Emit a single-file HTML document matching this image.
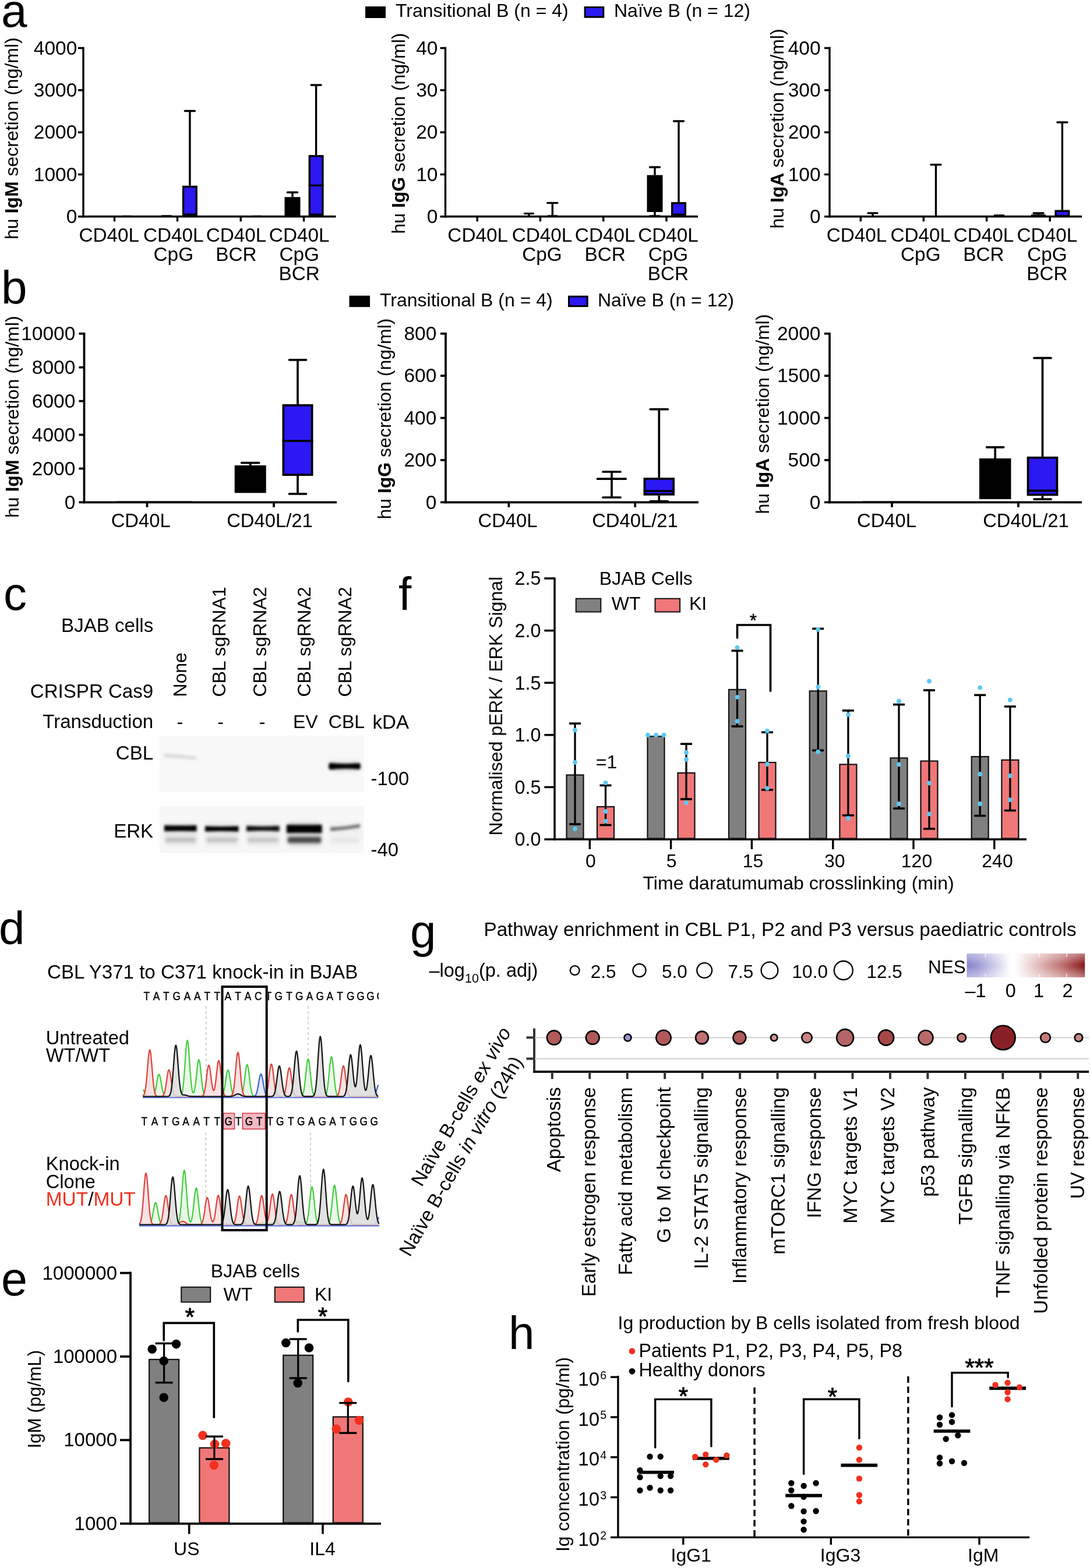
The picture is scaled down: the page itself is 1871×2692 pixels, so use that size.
<!DOCTYPE html>
<html><head><meta charset="utf-8"><title>Figure</title>
<style>
html,body{margin:0;padding:0;background:#fff;}
svg{display:block;}
text{font-family:"Liberation Sans",Arial,Helvetica,sans-serif;}
</style></head><body>
<svg width="1871" height="2692" viewBox="0 0 1871 2692">
<rect x="0" y="0" width="1871" height="2692" fill="#fff"/>
<text x="2" y="46" font-size="80">a</text>
<text x="2" y="521" font-size="80">b</text>
<text x="6" y="1047" font-size="80">c</text>
<text x="684" y="1047" font-size="80">f</text>
<text x="-2" y="1621" font-size="80">d</text>
<text x="2" y="2223.5" font-size="81">e</text>
<text x="704" y="1626" font-size="80">g</text>
<text x="873" y="2316" font-size="80">h</text>
<rect x="627" y="11" width="35" height="20" fill="#000"/>
<text x="679" y="29" font-size="32">Transitional B (n = 4)</text>
<rect x="1004.1" y="12.5" width="31.7" height="16.7" fill="#2b18f3" stroke="#000" stroke-width="3"/>
<text x="1054" y="29" font-size="32">Na&#239;ve B (n = 12)</text>
<rect x="599.5" y="507.6" width="35.5" height="19.5" fill="#000"/>
<text x="652" y="526" font-size="32">Transitional B (n = 4)</text>
<rect x="976.5" y="509.1" width="31.7" height="16.5" fill="#2b18f3" stroke="#000" stroke-width="3"/>
<text x="1026" y="526" font-size="32">Na&#239;ve B (n = 12)</text>
<line x1="143" y1="80.8" x2="143" y2="373.5" stroke="#000" stroke-width="3.4" stroke-linecap="butt"/>
<line x1="134" y1="82.5" x2="143" y2="82.5" stroke="#000" stroke-width="3.4" stroke-linecap="butt"/>
<text x="132.3" y="93.7" font-size="33.5" text-anchor="end">4000</text>
<line x1="134" y1="154.82" x2="143" y2="154.82" stroke="#000" stroke-width="3.4" stroke-linecap="butt"/>
<text x="132.3" y="166.02" font-size="33.5" text-anchor="end">3000</text>
<line x1="134" y1="227.15" x2="143" y2="227.15" stroke="#000" stroke-width="3.4" stroke-linecap="butt"/>
<text x="132.3" y="238.35" font-size="33.5" text-anchor="end">2000</text>
<line x1="134" y1="299.48" x2="143" y2="299.48" stroke="#000" stroke-width="3.4" stroke-linecap="butt"/>
<text x="132.3" y="310.68" font-size="33.5" text-anchor="end">1000</text>
<line x1="134" y1="371.8" x2="143" y2="371.8" stroke="#000" stroke-width="3.4" stroke-linecap="butt"/>
<text x="132.3" y="383" font-size="33.5" text-anchor="end">0</text>
<line x1="141.3" y1="371.8" x2="576.5" y2="371.8" stroke="#000" stroke-width="3.4" stroke-linecap="butt"/>
<line x1="196.5" y1="371.8" x2="196.5" y2="380.3" stroke="#000" stroke-width="3.4" stroke-linecap="butt"/>
<line x1="304.5" y1="371.8" x2="304.5" y2="380.3" stroke="#000" stroke-width="3.4" stroke-linecap="butt"/>
<line x1="413.2" y1="371.8" x2="413.2" y2="380.3" stroke="#000" stroke-width="3.4" stroke-linecap="butt"/>
<line x1="521.5" y1="371.8" x2="521.5" y2="380.3" stroke="#000" stroke-width="3.4" stroke-linecap="butt"/>
<line x1="210" y1="371" x2="226" y2="371" stroke="#000" stroke-width="2.5" stroke-linecap="round"/>
<line x1="278" y1="370.5" x2="294" y2="370.5" stroke="#000" stroke-width="2.5" stroke-linecap="round"/>
<line x1="434" y1="371" x2="449" y2="371" stroke="#000" stroke-width="2.5" stroke-linecap="round"/>
<line x1="325.9" y1="190.5" x2="325.9" y2="318.8" stroke="#000" stroke-width="3.4" stroke-linecap="butt"/>
<line x1="317.4" y1="190.5" x2="334.4" y2="190.5" stroke="#000" stroke-width="3.4" stroke-linecap="round"/>
<rect x="314.6" y="320.5" width="22.6" height="47.8" fill="#2b18f3" stroke="#000" stroke-width="3.4"/>
<line x1="502" y1="330.2" x2="502" y2="338.3" stroke="#000" stroke-width="3.4" stroke-linecap="butt"/>
<line x1="493.5" y1="330.2" x2="510.5" y2="330.2" stroke="#000" stroke-width="3.4" stroke-linecap="round"/>
<rect x="490.2" y="340" width="23.6" height="28.3" fill="#000" stroke="#000" stroke-width="3.4"/>
<line x1="542.6" y1="146" x2="542.6" y2="266.2" stroke="#000" stroke-width="3.4" stroke-linecap="butt"/>
<line x1="534.1" y1="146" x2="551.1" y2="146" stroke="#000" stroke-width="3.4" stroke-linecap="round"/>
<rect x="531.3" y="267.9" width="22.6" height="100.4" fill="#2b18f3" stroke="#000" stroke-width="3.4"/>
<line x1="529.6" y1="318.4" x2="555.6" y2="318.4" stroke="#000" stroke-width="3.4" stroke-linecap="butt"/>
<text x="187.3" y="414.5" font-size="33.3" text-anchor="middle">CD40L</text>
<text x="297.8" y="414.5" font-size="33.3" text-anchor="middle">CD40L</text>
<text x="297.8" y="447.5" font-size="33.3" text-anchor="middle">CpG</text>
<text x="405.5" y="414.5" font-size="33.3" text-anchor="middle">CD40L</text>
<text x="405.5" y="447.5" font-size="33.3" text-anchor="middle">BCR</text>
<text x="513.7" y="414.5" font-size="33.3" text-anchor="middle">CD40L</text>
<text x="513.7" y="447.5" font-size="33.3" text-anchor="middle">CpG</text>
<text x="513.7" y="480.5" font-size="33.3" text-anchor="middle">BCR</text>
<text x="31" y="411" font-size="32" transform="rotate(-90 31 411)">hu <tspan font-weight="bold">IgM</tspan> secretion (ng/ml)</text>
<line x1="764.5" y1="80.8" x2="764.5" y2="373.5" stroke="#000" stroke-width="3.4" stroke-linecap="butt"/>
<line x1="755.5" y1="82.5" x2="764.5" y2="82.5" stroke="#000" stroke-width="3.4" stroke-linecap="butt"/>
<text x="751.5" y="93.7" font-size="33.5" text-anchor="end">40</text>
<line x1="755.5" y1="154.82" x2="764.5" y2="154.82" stroke="#000" stroke-width="3.4" stroke-linecap="butt"/>
<text x="751.5" y="166.02" font-size="33.5" text-anchor="end">30</text>
<line x1="755.5" y1="227.15" x2="764.5" y2="227.15" stroke="#000" stroke-width="3.4" stroke-linecap="butt"/>
<text x="751.5" y="238.35" font-size="33.5" text-anchor="end">20</text>
<line x1="755.5" y1="299.48" x2="764.5" y2="299.48" stroke="#000" stroke-width="3.4" stroke-linecap="butt"/>
<text x="751.5" y="310.68" font-size="33.5" text-anchor="end">10</text>
<line x1="755.5" y1="371.8" x2="764.5" y2="371.8" stroke="#000" stroke-width="3.4" stroke-linecap="butt"/>
<text x="751.5" y="383" font-size="33.5" text-anchor="end">0</text>
<line x1="762.8" y1="371.8" x2="1198" y2="371.8" stroke="#000" stroke-width="3.4" stroke-linecap="butt"/>
<line x1="819.2" y1="371.8" x2="819.2" y2="380.3" stroke="#000" stroke-width="3.4" stroke-linecap="butt"/>
<line x1="927.4" y1="371.8" x2="927.4" y2="380.3" stroke="#000" stroke-width="3.4" stroke-linecap="butt"/>
<line x1="1035.7" y1="371.8" x2="1035.7" y2="380.3" stroke="#000" stroke-width="3.4" stroke-linecap="butt"/>
<line x1="1144" y1="371.8" x2="1144" y2="380.3" stroke="#000" stroke-width="3.4" stroke-linecap="butt"/>
<line x1="908" y1="366.6" x2="908" y2="371" stroke="#000" stroke-width="3.4" stroke-linecap="butt"/>
<line x1="900.5" y1="366.6" x2="915.5" y2="366.6" stroke="#000" stroke-width="3.4" stroke-linecap="round"/>
<line x1="940" y1="370.5" x2="957" y2="370.5" stroke="#000" stroke-width="2.5" stroke-linecap="butt"/>
<line x1="948.3" y1="348.4" x2="948.3" y2="371" stroke="#000" stroke-width="3.4" stroke-linecap="butt"/>
<line x1="939.8" y1="348.4" x2="956.8" y2="348.4" stroke="#000" stroke-width="3.4" stroke-linecap="round"/>
<line x1="1124" y1="287" x2="1124" y2="300.6" stroke="#000" stroke-width="3.4" stroke-linecap="butt"/>
<line x1="1115.5" y1="287" x2="1132.5" y2="287" stroke="#000" stroke-width="3.4" stroke-linecap="round"/>
<line x1="1124" y1="364" x2="1124" y2="371" stroke="#000" stroke-width="3.4" stroke-linecap="butt"/>
<line x1="1115.5" y1="371" x2="1132.5" y2="371" stroke="#000" stroke-width="3.4" stroke-linecap="round"/>
<rect x="1112.2" y="302.3" width="23.6" height="60" fill="#000" stroke="#000" stroke-width="3.4"/>
<line x1="1165" y1="208" x2="1165" y2="347" stroke="#000" stroke-width="3.4" stroke-linecap="butt"/>
<line x1="1156.5" y1="208" x2="1173.5" y2="208" stroke="#000" stroke-width="3.4" stroke-linecap="round"/>
<rect x="1153.7" y="348.7" width="22.6" height="19.6" fill="#2b18f3" stroke="#000" stroke-width="3.4"/>
<text x="820.2" y="414.5" font-size="33.3" text-anchor="middle">CD40L</text>
<text x="930.5" y="414.5" font-size="33.3" text-anchor="middle">CD40L</text>
<text x="930.5" y="447.5" font-size="33.3" text-anchor="middle">CpG</text>
<text x="1038.7" y="414.5" font-size="33.3" text-anchor="middle">CD40L</text>
<text x="1038.7" y="447.5" font-size="33.3" text-anchor="middle">BCR</text>
<text x="1147" y="414.5" font-size="33.3" text-anchor="middle">CD40L</text>
<text x="1147" y="447.5" font-size="33.3" text-anchor="middle">CpG</text>
<text x="1147" y="480.5" font-size="33.3" text-anchor="middle">BCR</text>
<text x="695.5" y="401.6" font-size="32" transform="rotate(-90 695.5 401.6)">hu <tspan font-weight="bold">IgG</tspan> secretion (ng/ml)</text>
<line x1="1424" y1="80.8" x2="1424" y2="373.5" stroke="#000" stroke-width="3.4" stroke-linecap="butt"/>
<line x1="1415" y1="82.5" x2="1424" y2="82.5" stroke="#000" stroke-width="3.4" stroke-linecap="butt"/>
<text x="1408.6" y="93.7" font-size="33.5" text-anchor="end">400</text>
<line x1="1415" y1="154.82" x2="1424" y2="154.82" stroke="#000" stroke-width="3.4" stroke-linecap="butt"/>
<text x="1408.6" y="166.02" font-size="33.5" text-anchor="end">300</text>
<line x1="1415" y1="227.15" x2="1424" y2="227.15" stroke="#000" stroke-width="3.4" stroke-linecap="butt"/>
<text x="1408.6" y="238.35" font-size="33.5" text-anchor="end">200</text>
<line x1="1415" y1="299.48" x2="1424" y2="299.48" stroke="#000" stroke-width="3.4" stroke-linecap="butt"/>
<text x="1408.6" y="310.68" font-size="33.5" text-anchor="end">100</text>
<line x1="1415" y1="371.8" x2="1424" y2="371.8" stroke="#000" stroke-width="3.4" stroke-linecap="butt"/>
<text x="1408.6" y="383" font-size="33.5" text-anchor="end">0</text>
<line x1="1422.3" y1="371.8" x2="1857" y2="371.8" stroke="#000" stroke-width="3.4" stroke-linecap="butt"/>
<line x1="1477.3" y1="371.8" x2="1477.3" y2="380.3" stroke="#000" stroke-width="3.4" stroke-linecap="butt"/>
<line x1="1585.3" y1="371.8" x2="1585.3" y2="380.3" stroke="#000" stroke-width="3.4" stroke-linecap="butt"/>
<line x1="1693.6" y1="371.8" x2="1693.6" y2="380.3" stroke="#000" stroke-width="3.4" stroke-linecap="butt"/>
<line x1="1802.2" y1="371.8" x2="1802.2" y2="380.3" stroke="#000" stroke-width="3.4" stroke-linecap="butt"/>
<line x1="1498" y1="365.9" x2="1498" y2="371" stroke="#000" stroke-width="3.4" stroke-linecap="butt"/>
<line x1="1490" y1="365.9" x2="1506" y2="365.9" stroke="#000" stroke-width="3.4" stroke-linecap="round"/>
<line x1="1606.5" y1="282.8" x2="1606.5" y2="371" stroke="#000" stroke-width="3.4" stroke-linecap="butt"/>
<line x1="1598" y1="282.8" x2="1615" y2="282.8" stroke="#000" stroke-width="3.4" stroke-linecap="round"/>
<line x1="1707" y1="369.5" x2="1723" y2="369.5" stroke="#000" stroke-width="2.5" stroke-linecap="round"/>
<line x1="1770" y1="369.5" x2="1795" y2="369.5" stroke="#000" stroke-width="2.5" stroke-linecap="butt"/>
<line x1="1782.6" y1="366" x2="1782.6" y2="370" stroke="#000" stroke-width="3.4" stroke-linecap="butt"/>
<line x1="1774.1" y1="366" x2="1791.1" y2="366" stroke="#000" stroke-width="3.4" stroke-linecap="round"/>
<line x1="1823.4" y1="210" x2="1823.4" y2="360.5" stroke="#000" stroke-width="3.4" stroke-linecap="butt"/>
<line x1="1814.9" y1="210" x2="1831.9" y2="210" stroke="#000" stroke-width="3.4" stroke-linecap="round"/>
<rect x="1812.1" y="362.2" width="22.6" height="8.6" fill="#2b18f3" stroke="#000" stroke-width="3.4"/>
<text x="1470.5" y="414.5" font-size="33.3" text-anchor="middle">CD40L</text>
<text x="1580.3" y="414.5" font-size="33.3" text-anchor="middle">CD40L</text>
<text x="1580.3" y="447.5" font-size="33.3" text-anchor="middle">CpG</text>
<text x="1688.5" y="414.5" font-size="33.3" text-anchor="middle">CD40L</text>
<text x="1688.5" y="447.5" font-size="33.3" text-anchor="middle">BCR</text>
<text x="1797.4" y="414.5" font-size="33.3" text-anchor="middle">CD40L</text>
<text x="1797.4" y="447.5" font-size="33.3" text-anchor="middle">CpG</text>
<text x="1797.4" y="480.5" font-size="33.3" text-anchor="middle">BCR</text>
<text x="1345.5" y="392.6" font-size="32" transform="rotate(-90 1345.5 392.6)">hu <tspan font-weight="bold">IgA</tspan> secretion (ng/ml)</text>
<line x1="144.5" y1="570.95" x2="144.5" y2="864.15" stroke="#000" stroke-width="3.7" stroke-linecap="butt"/>
<line x1="135.5" y1="572.8" x2="144.5" y2="572.8" stroke="#000" stroke-width="3.7" stroke-linecap="butt"/>
<text x="129.3" y="584" font-size="33.5" text-anchor="end">10000</text>
<line x1="135.5" y1="630.7" x2="144.5" y2="630.7" stroke="#000" stroke-width="3.7" stroke-linecap="butt"/>
<text x="129.3" y="641.9" font-size="33.5" text-anchor="end">8000</text>
<line x1="135.5" y1="688.6" x2="144.5" y2="688.6" stroke="#000" stroke-width="3.7" stroke-linecap="butt"/>
<text x="129.3" y="699.8" font-size="33.5" text-anchor="end">6000</text>
<line x1="135.5" y1="746.5" x2="144.5" y2="746.5" stroke="#000" stroke-width="3.7" stroke-linecap="butt"/>
<text x="129.3" y="757.7" font-size="33.5" text-anchor="end">4000</text>
<line x1="135.5" y1="804.4" x2="144.5" y2="804.4" stroke="#000" stroke-width="3.7" stroke-linecap="butt"/>
<text x="129.3" y="815.6" font-size="33.5" text-anchor="end">2000</text>
<line x1="135.5" y1="862.3" x2="144.5" y2="862.3" stroke="#000" stroke-width="3.7" stroke-linecap="butt"/>
<text x="129.3" y="873.5" font-size="33.5" text-anchor="end">0</text>
<line x1="142.65" y1="862.3" x2="578" y2="862.3" stroke="#000" stroke-width="3.7" stroke-linecap="butt"/>
<line x1="252.5" y1="862.3" x2="252.5" y2="870.8" stroke="#000" stroke-width="3.7" stroke-linecap="butt"/>
<line x1="470" y1="862.3" x2="470" y2="870.8" stroke="#000" stroke-width="3.7" stroke-linecap="butt"/>
<line x1="200" y1="861.5" x2="330" y2="861.5" stroke="#000" stroke-width="2" stroke-linecap="butt"/>
<line x1="429.7" y1="794.6" x2="429.7" y2="798.9" stroke="#000" stroke-width="3.7" stroke-linecap="butt"/>
<line x1="414.7" y1="794.6" x2="444.7" y2="794.6" stroke="#000" stroke-width="3.7" stroke-linecap="round"/>
<rect x="404.55" y="800.75" width="50.3" height="43.7" fill="#000" stroke="#000" stroke-width="3.7"/>
<line x1="511" y1="617.8" x2="511" y2="694" stroke="#000" stroke-width="3.7" stroke-linecap="butt"/>
<line x1="496.5" y1="617.8" x2="525.5" y2="617.8" stroke="#000" stroke-width="3.7" stroke-linecap="round"/>
<line x1="511" y1="817" x2="511" y2="847.8" stroke="#000" stroke-width="3.7" stroke-linecap="butt"/>
<line x1="496.5" y1="847.8" x2="525.5" y2="847.8" stroke="#000" stroke-width="3.7" stroke-linecap="round"/>
<rect x="486.35" y="695.85" width="49.3" height="119.3" fill="#2b18f3" stroke="#000" stroke-width="3.7"/>
<line x1="484.5" y1="757" x2="537.5" y2="757" stroke="#000" stroke-width="3.7" stroke-linecap="butt"/>
<text x="241.7" y="904.5" font-size="32.8" text-anchor="middle">CD40L</text>
<text x="463" y="904.5" font-size="32.8" text-anchor="middle">CD40L/21</text>
<text x="32" y="889" font-size="32" transform="rotate(-90 32 889)">hu <tspan font-weight="bold">IgM</tspan> secretion (ng/ml)</text>
<line x1="765" y1="570.95" x2="765" y2="864.15" stroke="#000" stroke-width="3.7" stroke-linecap="butt"/>
<line x1="756" y1="572.8" x2="765" y2="572.8" stroke="#000" stroke-width="3.7" stroke-linecap="butt"/>
<text x="749.3" y="584" font-size="33.5" text-anchor="end">800</text>
<line x1="756" y1="645.17" x2="765" y2="645.17" stroke="#000" stroke-width="3.7" stroke-linecap="butt"/>
<text x="749.3" y="656.38" font-size="33.5" text-anchor="end">600</text>
<line x1="756" y1="717.55" x2="765" y2="717.55" stroke="#000" stroke-width="3.7" stroke-linecap="butt"/>
<text x="749.3" y="728.75" font-size="33.5" text-anchor="end">400</text>
<line x1="756" y1="789.92" x2="765" y2="789.92" stroke="#000" stroke-width="3.7" stroke-linecap="butt"/>
<text x="749.3" y="801.12" font-size="33.5" text-anchor="end">200</text>
<line x1="756" y1="862.3" x2="765" y2="862.3" stroke="#000" stroke-width="3.7" stroke-linecap="butt"/>
<text x="749.3" y="873.5" font-size="33.5" text-anchor="end">0</text>
<line x1="763.15" y1="862.3" x2="1199" y2="862.3" stroke="#000" stroke-width="3.7" stroke-linecap="butt"/>
<line x1="873.3" y1="862.3" x2="873.3" y2="870.8" stroke="#000" stroke-width="3.7" stroke-linecap="butt"/>
<line x1="1090.2" y1="862.3" x2="1090.2" y2="870.8" stroke="#000" stroke-width="3.7" stroke-linecap="butt"/>
<line x1="1025.5" y1="822.2" x2="1074.1" y2="822.2" stroke="#000" stroke-width="3.7" stroke-linecap="round"/>
<line x1="1050" y1="810" x2="1050" y2="854" stroke="#000" stroke-width="3.7" stroke-linecap="butt"/>
<line x1="1035" y1="810" x2="1065" y2="810" stroke="#000" stroke-width="3.7" stroke-linecap="round"/>
<line x1="1035" y1="854" x2="1065" y2="854" stroke="#000" stroke-width="3.7" stroke-linecap="round"/>
<line x1="1131.3" y1="702.6" x2="1131.3" y2="820.1" stroke="#000" stroke-width="3.7" stroke-linecap="butt"/>
<line x1="1116.3" y1="702.6" x2="1146.3" y2="702.6" stroke="#000" stroke-width="3.7" stroke-linecap="round"/>
<line x1="1131.3" y1="850.7" x2="1131.3" y2="860.5" stroke="#000" stroke-width="3.7" stroke-linecap="butt"/>
<line x1="1116.3" y1="860.5" x2="1146.3" y2="860.5" stroke="#000" stroke-width="3.7" stroke-linecap="round"/>
<rect x="1106.4" y="821.95" width="49.8" height="26.9" fill="#2b18f3" stroke="#000" stroke-width="3.7"/>
<line x1="1104.55" y1="843" x2="1158.05" y2="843" stroke="#000" stroke-width="3.7" stroke-linecap="butt"/>
<text x="871.5" y="905" font-size="32.8" text-anchor="middle">CD40L</text>
<text x="1090" y="905" font-size="32.8" text-anchor="middle">CD40L/21</text>
<text x="671.5" y="891.6" font-size="32" transform="rotate(-90 671.5 891.6)">hu <tspan font-weight="bold">IgG</tspan> secretion (ng/ml)</text>
<line x1="1424" y1="570.95" x2="1424" y2="864.15" stroke="#000" stroke-width="3.7" stroke-linecap="butt"/>
<line x1="1415" y1="572.8" x2="1424" y2="572.8" stroke="#000" stroke-width="3.7" stroke-linecap="butt"/>
<text x="1408.5" y="584" font-size="33.5" text-anchor="end">2000</text>
<line x1="1415" y1="645.17" x2="1424" y2="645.17" stroke="#000" stroke-width="3.7" stroke-linecap="butt"/>
<text x="1408.5" y="656.38" font-size="33.5" text-anchor="end">1500</text>
<line x1="1415" y1="717.55" x2="1424" y2="717.55" stroke="#000" stroke-width="3.7" stroke-linecap="butt"/>
<text x="1408.5" y="728.75" font-size="33.5" text-anchor="end">1000</text>
<line x1="1415" y1="789.92" x2="1424" y2="789.92" stroke="#000" stroke-width="3.7" stroke-linecap="butt"/>
<text x="1408.5" y="801.12" font-size="33.5" text-anchor="end">500</text>
<line x1="1415" y1="862.3" x2="1424" y2="862.3" stroke="#000" stroke-width="3.7" stroke-linecap="butt"/>
<text x="1408.5" y="873.5" font-size="33.5" text-anchor="end">0</text>
<line x1="1422.15" y1="862.3" x2="1857" y2="862.3" stroke="#000" stroke-width="3.7" stroke-linecap="butt"/>
<line x1="1531" y1="862.3" x2="1531" y2="870.8" stroke="#000" stroke-width="3.7" stroke-linecap="butt"/>
<line x1="1748" y1="862.3" x2="1748" y2="870.8" stroke="#000" stroke-width="3.7" stroke-linecap="butt"/>
<line x1="1480" y1="861.5" x2="1580" y2="861.5" stroke="#000" stroke-width="2" stroke-linecap="butt"/>
<line x1="1708.2" y1="767.8" x2="1708.2" y2="787" stroke="#000" stroke-width="3.7" stroke-linecap="butt"/>
<line x1="1693.7" y1="767.8" x2="1722.7" y2="767.8" stroke="#000" stroke-width="3.7" stroke-linecap="round"/>
<rect x="1682.8" y="788.85" width="50.8" height="66.3" fill="#000" stroke="#000" stroke-width="3.7"/>
<line x1="1789.5" y1="614.7" x2="1789.5" y2="783.9" stroke="#000" stroke-width="3.7" stroke-linecap="butt"/>
<line x1="1775" y1="614.7" x2="1804" y2="614.7" stroke="#000" stroke-width="3.7" stroke-linecap="round"/>
<line x1="1789.5" y1="851.3" x2="1789.5" y2="857" stroke="#000" stroke-width="3.7" stroke-linecap="butt"/>
<line x1="1775" y1="857" x2="1804" y2="857" stroke="#000" stroke-width="3.7" stroke-linecap="round"/>
<rect x="1764.55" y="785.75" width="49.9" height="63.7" fill="#2b18f3" stroke="#000" stroke-width="3.7"/>
<line x1="1762.7" y1="842.4" x2="1816.3" y2="842.4" stroke="#000" stroke-width="3.7" stroke-linecap="butt"/>
<text x="1522" y="905" font-size="32.8" text-anchor="middle">CD40L</text>
<text x="1761" y="905" font-size="32.8" text-anchor="middle">CD40L/21</text>
<text x="1320.5" y="882.6" font-size="32" transform="rotate(-90 1320.5 882.6)">hu <tspan font-weight="bold">IgA</tspan> secretion (ng/ml)</text>
<defs><filter id="bl2" x="-20%" y="-100%" width="140%" height="300%"><feGaussianBlur stdDeviation="2.1"/></filter><filter id="bl3" x="-20%" y="-100%" width="140%" height="300%"><feGaussianBlur stdDeviation="2.4"/></filter><linearGradient id="nes" x1="0" x2="1" y1="0" y2="0"><stop offset="0" stop-color="#8884cc"/><stop offset="0.1" stop-color="#9e9bd6"/><stop offset="0.25" stop-color="#d2d1ec"/><stop offset="0.37" stop-color="#ffffff"/><stop offset="0.41" stop-color="#ffffff"/><stop offset="0.6" stop-color="#e3bcbc"/><stop offset="0.8" stop-color="#c07474"/><stop offset="1" stop-color="#8a1a1e"/></linearGradient><linearGradient id="nesv" x1="0" x2="0" y1="0" y2="1"><stop offset="0" stop-color="#fff" stop-opacity="0.42"/><stop offset="0.45" stop-color="#fff" stop-opacity="0"/><stop offset="0.55" stop-color="#fff" stop-opacity="0"/><stop offset="1" stop-color="#fff" stop-opacity="0.42"/></linearGradient></defs>
<text x="263.2" y="1085.3" font-size="33.1" text-anchor="end">BJAB cells</text>
<text x="263.2" y="1198.3" font-size="33.1" text-anchor="end">CRISPR Cas9</text>
<text x="263.2" y="1250.4" font-size="33.1" text-anchor="end">Transduction</text>
<text x="263.2" y="1303.5" font-size="33.1" text-anchor="end">CBL</text>
<text x="263.2" y="1438" font-size="33.1" text-anchor="end">ERK</text>
<text x="319.8" y="1196.6" font-size="32" transform="rotate(-90 319.8 1196.6)">None</text>
<text x="387" y="1196.6" font-size="32" transform="rotate(-90 387 1196.6)">CBL sgRNA1</text>
<text x="457" y="1196.6" font-size="32" transform="rotate(-90 457 1196.6)">CBL sgRNA2</text>
<text x="533" y="1196.6" font-size="32" transform="rotate(-90 533 1196.6)">CBL sgRNA2</text>
<text x="603" y="1196.6" font-size="32" transform="rotate(-90 603 1196.6)">CBL sgRNA2</text>
<text x="308.8" y="1249.6" font-size="32" text-anchor="middle">-</text>
<text x="378.5" y="1249.6" font-size="32" text-anchor="middle">-</text>
<text x="450" y="1249.6" font-size="32" text-anchor="middle">-</text>
<text x="502.9" y="1249.6" font-size="32">EV</text>
<text x="563.8" y="1249.6" font-size="32">CBL</text>
<text x="639.6" y="1251" font-size="33">kDA</text>
<text x="636.5" y="1348" font-size="32.8">-100</text>
<text x="636.5" y="1469.6" font-size="32.8">-40</text>
<filter id="bl4" x="-30%" y="-200%" width="160%" height="500%"><feGaussianBlur stdDeviation="3.5"/></filter>
<rect x="274" y="1263" width="350.6" height="96.5" fill="#f8f8f8"/>
<rect x="274" y="1384" width="350.6" height="80" fill="#f7f7f7"/>
<g filter="url(#bl4)"><rect x="566" y="1306" width="52" height="19" rx="8" fill="#e2e2e2"/></g>
<g filter="url(#bl2)">
<path d="M281,1294 Q310,1295 337,1299 L337,1304 Q310,1302 281,1300 Z" fill="#dadada"/>
<path d="M566,1309.5 Q590,1312.5 617,1310 Q621,1315.5 617,1321 Q590,1318.5 566,1321.5 Q562,1315.5 566,1309.5 Z" fill="#050505"/>
</g>
<g filter="url(#bl4)">
<rect x="283" y="1412" width="54" height="40" rx="6" fill="#e6e6e6"/>
<rect x="353" y="1412" width="56" height="40" rx="6" fill="#e8e8e8"/>
<rect x="424" y="1412" width="55" height="40" rx="6" fill="#e8e8e8"/>
<rect x="493" y="1412" width="59" height="40" rx="6" fill="#cfcfcf"/>
<rect x="567" y="1412" width="51" height="40" rx="6" fill="#f0f0f0"/>
</g>
<g filter="url(#bl3)">
<rect x="284" y="1438.5" width="52" height="7" rx="3" fill="#bdbdbd"/>
<rect x="354" y="1438.5" width="54" height="7" rx="3" fill="#c2c2c2"/>
<rect x="425" y="1438.5" width="53" height="7" rx="3" fill="#c4c4c4"/>
<rect x="494" y="1437.0" width="57" height="10" rx="3" fill="#484848"/>
<rect x="569" y="1439.5" width="47" height="5" rx="3" fill="#e2e2e2"/>
</g>
<g filter="url(#bl2)">
<path d="M282,1416.75 Q309.75,1417.8 337.5,1416.75 L337.5,1427.25 Q309.75,1426.2 282,1427.25 Z" fill="#000"/>
<path d="M352,1418.25 Q380.75,1419.675 409.5,1418.25 L409.5,1427.75 Q380.75,1426.325 352,1427.75 Z" fill="#050505"/>
<path d="M423,1417.75 Q451.25,1419.8875 479.5,1417.75 L479.5,1427.25 Q451.25,1425.1125 423,1427.25 Z" fill="#080808"/>
<path d="M492,1416.0 Q522.25,1416.7 552.5,1416.0 L552.5,1430.0 Q522.25,1429.3 492,1430.0 Z" fill="#000"/>
<path d="M567,1420 Q590,1419.5 618,1414.5 L618,1421 Q592,1425 567,1427 Z" fill="#7a7a7a"/>
</g>
<line x1="952" y1="991.6" x2="952" y2="1442.7" stroke="#000" stroke-width="3.5" stroke-linecap="butt"/>
<line x1="934.3" y1="1441" x2="952" y2="1441" stroke="#000" stroke-width="3.5" stroke-linecap="butt"/>
<text x="928.5" y="1452.4" font-size="32.3" text-anchor="end">0.0</text>
<line x1="934.3" y1="1351.4" x2="952" y2="1351.4" stroke="#000" stroke-width="3.5" stroke-linecap="butt"/>
<text x="928.5" y="1362.8" font-size="32.3" text-anchor="end">0.5</text>
<line x1="934.3" y1="1261.8" x2="952" y2="1261.8" stroke="#000" stroke-width="3.5" stroke-linecap="butt"/>
<text x="928.5" y="1273.2" font-size="32.3" text-anchor="end">1.0</text>
<line x1="934.3" y1="1172.2" x2="952" y2="1172.2" stroke="#000" stroke-width="3.5" stroke-linecap="butt"/>
<text x="928.5" y="1183.6" font-size="32.3" text-anchor="end">1.5</text>
<line x1="934.3" y1="1082.6" x2="952" y2="1082.6" stroke="#000" stroke-width="3.5" stroke-linecap="butt"/>
<text x="928.5" y="1094" font-size="32.3" text-anchor="end">2.0</text>
<line x1="934.3" y1="993" x2="952" y2="993" stroke="#000" stroke-width="3.5" stroke-linecap="butt"/>
<text x="928.5" y="1004.4" font-size="32.3" text-anchor="end">2.5</text>
<line x1="950.4" y1="1441" x2="1762" y2="1441" stroke="#000" stroke-width="3.4" stroke-linecap="butt"/>
<line x1="1012.3" y1="1441" x2="1012.3" y2="1458" stroke="#000" stroke-width="3.4" stroke-linecap="butt"/>
<text x="1013.8" y="1489.3" font-size="32" text-anchor="middle">0</text>
<line x1="1151.6" y1="1441" x2="1151.6" y2="1458" stroke="#000" stroke-width="3.4" stroke-linecap="butt"/>
<text x="1152.6" y="1489.3" font-size="32" text-anchor="middle">5</text>
<line x1="1290.4" y1="1441" x2="1290.4" y2="1458" stroke="#000" stroke-width="3.4" stroke-linecap="butt"/>
<text x="1292.6" y="1489.3" font-size="32" text-anchor="middle">15</text>
<line x1="1429.8" y1="1441" x2="1429.8" y2="1458" stroke="#000" stroke-width="3.4" stroke-linecap="butt"/>
<text x="1432.8" y="1489.3" font-size="32" text-anchor="middle">30</text>
<line x1="1568" y1="1441" x2="1568" y2="1458" stroke="#000" stroke-width="3.4" stroke-linecap="butt"/>
<text x="1573.5" y="1489.3" font-size="32" text-anchor="middle">120</text>
<line x1="1706.8" y1="1441" x2="1706.8" y2="1458" stroke="#000" stroke-width="3.4" stroke-linecap="butt"/>
<text x="1712" y="1489.3" font-size="32" text-anchor="middle">240</text>
<text x="1103.5" y="1527.3" font-size="32">Time daratumumab crosslinking (min)</text>
<text x="862" y="1434.5" font-size="32" transform="rotate(-90 862 1434.5)">Normalised pERK / ERK Signal</text>
<text x="1028.8" y="1004" font-size="32">BJAB Cells</text>
<rect x="988.7" y="1027.7" width="42.6" height="22.8" fill="#808080" stroke="#111" stroke-width="2"/>
<text x="1049.8" y="1047" font-size="32">WT</text>
<rect x="1124.5" y="1027.7" width="42.6" height="22.8" fill="#f07778" stroke="#111" stroke-width="2"/>
<text x="1183" y="1047" font-size="32">KI</text>
<rect x="972.5" y="1330.5" width="29" height="109" fill="#808080" stroke="#111" stroke-width="2.2"/>
<rect x="1025" y="1385" width="29" height="54.5" fill="#f07778" stroke="#111" stroke-width="2.2"/>
<rect x="1111.5" y="1264.2" width="29" height="175.3" fill="#808080" stroke="#111" stroke-width="2.2"/>
<rect x="1163.5" y="1327" width="29" height="112.5" fill="#f07778" stroke="#111" stroke-width="2.2"/>
<rect x="1251" y="1183.9" width="29" height="255.6" fill="#808080" stroke="#111" stroke-width="2.2"/>
<rect x="1302.5" y="1309" width="29" height="130.5" fill="#f07778" stroke="#111" stroke-width="2.2"/>
<rect x="1389.7" y="1186.4" width="29" height="253.1" fill="#808080" stroke="#111" stroke-width="2.2"/>
<rect x="1441.4" y="1312.4" width="29" height="127.1" fill="#f07778" stroke="#111" stroke-width="2.2"/>
<rect x="1528.5" y="1301.4" width="29" height="138.1" fill="#808080" stroke="#111" stroke-width="2.2"/>
<rect x="1580.5" y="1306.6" width="29" height="132.9" fill="#f07778" stroke="#111" stroke-width="2.2"/>
<rect x="1667.7" y="1299" width="29" height="140.5" fill="#808080" stroke="#111" stroke-width="2.2"/>
<rect x="1719.4" y="1304.8" width="29" height="134.7" fill="#f07778" stroke="#111" stroke-width="2.2"/>
<line x1="987" y1="1242.1" x2="987" y2="1415" stroke="#000" stroke-width="3.3" stroke-linecap="butt"/>
<line x1="977" y1="1242.1" x2="997" y2="1242.1" stroke="#000" stroke-width="3.6" stroke-linecap="butt"/>
<line x1="977" y1="1415" x2="997" y2="1415" stroke="#000" stroke-width="3.6" stroke-linecap="butt"/>
<circle cx="987" cy="1253.7" r="3.9" fill="#5cc8f2"/>
<circle cx="987" cy="1308.8" r="3.9" fill="#5cc8f2"/>
<circle cx="987" cy="1423" r="3.9" fill="#5cc8f2"/>
<line x1="1039.5" y1="1348.4" x2="1039.5" y2="1416.5" stroke="#000" stroke-width="3.3" stroke-linecap="butt"/>
<line x1="1029.5" y1="1348.4" x2="1049.5" y2="1348.4" stroke="#000" stroke-width="3.6" stroke-linecap="butt"/>
<line x1="1029.5" y1="1416.5" x2="1049.5" y2="1416.5" stroke="#000" stroke-width="3.6" stroke-linecap="butt"/>
<circle cx="1039.5" cy="1343.9" r="3.9" fill="#5cc8f2"/>
<circle cx="1039.5" cy="1393" r="3.9" fill="#5cc8f2"/>
<circle cx="1039.5" cy="1409.8" r="3.9" fill="#5cc8f2"/>
<line x1="1178" y1="1277.2" x2="1178" y2="1372" stroke="#000" stroke-width="3.3" stroke-linecap="butt"/>
<line x1="1168" y1="1277.2" x2="1188" y2="1277.2" stroke="#000" stroke-width="3.6" stroke-linecap="butt"/>
<line x1="1168" y1="1372" x2="1188" y2="1372" stroke="#000" stroke-width="3.6" stroke-linecap="butt"/>
<circle cx="1178" cy="1292" r="3.9" fill="#5cc8f2"/>
<circle cx="1178" cy="1303.9" r="3.9" fill="#5cc8f2"/>
<circle cx="1178" cy="1378.2" r="3.9" fill="#5cc8f2"/>
<line x1="1265.5" y1="1117.2" x2="1265.5" y2="1247" stroke="#000" stroke-width="3.3" stroke-linecap="butt"/>
<line x1="1255.5" y1="1117.2" x2="1275.5" y2="1117.2" stroke="#000" stroke-width="3.6" stroke-linecap="butt"/>
<line x1="1255.5" y1="1247" x2="1275.5" y2="1247" stroke="#000" stroke-width="3.6" stroke-linecap="butt"/>
<circle cx="1265.5" cy="1111.6" r="3.9" fill="#5cc8f2"/>
<circle cx="1265.5" cy="1196.8" r="3.9" fill="#5cc8f2"/>
<circle cx="1265.5" cy="1238.2" r="3.9" fill="#5cc8f2"/>
<line x1="1317" y1="1257.2" x2="1317" y2="1356" stroke="#000" stroke-width="3.3" stroke-linecap="butt"/>
<line x1="1307" y1="1257.2" x2="1327" y2="1257.2" stroke="#000" stroke-width="3.6" stroke-linecap="butt"/>
<line x1="1307" y1="1356" x2="1327" y2="1356" stroke="#000" stroke-width="3.6" stroke-linecap="butt"/>
<circle cx="1317" cy="1255" r="3.9" fill="#5cc8f2"/>
<circle cx="1317" cy="1312" r="3.9" fill="#5cc8f2"/>
<circle cx="1317" cy="1353.3" r="3.9" fill="#5cc8f2"/>
<line x1="1404.2" y1="1079.4" x2="1404.2" y2="1288.3" stroke="#000" stroke-width="3.3" stroke-linecap="butt"/>
<line x1="1394.2" y1="1079.4" x2="1414.2" y2="1079.4" stroke="#000" stroke-width="3.6" stroke-linecap="butt"/>
<line x1="1394.2" y1="1288.3" x2="1414.2" y2="1288.3" stroke="#000" stroke-width="3.6" stroke-linecap="butt"/>
<circle cx="1404.2" cy="1080.8" r="3.9" fill="#5cc8f2"/>
<circle cx="1404.2" cy="1179.5" r="3.9" fill="#5cc8f2"/>
<circle cx="1404.2" cy="1290.7" r="3.9" fill="#5cc8f2"/>
<line x1="1455.9" y1="1219.9" x2="1455.9" y2="1399.8" stroke="#000" stroke-width="3.3" stroke-linecap="butt"/>
<line x1="1445.9" y1="1219.9" x2="1465.9" y2="1219.9" stroke="#000" stroke-width="3.6" stroke-linecap="butt"/>
<line x1="1445.9" y1="1399.8" x2="1465.9" y2="1399.8" stroke="#000" stroke-width="3.6" stroke-linecap="butt"/>
<circle cx="1455.9" cy="1226.8" r="3.9" fill="#5cc8f2"/>
<circle cx="1455.9" cy="1297.9" r="3.9" fill="#5cc8f2"/>
<circle cx="1455.9" cy="1405" r="3.9" fill="#5cc8f2"/>
<line x1="1543" y1="1209.6" x2="1543" y2="1388" stroke="#000" stroke-width="3.3" stroke-linecap="butt"/>
<line x1="1533" y1="1209.6" x2="1553" y2="1209.6" stroke="#000" stroke-width="3.6" stroke-linecap="butt"/>
<line x1="1533" y1="1388" x2="1553" y2="1388" stroke="#000" stroke-width="3.6" stroke-linecap="butt"/>
<circle cx="1543" cy="1203.7" r="3.9" fill="#5cc8f2"/>
<circle cx="1543" cy="1312.4" r="3.9" fill="#5cc8f2"/>
<circle cx="1543" cy="1380" r="3.9" fill="#5cc8f2"/>
<line x1="1595" y1="1185" x2="1595" y2="1422.9" stroke="#000" stroke-width="3.3" stroke-linecap="butt"/>
<line x1="1585" y1="1185" x2="1605" y2="1185" stroke="#000" stroke-width="3.6" stroke-linecap="butt"/>
<line x1="1585" y1="1422.9" x2="1605" y2="1422.9" stroke="#000" stroke-width="3.6" stroke-linecap="butt"/>
<circle cx="1595" cy="1169.5" r="3.9" fill="#5cc8f2"/>
<circle cx="1595" cy="1344.5" r="3.9" fill="#5cc8f2"/>
<circle cx="1595" cy="1397.4" r="3.9" fill="#5cc8f2"/>
<line x1="1682.2" y1="1193.3" x2="1682.2" y2="1400.5" stroke="#000" stroke-width="3.3" stroke-linecap="butt"/>
<line x1="1672.2" y1="1193.3" x2="1692.2" y2="1193.3" stroke="#000" stroke-width="3.6" stroke-linecap="butt"/>
<line x1="1672.2" y1="1400.5" x2="1692.2" y2="1400.5" stroke="#000" stroke-width="3.6" stroke-linecap="butt"/>
<circle cx="1682.2" cy="1180.6" r="3.9" fill="#5cc8f2"/>
<circle cx="1682.2" cy="1329" r="3.9" fill="#5cc8f2"/>
<circle cx="1682.2" cy="1380" r="3.9" fill="#5cc8f2"/>
<line x1="1733.9" y1="1213" x2="1733.9" y2="1391.5" stroke="#000" stroke-width="3.3" stroke-linecap="butt"/>
<line x1="1723.9" y1="1213" x2="1743.9" y2="1213" stroke="#000" stroke-width="3.6" stroke-linecap="butt"/>
<line x1="1723.9" y1="1391.5" x2="1743.9" y2="1391.5" stroke="#000" stroke-width="3.6" stroke-linecap="butt"/>
<circle cx="1733.9" cy="1201.6" r="3.9" fill="#5cc8f2"/>
<circle cx="1733.9" cy="1332" r="3.9" fill="#5cc8f2"/>
<circle cx="1733.9" cy="1373.2" r="3.9" fill="#5cc8f2"/>
<circle cx="1112" cy="1262" r="3.9" fill="#5cc8f2"/>
<circle cx="1126" cy="1262" r="3.9" fill="#5cc8f2"/>
<circle cx="1139.5" cy="1262" r="3.9" fill="#5cc8f2"/>
<text x="1022.8" y="1319.3" font-size="32">=1</text>
<path d="M1265.5,1095 V1073 H1322.5 V1186.3" fill="none" stroke="#000" stroke-width="3.6" stroke-linecap="round" stroke-linejoin="miter"/>
<text x="1293" y="1075.5" font-size="31" text-anchor="middle" stroke="#000" stroke-width="0.5">*</text>
<text x="81" y="1679.7" font-size="33.1">CBL Y371 to C371 knock-in in BJAB</text>
<rect x="383.4" y="1911.3" width="19.2" height="27.1" fill="#f0b9c3" stroke="#d83a48" stroke-width="1.6"/>
<rect x="416.3" y="1911.3" width="39" height="27.1" fill="#f0b9c3" stroke="#d83a48" stroke-width="1.6"/>
<clipPath id="seqclip"><rect x="230" y="1680" width="420" height="280"/></clipPath>
<g font-size="20.8" text-anchor="middle" stroke="#000" stroke-width="0.45" clip-path="url(#seqclip)">
<text transform="translate(251.84 1716.6) scale(0.83 1)">T</text>
<text transform="translate(268.42 1716.6) scale(0.83 1)">A</text>
<text transform="translate(285.26 1716.6) scale(0.83 1)">T</text>
<text transform="translate(303.16 1716.6) scale(0.83 1)">G</text>
<text transform="translate(321.58 1716.6) scale(0.83 1)">A</text>
<text transform="translate(338.68 1716.6) scale(0.83 1)">A</text>
<text transform="translate(355.79 1716.6) scale(0.83 1)">T</text>
<text transform="translate(372.89 1716.6) scale(0.83 1)">T</text>
<text transform="translate(391.32 1716.6) scale(0.83 1)">A</text>
<text transform="translate(408.42 1716.6) scale(0.83 1)">T</text>
<text transform="translate(425.53 1716.6) scale(0.83 1)">A</text>
<text transform="translate(443.16 1716.6) scale(0.83 1)">C</text>
<text transform="translate(461.05 1716.6) scale(0.83 1)">T</text>
<text transform="translate(478.16 1716.6) scale(0.83 1)">G</text>
<text transform="translate(496.58 1716.6) scale(0.83 1)">T</text>
<text transform="translate(513.68 1716.6) scale(0.83 1)">G</text>
<text transform="translate(531.58 1716.6) scale(0.83 1)">A</text>
<text transform="translate(549.21 1716.6) scale(0.83 1)">G</text>
<text transform="translate(566.32 1716.6) scale(0.83 1)">A</text>
<text transform="translate(583.42 1716.6) scale(0.83 1)">T</text>
<text transform="translate(601.84 1716.6) scale(0.83 1)">G</text>
<text transform="translate(618.95 1716.6) scale(0.83 1)">G</text>
<text transform="translate(636.05 1716.6) scale(0.83 1)">G</text>
<text transform="translate(653.16 1716.6) scale(0.83 1)">G</text>
<text transform="translate(247.89 1932.2) scale(0.83 1)">T</text>
<text transform="translate(265.53 1932.2) scale(0.83 1)">A</text>
<text transform="translate(283.42 1932.2) scale(0.83 1)">T</text>
<text transform="translate(301.84 1932.2) scale(0.83 1)">G</text>
<text transform="translate(318.95 1932.2) scale(0.83 1)">A</text>
<text transform="translate(337.37 1932.2) scale(0.83 1)">A</text>
<text transform="translate(354.47 1932.2) scale(0.83 1)">T</text>
<text transform="translate(372.89 1932.2) scale(0.83 1)">T</text>
<text transform="translate(392.11 1932.2) scale(0.83 1)">G</text>
<text transform="translate(409.21 1932.2) scale(0.83 1)">T</text>
<text transform="translate(427.37 1932.2) scale(0.83 1)">G</text>
<text transform="translate(445.26 1932.2) scale(0.83 1)">T</text>
<text transform="translate(463.68 1932.2) scale(0.83 1)">T</text>
<text transform="translate(480.79 1932.2) scale(0.83 1)">G</text>
<text transform="translate(499.21 1932.2) scale(0.83 1)">T</text>
<text transform="translate(516.84 1932.2) scale(0.83 1)">G</text>
<text transform="translate(534.74 1932.2) scale(0.83 1)">A</text>
<text transform="translate(553.16 1932.2) scale(0.83 1)">G</text>
<text transform="translate(571.05 1932.2) scale(0.83 1)">A</text>
<text transform="translate(588.68 1932.2) scale(0.83 1)">T</text>
<text transform="translate(606.58 1932.2) scale(0.83 1)">G</text>
<text transform="translate(624.21 1932.2) scale(0.83 1)">G</text>
<text transform="translate(642.11 1932.2) scale(0.83 1)">G</text>
</g>
<line x1="353.7" y1="1727" x2="353.7" y2="1883" stroke="#bbb" stroke-width="1.2" stroke-linecap="butt" stroke-dasharray="5 4"/>
<line x1="529" y1="1727" x2="529" y2="1883" stroke="#bbb" stroke-width="1.2" stroke-linecap="butt" stroke-dasharray="5 4"/>
<line x1="353.2" y1="1944" x2="353.2" y2="2103" stroke="#bbb" stroke-width="1.2" stroke-linecap="butt" stroke-dasharray="5 4"/>
<line x1="532.9" y1="1944" x2="532.9" y2="2103" stroke="#bbb" stroke-width="1.2" stroke-linecap="butt" stroke-dasharray="5 4"/>
<path d="M245.3,1870.9 L246,1871.38 L246.7,1872.19 L247.4,1873.24 L248.1,1874.45 L248.8,1875.73 L249.5,1876.99 L250.2,1878.17 L250.9,1879.21 L251.6,1880.09 L252.3,1880.8 L253,1881.35 L253.7,1881.76 L254.4,1882.05 L255.1,1882.25 L255.8,1882.39 L256.5,1882.47 L257.2,1882.52 L257.9,1882.54 L258.6,1882.53 L259.3,1882.5 L260,1882.43 L260.7,1882.31 L261.4,1882.1 L262.1,1881.77 L262.8,1881.26 L263.5,1880.5 L264.2,1879.42 L264.9,1877.94 L265.6,1875.97 L266.3,1873.47 L267,1870.43 L267.7,1866.89 L268.4,1862.97 L269.1,1858.84 L269.8,1854.76 L270.5,1851.02 L271.2,1847.9 L271.9,1845.68 L272.6,1844.57 L273.3,1844.67 L274,1845.96 L274.7,1848.34 L275.4,1851.57 L276.1,1855.39 L276.8,1859.5 L277.5,1863.61 L278.2,1867.48 L278.9,1870.95 L279.6,1873.9 L280.3,1876.31 L281,1878.2 L281.7,1879.62 L282.4,1880.64 L283.1,1881.36 L283.8,1881.84 L284.5,1882.14 L285.2,1882.34 L285.9,1882.45 L286.6,1882.52 L287.3,1882.56 L288,1882.58 L288.7,1882.59 L289.4,1882.6 L290.1,1882.6 L290.8,1882.6 L291.5,1882.6 L292.2,1882.6 L292.9,1882.6 L293.6,1882.6 L294.3,1882.6 L295,1882.6 L295.7,1882.6 L296.4,1882.6 L297.1,1882.6 L297.8,1882.6 L298.5,1882.6 L299.2,1882.6 L299.9,1882.6 L300.6,1882.6 L301.3,1882.6 L302,1882.6 L302.7,1882.6 L303.4,1882.6 L304.1,1882.6 L304.8,1882.59 L305.5,1882.58 L306.2,1882.56 L306.9,1882.52 L307.6,1882.44 L308.3,1882.31 L309,1882.07 L309.7,1881.67 L310.4,1881.01 L311.1,1879.99 L311.8,1878.44 L312.5,1876.17 L313.2,1873 L313.9,1868.7 L314.6,1863.13 L315.3,1856.18 L316,1847.89 L316.7,1838.45 L317.4,1828.22 L318.1,1817.74 L318.8,1807.69 L319.5,1798.83 L320.2,1791.89 L320.9,1787.49 L321.6,1786.04 L322.3,1787.68 L323,1792.24 L323.7,1799.31 L324.4,1808.26 L325.1,1818.35 L325.8,1828.82 L326.5,1839 L327.2,1848.34 L327.9,1856.47 L328.6,1863.19 L329.3,1868.45 L330,1872.28 L330.7,1874.78 L331.4,1876.06 L332.1,1876.19 L332.8,1875.24 L333.5,1873.22 L334.2,1870.14 L334.9,1866 L335.6,1860.88 L336.3,1854.91 L337,1848.33 L337.7,1841.5 L338.4,1834.85 L339.1,1828.87 L339.8,1824.05 L340.5,1820.83 L341.2,1819.49 L341.9,1820.17 L342.6,1822.79 L343.3,1827.13 L344,1832.78 L344.7,1839.27 L345.4,1846.11 L346.1,1852.85 L346.8,1859.11 L347.5,1864.64 L348.2,1869.31 L348.9,1873.07 L349.6,1875.99 L350.3,1878.15 L351,1879.71 L351.7,1880.78 L352.4,1881.49 L353.1,1881.94 L353.8,1882.22 L354.5,1882.39 L355.2,1882.49 L355.9,1882.54 L356.6,1882.57 L357.3,1882.59 L358,1882.59 L358.7,1882.6 L359.4,1882.6 L360.1,1882.6 L360.8,1882.6 L361.5,1882.6 L362.2,1882.6 L362.9,1882.6 L363.6,1882.6 L364.3,1882.6 L365,1882.6 L365.7,1882.6 L366.4,1882.6 L367.1,1882.6 L367.8,1882.6 L368.5,1882.6 L369.2,1882.6 L369.9,1882.6 L370.6,1882.6 L371.3,1882.6 L372,1882.6 L372.7,1882.6 L373.4,1882.6 L374.1,1882.6 L374.8,1882.59 L375.5,1882.59 L376.2,1882.58 L376.9,1882.55 L377.6,1882.51 L378.3,1882.43 L379,1882.29 L379.7,1882.06 L380.4,1881.69 L381.1,1881.13 L381.8,1880.28 L382.5,1879.06 L383.2,1877.38 L383.9,1875.14 L384.6,1872.27 L385.3,1868.75 L386,1864.63 L386.7,1860.01 L387.4,1855.11 L388.1,1850.21 L388.8,1845.64 L389.5,1841.77 L390.2,1838.92 L390.9,1837.35 L391.6,1837.22 L392.3,1838.52 L393,1841.15 L393.7,1844.85 L394.4,1849.31 L395.1,1854.18 L395.8,1859.1 L396.5,1863.79 L397.2,1868.02 L397.9,1871.66 L398.6,1874.65 L399.3,1877 L400,1878.79 L400.7,1880.08 L401.4,1880.99 L402.1,1881.61 L402.8,1882 L403.5,1882.25 L404.2,1882.41 L404.9,1882.49 L405.6,1882.54 L406.3,1882.57 L407,1882.58 L407.7,1882.59 L408.4,1882.58 L409.1,1882.57 L409.8,1882.54 L410.5,1882.49 L411.2,1882.39 L411.9,1882.22 L412.6,1881.95 L413.3,1881.51 L414,1880.82 L414.7,1879.8 L415.4,1878.34 L416.1,1876.31 L416.8,1873.6 L417.5,1870.15 L418.2,1865.91 L418.9,1860.95 L419.6,1855.4 L420.3,1849.5 L421,1843.61 L421.7,1838.12 L422.4,1833.47 L423.1,1830.06 L423.8,1828.19 L424.5,1828.03 L425.2,1829.62 L425.9,1832.78 L426.6,1837.25 L427.3,1842.62 L428,1848.47 L428.7,1854.39 L429.4,1860.02 L430.1,1865.1 L430.8,1869.47 L431.5,1873.06 L432.2,1875.89 L432.9,1878.03 L433.6,1879.58 L434.3,1880.67 L435,1881.41 L435.7,1881.89 L436.4,1882.19 L437.1,1882.37 L437.8,1882.47 L438.5,1882.53 L439.2,1882.57 L439.9,1882.58 L440.6,1882.59 L441.3,1882.6 L442,1882.6 L442.7,1882.6 L443.4,1882.6 L444.1,1882.6 L444.8,1882.6 L445.5,1882.6 L446.2,1882.6 L446.9,1882.6 L447.6,1882.6 L448.3,1882.6 L449,1882.6 L449.7,1882.6 L450.4,1882.6 L451.1,1882.6 L451.8,1882.6 L452.5,1882.6 L453.2,1882.6 L453.9,1882.6 L454.6,1882.6 L455.3,1882.6 L456,1882.6 L456.7,1882.6 L457.4,1882.6 L458.1,1882.6 L458.8,1882.6 L459.5,1882.6 L460.2,1882.6 L460.9,1882.6 L461.6,1882.6 L462.3,1882.6 L463,1882.6 L463.7,1882.6 L464.4,1882.6 L465.1,1882.6 L465.8,1882.6 L466.5,1882.6 L467.2,1882.6 L467.9,1882.6 L468.6,1882.6 L469.3,1882.6 L470,1882.6 L470.7,1882.6 L471.4,1882.6 L472.1,1882.6 L472.8,1882.6 L473.5,1882.6 L474.2,1882.6 L474.9,1882.6 L475.6,1882.6 L476.3,1882.6 L477,1882.6 L477.7,1882.6 L478.4,1882.6 L479.1,1882.6 L479.8,1882.6 L480.5,1882.6 L481.2,1882.6 L481.9,1882.6 L482.6,1882.6 L483.3,1882.6 L484,1882.6 L484.7,1882.6 L485.4,1882.6 L486.1,1882.6 L486.8,1882.6 L487.5,1882.6 L488.2,1882.6 L488.9,1882.6 L489.6,1882.6 L490.3,1882.6 L491,1882.6 L491.7,1882.6 L492.4,1882.6 L493.1,1882.6 L493.8,1882.6 L494.5,1882.6 L495.2,1882.6 L495.9,1882.6 L496.6,1882.6 L497.3,1882.6 L498,1882.6 L498.7,1882.6 L499.4,1882.6 L500.1,1882.6 L500.8,1882.6 L501.5,1882.6 L502.2,1882.6 L502.9,1882.6 L503.6,1882.6 L504.3,1882.6 L505,1882.6 L505.7,1882.6 L506.4,1882.6 L507.1,1882.6 L507.8,1882.6 L508.5,1882.6 L509.2,1882.6 L509.9,1882.6 L510.6,1882.6 L511.3,1882.6 L512,1882.59 L512.7,1882.59 L513.4,1882.58 L514.1,1882.55 L514.8,1882.51 L515.5,1882.43 L516.2,1882.29 L516.9,1882.05 L517.6,1881.66 L518.3,1881.05 L519,1880.11 L519.7,1878.72 L520.4,1876.76 L521.1,1874.09 L521.8,1870.58 L522.5,1866.16 L523.2,1860.84 L523.9,1854.7 L524.6,1847.97 L525.3,1840.98 L526,1834.16 L526.7,1828.01 L527.4,1823.03 L528.1,1819.65 L528.8,1818.19 L529.5,1818.79 L530.2,1821.39 L530.9,1825.74 L531.6,1831.46 L532.3,1838.06 L533,1845.04 L533.7,1851.93 L534.4,1858.35 L535.1,1864.03 L535.8,1868.83 L536.5,1872.72 L537.2,1875.73 L537.9,1877.98 L538.6,1879.59 L539.3,1880.7 L540,1881.44 L540.7,1881.91 L541.4,1882.21 L542.1,1882.38 L542.8,1882.48 L543.5,1882.54 L544.2,1882.57 L544.9,1882.59 L545.6,1882.59 L546.3,1882.6 L547,1882.6 L547.7,1882.6 L548.4,1882.6 L549.1,1882.6 L549.8,1882.6 L550.5,1882.6 L551.2,1882.6 L551.9,1882.6 L552.6,1882.59 L553.3,1882.58 L554,1882.56 L554.7,1882.51 L555.4,1882.44 L556.1,1882.3 L556.8,1882.06 L557.5,1881.68 L558.2,1881.07 L558.9,1880.12 L559.6,1878.73 L560.3,1876.75 L561,1874.02 L561.7,1870.43 L562.4,1865.89 L563.1,1860.37 L563.8,1853.97 L564.5,1846.9 L565.2,1839.49 L565.9,1832.19 L566.6,1825.53 L567.3,1820.04 L568,1816.19 L568.7,1814.34 L569.4,1814.66 L570.1,1817.12 L570.8,1821.5 L571.5,1827.39 L572.2,1834.29 L572.9,1841.67 L573.6,1849.03 L574.3,1855.93 L575,1862.09 L575.7,1867.32 L576.4,1871.58 L577.1,1874.91 L577.8,1877.4 L578.5,1879.19 L579.2,1880.44 L579.9,1881.27 L580.6,1881.81 L581.3,1882.15 L582,1882.35 L582.7,1882.46 L583.4,1882.53 L584.1,1882.56 L584.8,1882.58 L585.5,1882.59 L586.2,1882.6 L586.9,1882.6 L587.6,1882.6 L588.3,1882.6 L589,1882.6 L589.7,1882.6 L590.4,1882.6 L591.1,1882.6 L591.8,1882.6 L592.5,1882.6 L593.2,1882.6 L593.9,1882.6 L594.6,1882.6 L595.3,1882.6 L596,1882.6 L596.7,1882.6 L597.4,1882.6 L598.1,1882.6 L598.8,1882.6 L599.5,1882.6 L600.2,1882.6 L600.9,1882.6 L601.6,1882.6 L602.3,1882.6 L603,1882.6 L603.7,1882.6 L604.4,1882.6 L605.1,1882.6 L605.8,1882.6 L606.5,1882.6 L607.2,1882.6 L607.9,1882.6 L608.6,1882.6 L609.3,1882.6 L610,1882.6 L610.7,1882.6 L611.4,1882.6 L612.1,1882.6 L612.8,1882.6 L613.5,1882.6 L614.2,1882.6 L614.9,1882.6 L615.6,1882.6 L616.3,1882.6 L617,1882.6 L617.7,1882.6 L618.4,1882.6 L619.1,1882.6 L619.8,1882.6 L620.5,1882.6 L621.2,1882.6 L621.9,1882.6 L622.6,1882.6 L623.3,1882.6 L624,1882.6 L624.7,1882.6 L625.4,1882.6 L626.1,1882.6 L626.8,1882.6 L627.5,1882.6 L628.2,1882.6 L628.9,1882.6 L629.6,1882.6 L630.3,1882.6 L631,1882.6 L631.7,1882.6 L632.4,1882.6 L633.1,1882.6 L633.8,1882.6 L634.5,1882.6 L635.2,1882.6 L635.9,1882.6 L636.6,1882.6 L637.3,1882.6 L638,1882.6 L638.7,1882.6 L639.4,1882.6 L640.1,1882.6 L640.8,1882.6 L641.5,1882.6 L642.2,1882.6 L642.9,1882.6 L643.6,1882.6 L644.3,1882.6 L645,1882.6 L645.7,1882.6 L646.4,1882.6 L647.1,1882.6 L647.8,1882.6 L648.5,1882.6 L649.2,1882.6 L649.5,1883.4 L245.3,1883.4 Z" fill="#e6f6e4" fill-opacity="0.85" stroke="none"/>
<path d="M245.3,1870.9 L246,1871.38 L246.7,1872.19 L247.4,1873.24 L248.1,1874.45 L248.8,1875.73 L249.5,1876.99 L250.2,1878.17 L250.9,1879.21 L251.6,1880.09 L252.3,1880.8 L253,1881.35 L253.7,1881.76 L254.4,1882.05 L255.1,1882.25 L255.8,1882.39 L256.5,1882.47 L257.2,1882.52 L257.9,1882.54 L258.6,1882.53 L259.3,1882.5 L260,1882.43 L260.7,1882.31 L261.4,1882.1 L262.1,1881.77 L262.8,1881.26 L263.5,1880.5 L264.2,1879.42 L264.9,1877.94 L265.6,1875.97 L266.3,1873.47 L267,1870.43 L267.7,1866.89 L268.4,1862.97 L269.1,1858.84 L269.8,1854.76 L270.5,1851.02 L271.2,1847.9 L271.9,1845.68 L272.6,1844.57 L273.3,1844.67 L274,1845.96 L274.7,1848.34 L275.4,1851.57 L276.1,1855.39 L276.8,1859.5 L277.5,1863.61 L278.2,1867.48 L278.9,1870.95 L279.6,1873.9 L280.3,1876.31 L281,1878.2 L281.7,1879.62 L282.4,1880.64 L283.1,1881.36 L283.8,1881.84 L284.5,1882.14 L285.2,1882.34 L285.9,1882.45 L286.6,1882.52 L287.3,1882.56 L288,1882.58 L288.7,1882.59 L289.4,1882.6 L290.1,1882.6 L290.8,1882.6 L291.5,1882.6 L292.2,1882.6 L292.9,1882.6 L293.6,1882.6 L294.3,1882.6 L295,1882.6 L295.7,1882.6 L296.4,1882.6 L297.1,1882.6 L297.8,1882.6 L298.5,1882.6 L299.2,1882.6 L299.9,1882.6 L300.6,1882.6 L301.3,1882.6 L302,1882.6 L302.7,1882.6 L303.4,1882.6 L304.1,1882.6 L304.8,1882.59 L305.5,1882.58 L306.2,1882.56 L306.9,1882.52 L307.6,1882.44 L308.3,1882.31 L309,1882.07 L309.7,1881.67 L310.4,1881.01 L311.1,1879.99 L311.8,1878.44 L312.5,1876.17 L313.2,1873 L313.9,1868.7 L314.6,1863.13 L315.3,1856.18 L316,1847.89 L316.7,1838.45 L317.4,1828.22 L318.1,1817.74 L318.8,1807.69 L319.5,1798.83 L320.2,1791.89 L320.9,1787.49 L321.6,1786.04 L322.3,1787.68 L323,1792.24 L323.7,1799.31 L324.4,1808.26 L325.1,1818.35 L325.8,1828.82 L326.5,1839 L327.2,1848.34 L327.9,1856.47 L328.6,1863.19 L329.3,1868.45 L330,1872.28 L330.7,1874.78 L331.4,1876.06 L332.1,1876.19 L332.8,1875.24 L333.5,1873.22 L334.2,1870.14 L334.9,1866 L335.6,1860.88 L336.3,1854.91 L337,1848.33 L337.7,1841.5 L338.4,1834.85 L339.1,1828.87 L339.8,1824.05 L340.5,1820.83 L341.2,1819.49 L341.9,1820.17 L342.6,1822.79 L343.3,1827.13 L344,1832.78 L344.7,1839.27 L345.4,1846.11 L346.1,1852.85 L346.8,1859.11 L347.5,1864.64 L348.2,1869.31 L348.9,1873.07 L349.6,1875.99 L350.3,1878.15 L351,1879.71 L351.7,1880.78 L352.4,1881.49 L353.1,1881.94 L353.8,1882.22 L354.5,1882.39 L355.2,1882.49 L355.9,1882.54 L356.6,1882.57 L357.3,1882.59 L358,1882.59 L358.7,1882.6 L359.4,1882.6 L360.1,1882.6 L360.8,1882.6 L361.5,1882.6 L362.2,1882.6 L362.9,1882.6 L363.6,1882.6 L364.3,1882.6 L365,1882.6 L365.7,1882.6 L366.4,1882.6 L367.1,1882.6 L367.8,1882.6 L368.5,1882.6 L369.2,1882.6 L369.9,1882.6 L370.6,1882.6 L371.3,1882.6 L372,1882.6 L372.7,1882.6 L373.4,1882.6 L374.1,1882.6 L374.8,1882.59 L375.5,1882.59 L376.2,1882.58 L376.9,1882.55 L377.6,1882.51 L378.3,1882.43 L379,1882.29 L379.7,1882.06 L380.4,1881.69 L381.1,1881.13 L381.8,1880.28 L382.5,1879.06 L383.2,1877.38 L383.9,1875.14 L384.6,1872.27 L385.3,1868.75 L386,1864.63 L386.7,1860.01 L387.4,1855.11 L388.1,1850.21 L388.8,1845.64 L389.5,1841.77 L390.2,1838.92 L390.9,1837.35 L391.6,1837.22 L392.3,1838.52 L393,1841.15 L393.7,1844.85 L394.4,1849.31 L395.1,1854.18 L395.8,1859.1 L396.5,1863.79 L397.2,1868.02 L397.9,1871.66 L398.6,1874.65 L399.3,1877 L400,1878.79 L400.7,1880.08 L401.4,1880.99 L402.1,1881.61 L402.8,1882 L403.5,1882.25 L404.2,1882.41 L404.9,1882.49 L405.6,1882.54 L406.3,1882.57 L407,1882.58 L407.7,1882.59 L408.4,1882.58 L409.1,1882.57 L409.8,1882.54 L410.5,1882.49 L411.2,1882.39 L411.9,1882.22 L412.6,1881.95 L413.3,1881.51 L414,1880.82 L414.7,1879.8 L415.4,1878.34 L416.1,1876.31 L416.8,1873.6 L417.5,1870.15 L418.2,1865.91 L418.9,1860.95 L419.6,1855.4 L420.3,1849.5 L421,1843.61 L421.7,1838.12 L422.4,1833.47 L423.1,1830.06 L423.8,1828.19 L424.5,1828.03 L425.2,1829.62 L425.9,1832.78 L426.6,1837.25 L427.3,1842.62 L428,1848.47 L428.7,1854.39 L429.4,1860.02 L430.1,1865.1 L430.8,1869.47 L431.5,1873.06 L432.2,1875.89 L432.9,1878.03 L433.6,1879.58 L434.3,1880.67 L435,1881.41 L435.7,1881.89 L436.4,1882.19 L437.1,1882.37 L437.8,1882.47 L438.5,1882.53 L439.2,1882.57 L439.9,1882.58 L440.6,1882.59 L441.3,1882.6 L442,1882.6 L442.7,1882.6 L443.4,1882.6 L444.1,1882.6 L444.8,1882.6 L445.5,1882.6 L446.2,1882.6 L446.9,1882.6 L447.6,1882.6 L448.3,1882.6 L449,1882.6 L449.7,1882.6 L450.4,1882.6 L451.1,1882.6 L451.8,1882.6 L452.5,1882.6 L453.2,1882.6 L453.9,1882.6 L454.6,1882.6 L455.3,1882.6 L456,1882.6 L456.7,1882.6 L457.4,1882.6 L458.1,1882.6 L458.8,1882.6 L459.5,1882.6 L460.2,1882.6 L460.9,1882.6 L461.6,1882.6 L462.3,1882.6 L463,1882.6 L463.7,1882.6 L464.4,1882.6 L465.1,1882.6 L465.8,1882.6 L466.5,1882.6 L467.2,1882.6 L467.9,1882.6 L468.6,1882.6 L469.3,1882.6 L470,1882.6 L470.7,1882.6 L471.4,1882.6 L472.1,1882.6 L472.8,1882.6 L473.5,1882.6 L474.2,1882.6 L474.9,1882.6 L475.6,1882.6 L476.3,1882.6 L477,1882.6 L477.7,1882.6 L478.4,1882.6 L479.1,1882.6 L479.8,1882.6 L480.5,1882.6 L481.2,1882.6 L481.9,1882.6 L482.6,1882.6 L483.3,1882.6 L484,1882.6 L484.7,1882.6 L485.4,1882.6 L486.1,1882.6 L486.8,1882.6 L487.5,1882.6 L488.2,1882.6 L488.9,1882.6 L489.6,1882.6 L490.3,1882.6 L491,1882.6 L491.7,1882.6 L492.4,1882.6 L493.1,1882.6 L493.8,1882.6 L494.5,1882.6 L495.2,1882.6 L495.9,1882.6 L496.6,1882.6 L497.3,1882.6 L498,1882.6 L498.7,1882.6 L499.4,1882.6 L500.1,1882.6 L500.8,1882.6 L501.5,1882.6 L502.2,1882.6 L502.9,1882.6 L503.6,1882.6 L504.3,1882.6 L505,1882.6 L505.7,1882.6 L506.4,1882.6 L507.1,1882.6 L507.8,1882.6 L508.5,1882.6 L509.2,1882.6 L509.9,1882.6 L510.6,1882.6 L511.3,1882.6 L512,1882.59 L512.7,1882.59 L513.4,1882.58 L514.1,1882.55 L514.8,1882.51 L515.5,1882.43 L516.2,1882.29 L516.9,1882.05 L517.6,1881.66 L518.3,1881.05 L519,1880.11 L519.7,1878.72 L520.4,1876.76 L521.1,1874.09 L521.8,1870.58 L522.5,1866.16 L523.2,1860.84 L523.9,1854.7 L524.6,1847.97 L525.3,1840.98 L526,1834.16 L526.7,1828.01 L527.4,1823.03 L528.1,1819.65 L528.8,1818.19 L529.5,1818.79 L530.2,1821.39 L530.9,1825.74 L531.6,1831.46 L532.3,1838.06 L533,1845.04 L533.7,1851.93 L534.4,1858.35 L535.1,1864.03 L535.8,1868.83 L536.5,1872.72 L537.2,1875.73 L537.9,1877.98 L538.6,1879.59 L539.3,1880.7 L540,1881.44 L540.7,1881.91 L541.4,1882.21 L542.1,1882.38 L542.8,1882.48 L543.5,1882.54 L544.2,1882.57 L544.9,1882.59 L545.6,1882.59 L546.3,1882.6 L547,1882.6 L547.7,1882.6 L548.4,1882.6 L549.1,1882.6 L549.8,1882.6 L550.5,1882.6 L551.2,1882.6 L551.9,1882.6 L552.6,1882.59 L553.3,1882.58 L554,1882.56 L554.7,1882.51 L555.4,1882.44 L556.1,1882.3 L556.8,1882.06 L557.5,1881.68 L558.2,1881.07 L558.9,1880.12 L559.6,1878.73 L560.3,1876.75 L561,1874.02 L561.7,1870.43 L562.4,1865.89 L563.1,1860.37 L563.8,1853.97 L564.5,1846.9 L565.2,1839.49 L565.9,1832.19 L566.6,1825.53 L567.3,1820.04 L568,1816.19 L568.7,1814.34 L569.4,1814.66 L570.1,1817.12 L570.8,1821.5 L571.5,1827.39 L572.2,1834.29 L572.9,1841.67 L573.6,1849.03 L574.3,1855.93 L575,1862.09 L575.7,1867.32 L576.4,1871.58 L577.1,1874.91 L577.8,1877.4 L578.5,1879.19 L579.2,1880.44 L579.9,1881.27 L580.6,1881.81 L581.3,1882.15 L582,1882.35 L582.7,1882.46 L583.4,1882.53 L584.1,1882.56 L584.8,1882.58 L585.5,1882.59 L586.2,1882.6 L586.9,1882.6 L587.6,1882.6 L588.3,1882.6 L589,1882.6 L589.7,1882.6 L590.4,1882.6 L591.1,1882.6 L591.8,1882.6 L592.5,1882.6 L593.2,1882.6 L593.9,1882.6 L594.6,1882.6 L595.3,1882.6 L596,1882.6 L596.7,1882.6 L597.4,1882.6 L598.1,1882.6 L598.8,1882.6 L599.5,1882.6 L600.2,1882.6 L600.9,1882.6 L601.6,1882.6 L602.3,1882.6 L603,1882.6 L603.7,1882.6 L604.4,1882.6 L605.1,1882.6 L605.8,1882.6 L606.5,1882.6 L607.2,1882.6 L607.9,1882.6 L608.6,1882.6 L609.3,1882.6 L610,1882.6 L610.7,1882.6 L611.4,1882.6 L612.1,1882.6 L612.8,1882.6 L613.5,1882.6 L614.2,1882.6 L614.9,1882.6 L615.6,1882.6 L616.3,1882.6 L617,1882.6 L617.7,1882.6 L618.4,1882.6 L619.1,1882.6 L619.8,1882.6 L620.5,1882.6 L621.2,1882.6 L621.9,1882.6 L622.6,1882.6 L623.3,1882.6 L624,1882.6 L624.7,1882.6 L625.4,1882.6 L626.1,1882.6 L626.8,1882.6 L627.5,1882.6 L628.2,1882.6 L628.9,1882.6 L629.6,1882.6 L630.3,1882.6 L631,1882.6 L631.7,1882.6 L632.4,1882.6 L633.1,1882.6 L633.8,1882.6 L634.5,1882.6 L635.2,1882.6 L635.9,1882.6 L636.6,1882.6 L637.3,1882.6 L638,1882.6 L638.7,1882.6 L639.4,1882.6 L640.1,1882.6 L640.8,1882.6 L641.5,1882.6 L642.2,1882.6 L642.9,1882.6 L643.6,1882.6 L644.3,1882.6 L645,1882.6 L645.7,1882.6 L646.4,1882.6 L647.1,1882.6 L647.8,1882.6 L648.5,1882.6 L649.2,1882.6" fill="none" stroke="#3fcf3a" stroke-width="2.2" stroke-linejoin="round"/>
<path d="M245.3,1882.6 L246,1882.6 L246.7,1882.6 L247.4,1882.6 L248.1,1882.6 L248.8,1882.6 L249.5,1882.6 L250.2,1882.6 L250.9,1882.6 L251.6,1882.6 L252.3,1882.6 L253,1882.6 L253.7,1882.6 L254.4,1882.6 L255.1,1882.6 L255.8,1882.6 L256.5,1882.6 L257.2,1882.6 L257.9,1882.6 L258.6,1882.6 L259.3,1882.6 L260,1882.6 L260.7,1882.6 L261.4,1882.6 L262.1,1882.6 L262.8,1882.6 L263.5,1882.6 L264.2,1882.6 L264.9,1882.6 L265.6,1882.6 L266.3,1882.6 L267,1882.6 L267.7,1882.6 L268.4,1882.6 L269.1,1882.6 L269.8,1882.6 L270.5,1882.6 L271.2,1882.6 L271.9,1882.6 L272.6,1882.6 L273.3,1882.6 L274,1882.6 L274.7,1882.6 L275.4,1882.6 L276.1,1882.6 L276.8,1882.6 L277.5,1882.6 L278.2,1882.6 L278.9,1882.6 L279.6,1882.6 L280.3,1882.6 L281,1882.6 L281.7,1882.6 L282.4,1882.6 L283.1,1882.6 L283.8,1882.6 L284.5,1882.6 L285.2,1882.6 L285.9,1882.6 L286.6,1882.6 L287.3,1882.6 L288,1882.6 L288.7,1882.6 L289.4,1882.6 L290.1,1882.6 L290.8,1882.6 L291.5,1882.6 L292.2,1882.6 L292.9,1882.6 L293.6,1882.6 L294.3,1882.6 L295,1882.6 L295.7,1882.6 L296.4,1882.6 L297.1,1882.6 L297.8,1882.6 L298.5,1882.6 L299.2,1882.6 L299.9,1882.6 L300.6,1882.6 L301.3,1882.6 L302,1882.6 L302.7,1882.6 L303.4,1882.6 L304.1,1882.6 L304.8,1882.6 L305.5,1882.6 L306.2,1882.6 L306.9,1882.6 L307.6,1882.6 L308.3,1882.6 L309,1882.6 L309.7,1882.6 L310.4,1882.6 L311.1,1882.6 L311.8,1882.6 L312.5,1882.6 L313.2,1882.6 L313.9,1882.6 L314.6,1882.6 L315.3,1882.6 L316,1882.6 L316.7,1882.6 L317.4,1882.6 L318.1,1882.6 L318.8,1882.6 L319.5,1882.6 L320.2,1882.6 L320.9,1882.6 L321.6,1882.6 L322.3,1882.6 L323,1882.6 L323.7,1882.6 L324.4,1882.6 L325.1,1882.6 L325.8,1882.6 L326.5,1882.6 L327.2,1882.6 L327.9,1882.6 L328.6,1882.6 L329.3,1882.6 L330,1882.6 L330.7,1882.6 L331.4,1882.6 L332.1,1882.6 L332.8,1882.6 L333.5,1882.6 L334.2,1882.6 L334.9,1882.6 L335.6,1882.6 L336.3,1882.6 L337,1882.6 L337.7,1882.6 L338.4,1882.6 L339.1,1882.6 L339.8,1882.6 L340.5,1882.6 L341.2,1882.6 L341.9,1882.6 L342.6,1882.6 L343.3,1882.6 L344,1882.6 L344.7,1882.6 L345.4,1882.6 L346.1,1882.6 L346.8,1882.6 L347.5,1882.6 L348.2,1882.6 L348.9,1882.6 L349.6,1882.6 L350.3,1882.6 L351,1882.6 L351.7,1882.6 L352.4,1882.6 L353.1,1882.6 L353.8,1882.6 L354.5,1882.6 L355.2,1882.6 L355.9,1882.6 L356.6,1882.6 L357.3,1882.6 L358,1882.6 L358.7,1882.6 L359.4,1882.6 L360.1,1882.6 L360.8,1882.6 L361.5,1882.6 L362.2,1882.6 L362.9,1882.6 L363.6,1882.6 L364.3,1882.6 L365,1882.6 L365.7,1882.6 L366.4,1882.6 L367.1,1882.6 L367.8,1882.6 L368.5,1882.6 L369.2,1882.6 L369.9,1882.6 L370.6,1882.6 L371.3,1882.6 L372,1882.6 L372.7,1882.6 L373.4,1882.6 L374.1,1882.6 L374.8,1882.6 L375.5,1882.6 L376.2,1882.6 L376.9,1882.6 L377.6,1882.6 L378.3,1882.6 L379,1882.6 L379.7,1882.6 L380.4,1882.6 L381.1,1882.6 L381.8,1882.6 L382.5,1882.6 L383.2,1882.6 L383.9,1882.6 L384.6,1882.6 L385.3,1882.6 L386,1882.6 L386.7,1882.6 L387.4,1882.6 L388.1,1882.6 L388.8,1882.6 L389.5,1882.6 L390.2,1882.6 L390.9,1882.6 L391.6,1882.6 L392.3,1882.6 L393,1882.6 L393.7,1882.6 L394.4,1882.6 L395.1,1882.6 L395.8,1882.6 L396.5,1882.6 L397.2,1882.6 L397.9,1882.6 L398.6,1882.6 L399.3,1882.6 L400,1882.6 L400.7,1882.6 L401.4,1882.6 L402.1,1882.6 L402.8,1882.6 L403.5,1882.6 L404.2,1882.6 L404.9,1882.6 L405.6,1882.6 L406.3,1882.6 L407,1882.6 L407.7,1882.6 L408.4,1882.6 L409.1,1882.6 L409.8,1882.6 L410.5,1882.6 L411.2,1882.6 L411.9,1882.6 L412.6,1882.6 L413.3,1882.6 L414,1882.6 L414.7,1882.6 L415.4,1882.6 L416.1,1882.6 L416.8,1882.6 L417.5,1882.6 L418.2,1882.6 L418.9,1882.6 L419.6,1882.6 L420.3,1882.6 L421,1882.6 L421.7,1882.6 L422.4,1882.6 L423.1,1882.6 L423.8,1882.6 L424.5,1882.6 L425.2,1882.6 L425.9,1882.6 L426.6,1882.6 L427.3,1882.6 L428,1882.6 L428.7,1882.6 L429.4,1882.6 L430.1,1882.6 L430.8,1882.6 L431.5,1882.59 L432.2,1882.59 L432.9,1882.58 L433.6,1882.55 L434.3,1882.51 L435,1882.44 L435.7,1882.31 L436.4,1882.1 L437.1,1881.76 L437.8,1881.24 L438.5,1880.48 L439.2,1879.38 L439.9,1877.87 L440.6,1875.88 L441.3,1873.34 L442,1870.26 L442.7,1866.68 L443.4,1862.7 L444.1,1858.52 L444.8,1854.38 L445.5,1850.58 L446.2,1847.42 L446.9,1845.17 L447.6,1844.05 L448.3,1844.15 L449,1845.46 L449.7,1847.86 L450.4,1851.14 L451.1,1855.02 L451.8,1859.18 L452.5,1863.35 L453.2,1867.27 L453.9,1870.78 L454.6,1873.78 L455.3,1876.23 L456,1878.14 L456.7,1879.58 L457.4,1880.62 L458.1,1881.34 L458.8,1881.82 L459.5,1882.14 L460.2,1882.33 L460.9,1882.45 L461.6,1882.52 L462.3,1882.56 L463,1882.58 L463.7,1882.59 L464.4,1882.6 L465.1,1882.6 L465.8,1882.6 L466.5,1882.6 L467.2,1882.6 L467.9,1882.6 L468.6,1882.6 L469.3,1882.6 L470,1882.6 L470.7,1882.6 L471.4,1882.6 L472.1,1882.6 L472.8,1882.6 L473.5,1882.6 L474.2,1882.6 L474.9,1882.6 L475.6,1882.6 L476.3,1882.6 L477,1882.6 L477.7,1882.6 L478.4,1882.6 L479.1,1882.6 L479.8,1882.6 L480.5,1882.6 L481.2,1882.6 L481.9,1882.6 L482.6,1882.6 L483.3,1882.6 L484,1882.6 L484.7,1882.6 L485.4,1882.6 L486.1,1882.6 L486.8,1882.6 L487.5,1882.6 L488.2,1882.6 L488.9,1882.6 L489.6,1882.6 L490.3,1882.6 L491,1882.6 L491.7,1882.6 L492.4,1882.6 L493.1,1882.6 L493.8,1882.6 L494.5,1882.6 L495.2,1882.6 L495.9,1882.6 L496.6,1882.6 L497.3,1882.6 L498,1882.6 L498.7,1882.6 L499.4,1882.6 L500.1,1882.6 L500.8,1882.6 L501.5,1882.6 L502.2,1882.6 L502.9,1882.6 L503.6,1882.6 L504.3,1882.6 L505,1882.6 L505.7,1882.6 L506.4,1882.6 L507.1,1882.6 L507.8,1882.6 L508.5,1882.6 L509.2,1882.6 L509.9,1882.6 L510.6,1882.6 L511.3,1882.6 L512,1882.6 L512.7,1882.6 L513.4,1882.6 L514.1,1882.6 L514.8,1882.6 L515.5,1882.6 L516.2,1882.6 L516.9,1882.6 L517.6,1882.6 L518.3,1882.6 L519,1882.6 L519.7,1882.6 L520.4,1882.6 L521.1,1882.6 L521.8,1882.6 L522.5,1882.6 L523.2,1882.6 L523.9,1882.6 L524.6,1882.6 L525.3,1882.6 L526,1882.6 L526.7,1882.6 L527.4,1882.6 L528.1,1882.6 L528.8,1882.6 L529.5,1882.6 L530.2,1882.6 L530.9,1882.6 L531.6,1882.6 L532.3,1882.6 L533,1882.6 L533.7,1882.6 L534.4,1882.6 L535.1,1882.6 L535.8,1882.6 L536.5,1882.6 L537.2,1882.6 L537.9,1882.6 L538.6,1882.6 L539.3,1882.6 L540,1882.6 L540.7,1882.6 L541.4,1882.6 L542.1,1882.6 L542.8,1882.6 L543.5,1882.6 L544.2,1882.6 L544.9,1882.6 L545.6,1882.6 L546.3,1882.6 L547,1882.6 L547.7,1882.6 L548.4,1882.6 L549.1,1882.6 L549.8,1882.6 L550.5,1882.6 L551.2,1882.6 L551.9,1882.6 L552.6,1882.6 L553.3,1882.6 L554,1882.6 L554.7,1882.6 L555.4,1882.6 L556.1,1882.6 L556.8,1882.6 L557.5,1882.6 L558.2,1882.6 L558.9,1882.6 L559.6,1882.6 L560.3,1882.6 L561,1882.6 L561.7,1882.6 L562.4,1882.6 L563.1,1882.6 L563.8,1882.6 L564.5,1882.6 L565.2,1882.6 L565.9,1882.6 L566.6,1882.6 L567.3,1882.6 L568,1882.6 L568.7,1882.6 L569.4,1882.6 L570.1,1882.6 L570.8,1882.6 L571.5,1882.6 L572.2,1882.6 L572.9,1882.6 L573.6,1882.6 L574.3,1882.6 L575,1882.6 L575.7,1882.6 L576.4,1882.6 L577.1,1882.6 L577.8,1882.6 L578.5,1882.6 L579.2,1882.6 L579.9,1882.6 L580.6,1882.6 L581.3,1882.6 L582,1882.6 L582.7,1882.6 L583.4,1882.6 L584.1,1882.6 L584.8,1882.6 L585.5,1882.6 L586.2,1882.6 L586.9,1882.6 L587.6,1882.6 L588.3,1882.6 L589,1882.6 L589.7,1882.6 L590.4,1882.6 L591.1,1882.6 L591.8,1882.6 L592.5,1882.6 L593.2,1882.6 L593.9,1882.6 L594.6,1882.6 L595.3,1882.6 L596,1882.6 L596.7,1882.6 L597.4,1882.6 L598.1,1882.6 L598.8,1882.6 L599.5,1882.6 L600.2,1882.6 L600.9,1882.6 L601.6,1882.6 L602.3,1882.6 L603,1882.6 L603.7,1882.6 L604.4,1882.6 L605.1,1882.6 L605.8,1882.6 L606.5,1882.6 L607.2,1882.6 L607.9,1882.6 L608.6,1882.6 L609.3,1882.6 L610,1882.6 L610.7,1882.6 L611.4,1882.6 L612.1,1882.6 L612.8,1882.6 L613.5,1882.6 L614.2,1882.6 L614.9,1882.6 L615.6,1882.6 L616.3,1882.6 L617,1882.6 L617.7,1882.6 L618.4,1882.6 L619.1,1882.6 L619.8,1882.6 L620.5,1882.6 L621.2,1882.6 L621.9,1882.6 L622.6,1882.6 L623.3,1882.6 L624,1882.6 L624.7,1882.6 L625.4,1882.6 L626.1,1882.6 L626.8,1882.6 L627.5,1882.6 L628.2,1882.6 L628.9,1882.6 L629.6,1882.6 L630.3,1882.6 L631,1882.6 L631.7,1882.6 L632.4,1882.6 L633.1,1882.6 L633.8,1882.6 L634.5,1882.6 L635.2,1882.59 L635.9,1882.59 L636.6,1882.58 L637.3,1882.56 L638,1882.52 L638.7,1882.45 L639.4,1882.34 L640.1,1882.17 L640.8,1881.89 L641.5,1881.49 L642.2,1880.9 L642.9,1880.09 L643.6,1879 L644.3,1877.61 L645,1875.9 L645.7,1873.89 L646.4,1871.63 L647.1,1869.23 L647.8,1866.82 L648.5,1864.56 L649.2,1862.64 L649.5,1883.4 L245.3,1883.4 Z" fill="#dfe5f7" fill-opacity="0.85" stroke="none"/>
<path d="M245.3,1882.6 L246,1882.6 L246.7,1882.6 L247.4,1882.6 L248.1,1882.6 L248.8,1882.6 L249.5,1882.6 L250.2,1882.6 L250.9,1882.6 L251.6,1882.6 L252.3,1882.6 L253,1882.6 L253.7,1882.6 L254.4,1882.6 L255.1,1882.6 L255.8,1882.6 L256.5,1882.6 L257.2,1882.6 L257.9,1882.6 L258.6,1882.6 L259.3,1882.6 L260,1882.6 L260.7,1882.6 L261.4,1882.6 L262.1,1882.6 L262.8,1882.6 L263.5,1882.6 L264.2,1882.6 L264.9,1882.6 L265.6,1882.6 L266.3,1882.6 L267,1882.6 L267.7,1882.6 L268.4,1882.6 L269.1,1882.6 L269.8,1882.6 L270.5,1882.6 L271.2,1882.6 L271.9,1882.6 L272.6,1882.6 L273.3,1882.6 L274,1882.6 L274.7,1882.6 L275.4,1882.6 L276.1,1882.6 L276.8,1882.6 L277.5,1882.6 L278.2,1882.6 L278.9,1882.6 L279.6,1882.6 L280.3,1882.6 L281,1882.6 L281.7,1882.6 L282.4,1882.6 L283.1,1882.6 L283.8,1882.6 L284.5,1882.6 L285.2,1882.6 L285.9,1882.6 L286.6,1882.6 L287.3,1882.6 L288,1882.6 L288.7,1882.6 L289.4,1882.6 L290.1,1882.6 L290.8,1882.6 L291.5,1882.6 L292.2,1882.6 L292.9,1882.6 L293.6,1882.6 L294.3,1882.6 L295,1882.6 L295.7,1882.6 L296.4,1882.6 L297.1,1882.6 L297.8,1882.6 L298.5,1882.6 L299.2,1882.6 L299.9,1882.6 L300.6,1882.6 L301.3,1882.6 L302,1882.6 L302.7,1882.6 L303.4,1882.6 L304.1,1882.6 L304.8,1882.6 L305.5,1882.6 L306.2,1882.6 L306.9,1882.6 L307.6,1882.6 L308.3,1882.6 L309,1882.6 L309.7,1882.6 L310.4,1882.6 L311.1,1882.6 L311.8,1882.6 L312.5,1882.6 L313.2,1882.6 L313.9,1882.6 L314.6,1882.6 L315.3,1882.6 L316,1882.6 L316.7,1882.6 L317.4,1882.6 L318.1,1882.6 L318.8,1882.6 L319.5,1882.6 L320.2,1882.6 L320.9,1882.6 L321.6,1882.6 L322.3,1882.6 L323,1882.6 L323.7,1882.6 L324.4,1882.6 L325.1,1882.6 L325.8,1882.6 L326.5,1882.6 L327.2,1882.6 L327.9,1882.6 L328.6,1882.6 L329.3,1882.6 L330,1882.6 L330.7,1882.6 L331.4,1882.6 L332.1,1882.6 L332.8,1882.6 L333.5,1882.6 L334.2,1882.6 L334.9,1882.6 L335.6,1882.6 L336.3,1882.6 L337,1882.6 L337.7,1882.6 L338.4,1882.6 L339.1,1882.6 L339.8,1882.6 L340.5,1882.6 L341.2,1882.6 L341.9,1882.6 L342.6,1882.6 L343.3,1882.6 L344,1882.6 L344.7,1882.6 L345.4,1882.6 L346.1,1882.6 L346.8,1882.6 L347.5,1882.6 L348.2,1882.6 L348.9,1882.6 L349.6,1882.6 L350.3,1882.6 L351,1882.6 L351.7,1882.6 L352.4,1882.6 L353.1,1882.6 L353.8,1882.6 L354.5,1882.6 L355.2,1882.6 L355.9,1882.6 L356.6,1882.6 L357.3,1882.6 L358,1882.6 L358.7,1882.6 L359.4,1882.6 L360.1,1882.6 L360.8,1882.6 L361.5,1882.6 L362.2,1882.6 L362.9,1882.6 L363.6,1882.6 L364.3,1882.6 L365,1882.6 L365.7,1882.6 L366.4,1882.6 L367.1,1882.6 L367.8,1882.6 L368.5,1882.6 L369.2,1882.6 L369.9,1882.6 L370.6,1882.6 L371.3,1882.6 L372,1882.6 L372.7,1882.6 L373.4,1882.6 L374.1,1882.6 L374.8,1882.6 L375.5,1882.6 L376.2,1882.6 L376.9,1882.6 L377.6,1882.6 L378.3,1882.6 L379,1882.6 L379.7,1882.6 L380.4,1882.6 L381.1,1882.6 L381.8,1882.6 L382.5,1882.6 L383.2,1882.6 L383.9,1882.6 L384.6,1882.6 L385.3,1882.6 L386,1882.6 L386.7,1882.6 L387.4,1882.6 L388.1,1882.6 L388.8,1882.6 L389.5,1882.6 L390.2,1882.6 L390.9,1882.6 L391.6,1882.6 L392.3,1882.6 L393,1882.6 L393.7,1882.6 L394.4,1882.6 L395.1,1882.6 L395.8,1882.6 L396.5,1882.6 L397.2,1882.6 L397.9,1882.6 L398.6,1882.6 L399.3,1882.6 L400,1882.6 L400.7,1882.6 L401.4,1882.6 L402.1,1882.6 L402.8,1882.6 L403.5,1882.6 L404.2,1882.6 L404.9,1882.6 L405.6,1882.6 L406.3,1882.6 L407,1882.6 L407.7,1882.6 L408.4,1882.6 L409.1,1882.6 L409.8,1882.6 L410.5,1882.6 L411.2,1882.6 L411.9,1882.6 L412.6,1882.6 L413.3,1882.6 L414,1882.6 L414.7,1882.6 L415.4,1882.6 L416.1,1882.6 L416.8,1882.6 L417.5,1882.6 L418.2,1882.6 L418.9,1882.6 L419.6,1882.6 L420.3,1882.6 L421,1882.6 L421.7,1882.6 L422.4,1882.6 L423.1,1882.6 L423.8,1882.6 L424.5,1882.6 L425.2,1882.6 L425.9,1882.6 L426.6,1882.6 L427.3,1882.6 L428,1882.6 L428.7,1882.6 L429.4,1882.6 L430.1,1882.6 L430.8,1882.6 L431.5,1882.59 L432.2,1882.59 L432.9,1882.58 L433.6,1882.55 L434.3,1882.51 L435,1882.44 L435.7,1882.31 L436.4,1882.1 L437.1,1881.76 L437.8,1881.24 L438.5,1880.48 L439.2,1879.38 L439.9,1877.87 L440.6,1875.88 L441.3,1873.34 L442,1870.26 L442.7,1866.68 L443.4,1862.7 L444.1,1858.52 L444.8,1854.38 L445.5,1850.58 L446.2,1847.42 L446.9,1845.17 L447.6,1844.05 L448.3,1844.15 L449,1845.46 L449.7,1847.86 L450.4,1851.14 L451.1,1855.02 L451.8,1859.18 L452.5,1863.35 L453.2,1867.27 L453.9,1870.78 L454.6,1873.78 L455.3,1876.23 L456,1878.14 L456.7,1879.58 L457.4,1880.62 L458.1,1881.34 L458.8,1881.82 L459.5,1882.14 L460.2,1882.33 L460.9,1882.45 L461.6,1882.52 L462.3,1882.56 L463,1882.58 L463.7,1882.59 L464.4,1882.6 L465.1,1882.6 L465.8,1882.6 L466.5,1882.6 L467.2,1882.6 L467.9,1882.6 L468.6,1882.6 L469.3,1882.6 L470,1882.6 L470.7,1882.6 L471.4,1882.6 L472.1,1882.6 L472.8,1882.6 L473.5,1882.6 L474.2,1882.6 L474.9,1882.6 L475.6,1882.6 L476.3,1882.6 L477,1882.6 L477.7,1882.6 L478.4,1882.6 L479.1,1882.6 L479.8,1882.6 L480.5,1882.6 L481.2,1882.6 L481.9,1882.6 L482.6,1882.6 L483.3,1882.6 L484,1882.6 L484.7,1882.6 L485.4,1882.6 L486.1,1882.6 L486.8,1882.6 L487.5,1882.6 L488.2,1882.6 L488.9,1882.6 L489.6,1882.6 L490.3,1882.6 L491,1882.6 L491.7,1882.6 L492.4,1882.6 L493.1,1882.6 L493.8,1882.6 L494.5,1882.6 L495.2,1882.6 L495.9,1882.6 L496.6,1882.6 L497.3,1882.6 L498,1882.6 L498.7,1882.6 L499.4,1882.6 L500.1,1882.6 L500.8,1882.6 L501.5,1882.6 L502.2,1882.6 L502.9,1882.6 L503.6,1882.6 L504.3,1882.6 L505,1882.6 L505.7,1882.6 L506.4,1882.6 L507.1,1882.6 L507.8,1882.6 L508.5,1882.6 L509.2,1882.6 L509.9,1882.6 L510.6,1882.6 L511.3,1882.6 L512,1882.6 L512.7,1882.6 L513.4,1882.6 L514.1,1882.6 L514.8,1882.6 L515.5,1882.6 L516.2,1882.6 L516.9,1882.6 L517.6,1882.6 L518.3,1882.6 L519,1882.6 L519.7,1882.6 L520.4,1882.6 L521.1,1882.6 L521.8,1882.6 L522.5,1882.6 L523.2,1882.6 L523.9,1882.6 L524.6,1882.6 L525.3,1882.6 L526,1882.6 L526.7,1882.6 L527.4,1882.6 L528.1,1882.6 L528.8,1882.6 L529.5,1882.6 L530.2,1882.6 L530.9,1882.6 L531.6,1882.6 L532.3,1882.6 L533,1882.6 L533.7,1882.6 L534.4,1882.6 L535.1,1882.6 L535.8,1882.6 L536.5,1882.6 L537.2,1882.6 L537.9,1882.6 L538.6,1882.6 L539.3,1882.6 L540,1882.6 L540.7,1882.6 L541.4,1882.6 L542.1,1882.6 L542.8,1882.6 L543.5,1882.6 L544.2,1882.6 L544.9,1882.6 L545.6,1882.6 L546.3,1882.6 L547,1882.6 L547.7,1882.6 L548.4,1882.6 L549.1,1882.6 L549.8,1882.6 L550.5,1882.6 L551.2,1882.6 L551.9,1882.6 L552.6,1882.6 L553.3,1882.6 L554,1882.6 L554.7,1882.6 L555.4,1882.6 L556.1,1882.6 L556.8,1882.6 L557.5,1882.6 L558.2,1882.6 L558.9,1882.6 L559.6,1882.6 L560.3,1882.6 L561,1882.6 L561.7,1882.6 L562.4,1882.6 L563.1,1882.6 L563.8,1882.6 L564.5,1882.6 L565.2,1882.6 L565.9,1882.6 L566.6,1882.6 L567.3,1882.6 L568,1882.6 L568.7,1882.6 L569.4,1882.6 L570.1,1882.6 L570.8,1882.6 L571.5,1882.6 L572.2,1882.6 L572.9,1882.6 L573.6,1882.6 L574.3,1882.6 L575,1882.6 L575.7,1882.6 L576.4,1882.6 L577.1,1882.6 L577.8,1882.6 L578.5,1882.6 L579.2,1882.6 L579.9,1882.6 L580.6,1882.6 L581.3,1882.6 L582,1882.6 L582.7,1882.6 L583.4,1882.6 L584.1,1882.6 L584.8,1882.6 L585.5,1882.6 L586.2,1882.6 L586.9,1882.6 L587.6,1882.6 L588.3,1882.6 L589,1882.6 L589.7,1882.6 L590.4,1882.6 L591.1,1882.6 L591.8,1882.6 L592.5,1882.6 L593.2,1882.6 L593.9,1882.6 L594.6,1882.6 L595.3,1882.6 L596,1882.6 L596.7,1882.6 L597.4,1882.6 L598.1,1882.6 L598.8,1882.6 L599.5,1882.6 L600.2,1882.6 L600.9,1882.6 L601.6,1882.6 L602.3,1882.6 L603,1882.6 L603.7,1882.6 L604.4,1882.6 L605.1,1882.6 L605.8,1882.6 L606.5,1882.6 L607.2,1882.6 L607.9,1882.6 L608.6,1882.6 L609.3,1882.6 L610,1882.6 L610.7,1882.6 L611.4,1882.6 L612.1,1882.6 L612.8,1882.6 L613.5,1882.6 L614.2,1882.6 L614.9,1882.6 L615.6,1882.6 L616.3,1882.6 L617,1882.6 L617.7,1882.6 L618.4,1882.6 L619.1,1882.6 L619.8,1882.6 L620.5,1882.6 L621.2,1882.6 L621.9,1882.6 L622.6,1882.6 L623.3,1882.6 L624,1882.6 L624.7,1882.6 L625.4,1882.6 L626.1,1882.6 L626.8,1882.6 L627.5,1882.6 L628.2,1882.6 L628.9,1882.6 L629.6,1882.6 L630.3,1882.6 L631,1882.6 L631.7,1882.6 L632.4,1882.6 L633.1,1882.6 L633.8,1882.6 L634.5,1882.6 L635.2,1882.59 L635.9,1882.59 L636.6,1882.58 L637.3,1882.56 L638,1882.52 L638.7,1882.45 L639.4,1882.34 L640.1,1882.17 L640.8,1881.89 L641.5,1881.49 L642.2,1880.9 L642.9,1880.09 L643.6,1879 L644.3,1877.61 L645,1875.9 L645.7,1873.89 L646.4,1871.63 L647.1,1869.23 L647.8,1866.82 L648.5,1864.56 L649.2,1862.64" fill="none" stroke="#3d63d8" stroke-width="2.2" stroke-linejoin="round"/>
<path d="M245.3,1881.78 L246,1881.21 L246.7,1880.32 L247.4,1878.97 L248.1,1877.02 L248.8,1874.29 L249.5,1870.61 L250.2,1865.86 L250.9,1859.97 L251.6,1852.97 L252.3,1845.04 L253,1836.49 L253.7,1827.79 L254.4,1819.52 L255.1,1812.29 L255.8,1806.73 L256.5,1803.32 L257.2,1802.38 L257.9,1804.01 L258.6,1808.04 L259.3,1814.11 L260,1821.68 L260.7,1830.13 L261.4,1838.84 L262.1,1847.26 L262.8,1854.97 L263.5,1861.68 L264.2,1867.26 L264.9,1871.71 L265.6,1875.11 L266.3,1877.62 L267,1879.39 L267.7,1880.6 L268.4,1881.39 L269.1,1881.89 L269.8,1882.2 L270.5,1882.38 L271.2,1882.48 L271.9,1882.54 L272.6,1882.57 L273.3,1882.58 L274,1882.58 L274.7,1882.58 L275.4,1882.56 L276.1,1882.52 L276.8,1882.45 L277.5,1882.33 L278.2,1882.13 L278.9,1881.8 L279.6,1881.29 L280.3,1880.51 L281,1879.39 L281.7,1877.82 L282.4,1875.71 L283.1,1872.98 L283.8,1869.59 L284.5,1865.57 L285.2,1861.02 L285.9,1856.11 L286.6,1851.12 L287.3,1846.38 L288,1842.24 L288.7,1839.06 L289.4,1837.11 L290.1,1836.58 L290.8,1837.53 L291.5,1839.85 L292.2,1843.34 L292.9,1847.69 L293.6,1852.54 L294.3,1857.53 L295,1862.36 L295.7,1866.78 L296.4,1870.62 L297.1,1873.82 L297.8,1876.37 L298.5,1878.32 L299.2,1879.75 L299.9,1880.76 L300.6,1881.45 L301.3,1881.91 L302,1882.2 L302.7,1882.37 L303.4,1882.47 L304.1,1882.53 L304.8,1882.57 L305.5,1882.58 L306.2,1882.59 L306.9,1882.6 L307.6,1882.6 L308.3,1882.6 L309,1882.6 L309.7,1882.6 L310.4,1882.6 L311.1,1882.6 L311.8,1882.6 L312.5,1882.6 L313.2,1882.6 L313.9,1882.6 L314.6,1882.6 L315.3,1882.6 L316,1882.6 L316.7,1882.6 L317.4,1882.6 L318.1,1882.6 L318.8,1882.6 L319.5,1882.6 L320.2,1882.6 L320.9,1882.6 L321.6,1882.6 L322.3,1882.6 L323,1882.6 L323.7,1882.6 L324.4,1882.6 L325.1,1882.6 L325.8,1882.6 L326.5,1882.6 L327.2,1882.6 L327.9,1882.6 L328.6,1882.6 L329.3,1882.6 L330,1882.6 L330.7,1882.6 L331.4,1882.6 L332.1,1882.6 L332.8,1882.6 L333.5,1882.6 L334.2,1882.6 L334.9,1882.6 L335.6,1882.6 L336.3,1882.6 L337,1882.6 L337.7,1882.6 L338.4,1882.6 L339.1,1882.6 L339.8,1882.6 L340.5,1882.6 L341.2,1882.6 L341.9,1882.59 L342.6,1882.59 L343.3,1882.57 L344,1882.54 L344.7,1882.49 L345.4,1882.4 L346.1,1882.23 L346.8,1881.96 L347.5,1881.53 L348.2,1880.86 L348.9,1879.86 L349.6,1878.42 L350.3,1876.43 L351,1873.78 L351.7,1870.39 L352.4,1866.22 L353.1,1861.34 L353.8,1855.87 L354.5,1850.07 L355.2,1844.26 L355.9,1838.84 L356.6,1834.24 L357.3,1830.86 L358,1828.98 L358.7,1828.81 L359.4,1830.33 L360.1,1833.42 L360.8,1837.78 L361.5,1843.02 L362.2,1848.7 L362.9,1854.39 L363.6,1859.69 L364.3,1864.31 L365,1867.98 L365.7,1870.57 L366.4,1871.95 L367.1,1872.08 L367.8,1870.92 L368.5,1868.49 L369.2,1864.83 L369.9,1860.05 L370.6,1854.35 L371.3,1848 L372,1841.4 L372.7,1834.99 L373.4,1829.28 L374.1,1824.76 L374.8,1821.83 L375.5,1820.78 L376.2,1821.69 L376.9,1824.5 L377.6,1828.93 L378.3,1834.59 L379,1841.02 L379.7,1847.73 L380.4,1854.28 L381.1,1860.34 L381.8,1865.65 L382.5,1870.1 L383.2,1873.68 L383.9,1876.43 L384.6,1878.47 L385.3,1879.92 L386,1880.92 L386.7,1881.58 L387.4,1882 L388.1,1882.26 L388.8,1882.41 L389.5,1882.5 L390.2,1882.55 L390.9,1882.57 L391.6,1882.58 L392.3,1882.58 L393,1882.57 L393.7,1882.54 L394.4,1882.48 L395.1,1882.38 L395.8,1882.2 L396.5,1881.89 L397.2,1881.39 L397.9,1880.61 L398.6,1879.42 L399.3,1877.68 L400,1875.24 L400.7,1871.92 L401.4,1867.61 L402.1,1862.23 L402.8,1855.78 L403.5,1848.42 L404.2,1840.42 L404.9,1832.19 L405.6,1824.27 L406.3,1817.25 L407,1811.7 L407.7,1808.12 L408.4,1806.83 L409.1,1807.97 L409.8,1811.42 L410.5,1816.87 L411.2,1823.82 L411.9,1831.7 L412.6,1839.93 L413.3,1847.95 L414,1855.36 L414.7,1861.87 L415.4,1867.32 L416.1,1871.69 L416.8,1875.06 L417.5,1877.56 L418.2,1879.33 L418.9,1880.55 L419.6,1881.35 L420.3,1881.87 L421,1882.18 L421.7,1882.37 L422.4,1882.48 L423.1,1882.54 L423.8,1882.57 L424.5,1882.58 L425.2,1882.59 L425.9,1882.6 L426.6,1882.6 L427.3,1882.6 L428,1882.6 L428.7,1882.6 L429.4,1882.6 L430.1,1882.6 L430.8,1882.6 L431.5,1882.6 L432.2,1882.6 L432.9,1882.6 L433.6,1882.6 L434.3,1882.6 L435,1882.6 L435.7,1882.6 L436.4,1882.6 L437.1,1882.6 L437.8,1882.6 L438.5,1882.6 L439.2,1882.6 L439.9,1882.6 L440.6,1882.6 L441.3,1882.6 L442,1882.6 L442.7,1882.6 L443.4,1882.6 L444.1,1882.6 L444.8,1882.6 L445.5,1882.6 L446.2,1882.6 L446.9,1882.6 L447.6,1882.6 L448.3,1882.6 L449,1882.59 L449.7,1882.59 L450.4,1882.58 L451.1,1882.55 L451.8,1882.51 L452.5,1882.43 L453.2,1882.3 L453.9,1882.07 L454.6,1881.69 L455.3,1881.1 L456,1880.21 L456.7,1878.91 L457.4,1877.08 L458.1,1874.62 L458.8,1871.41 L459.5,1867.41 L460.2,1862.63 L460.9,1857.19 L461.6,1851.28 L462.3,1845.23 L463,1839.42 L463.7,1834.29 L464.4,1830.26 L465.1,1827.7 L465.8,1826.83 L466.5,1827.75 L467.2,1830.36 L467.9,1834.43 L468.6,1839.59 L469.3,1845.41 L470,1851.46 L470.7,1857.36 L471.4,1862.79 L472.1,1867.54 L472.8,1871.52 L473.5,1874.7 L474.2,1877.15 L474.9,1878.96 L475.6,1880.24 L476.3,1881.12 L477,1881.7 L477.7,1882.07 L478.4,1882.3 L479.1,1882.43 L479.8,1882.51 L480.5,1882.54 L481.2,1882.56 L481.9,1882.55 L482.6,1882.51 L483.3,1882.45 L484,1882.33 L484.7,1882.12 L485.4,1881.79 L486.1,1881.26 L486.8,1880.47 L487.5,1879.31 L488.2,1877.68 L488.9,1875.48 L489.6,1872.63 L490.3,1869.07 L491,1864.82 L491.7,1859.99 L492.4,1854.75 L493.1,1849.38 L493.8,1844.23 L494.5,1839.7 L495.2,1836.14 L495.9,1833.89 L496.6,1833.15 L497.3,1833.99 L498,1836.32 L498.7,1839.95 L499.4,1844.53 L500.1,1849.7 L500.8,1855.07 L501.5,1860.29 L502.2,1865.1 L502.9,1869.3 L503.6,1872.82 L504.3,1875.63 L505,1877.79 L505.7,1879.39 L506.4,1880.52 L507.1,1881.3 L507.8,1881.81 L508.5,1882.14 L509.2,1882.34 L509.9,1882.46 L510.6,1882.52 L511.3,1882.56 L512,1882.58 L512.7,1882.59 L513.4,1882.6 L514.1,1882.6 L514.8,1882.6 L515.5,1882.6 L516.2,1882.6 L516.9,1882.6 L517.6,1882.6 L518.3,1882.6 L519,1882.6 L519.7,1882.6 L520.4,1882.6 L521.1,1882.6 L521.8,1882.6 L522.5,1882.6 L523.2,1882.6 L523.9,1882.6 L524.6,1882.6 L525.3,1882.6 L526,1882.6 L526.7,1882.6 L527.4,1882.6 L528.1,1882.6 L528.8,1882.6 L529.5,1882.6 L530.2,1882.6 L530.9,1882.6 L531.6,1882.6 L532.3,1882.6 L533,1882.6 L533.7,1882.6 L534.4,1882.6 L535.1,1882.6 L535.8,1882.6 L536.5,1882.6 L537.2,1882.6 L537.9,1882.6 L538.6,1882.6 L539.3,1882.6 L540,1882.6 L540.7,1882.6 L541.4,1882.6 L542.1,1882.6 L542.8,1882.6 L543.5,1882.6 L544.2,1882.6 L544.9,1882.6 L545.6,1882.6 L546.3,1882.6 L547,1882.6 L547.7,1882.6 L548.4,1882.6 L549.1,1882.6 L549.8,1882.6 L550.5,1882.6 L551.2,1882.6 L551.9,1882.6 L552.6,1882.6 L553.3,1882.6 L554,1882.6 L554.7,1882.6 L555.4,1882.6 L556.1,1882.6 L556.8,1882.6 L557.5,1882.6 L558.2,1882.6 L558.9,1882.6 L559.6,1882.6 L560.3,1882.6 L561,1882.6 L561.7,1882.6 L562.4,1882.6 L563.1,1882.6 L563.8,1882.6 L564.5,1882.6 L565.2,1882.6 L565.9,1882.6 L566.6,1882.6 L567.3,1882.6 L568,1882.6 L568.7,1882.6 L569.4,1882.6 L570.1,1882.6 L570.8,1882.6 L571.5,1882.6 L572.2,1882.6 L572.9,1882.59 L573.6,1882.59 L574.3,1882.57 L575,1882.55 L575.7,1882.5 L576.4,1882.41 L577.1,1882.26 L577.8,1882 L578.5,1881.6 L579.2,1880.96 L579.9,1880.01 L580.6,1878.65 L581.3,1876.75 L582,1874.21 L582.7,1870.96 L583.4,1866.95 L584.1,1862.24 L584.8,1856.94 L585.5,1851.29 L586.2,1845.61 L586.9,1840.28 L587.6,1835.72 L588.3,1832.32 L589,1830.38 L589.7,1830.08 L590.4,1831.45 L591.1,1834.37 L591.8,1838.56 L592.5,1843.67 L593.2,1849.27 L593.9,1854.97 L594.6,1860.42 L595.3,1865.36 L596,1869.63 L596.7,1873.15 L597.4,1875.93 L598.1,1878.04 L598.8,1879.58 L599.5,1880.67 L600.2,1881.4 L600.9,1881.88 L601.6,1882.18 L602.3,1882.36 L603,1882.47 L603.7,1882.53 L604.4,1882.57 L605.1,1882.58 L605.8,1882.59 L606.5,1882.6 L607.2,1882.6 L607.9,1882.6 L608.6,1882.6 L609.3,1882.6 L610,1882.6 L610.7,1882.6 L611.4,1882.6 L612.1,1882.6 L612.8,1882.6 L613.5,1882.6 L614.2,1882.6 L614.9,1882.6 L615.6,1882.6 L616.3,1882.6 L617,1882.6 L617.7,1882.6 L618.4,1882.6 L619.1,1882.6 L619.8,1882.6 L620.5,1882.6 L621.2,1882.6 L621.9,1882.6 L622.6,1882.6 L623.3,1882.6 L624,1882.6 L624.7,1882.6 L625.4,1882.6 L626.1,1882.6 L626.8,1882.6 L627.5,1882.6 L628.2,1882.6 L628.9,1882.6 L629.6,1882.6 L630.3,1882.6 L631,1882.6 L631.7,1882.6 L632.4,1882.6 L633.1,1882.6 L633.8,1882.6 L634.5,1882.6 L635.2,1882.6 L635.9,1882.6 L636.6,1882.6 L637.3,1882.6 L638,1882.6 L638.7,1882.6 L639.4,1882.6 L640.1,1882.6 L640.8,1882.6 L641.5,1882.6 L642.2,1882.6 L642.9,1882.6 L643.6,1882.6 L644.3,1882.6 L645,1882.6 L645.7,1882.6 L646.4,1882.6 L647.1,1882.6 L647.8,1882.6 L648.5,1882.6 L649.2,1882.6 L649.5,1883.4 L245.3,1883.4 Z" fill="#f6dede" fill-opacity="0.85" stroke="none"/>
<path d="M245.3,1881.78 L246,1881.21 L246.7,1880.32 L247.4,1878.97 L248.1,1877.02 L248.8,1874.29 L249.5,1870.61 L250.2,1865.86 L250.9,1859.97 L251.6,1852.97 L252.3,1845.04 L253,1836.49 L253.7,1827.79 L254.4,1819.52 L255.1,1812.29 L255.8,1806.73 L256.5,1803.32 L257.2,1802.38 L257.9,1804.01 L258.6,1808.04 L259.3,1814.11 L260,1821.68 L260.7,1830.13 L261.4,1838.84 L262.1,1847.26 L262.8,1854.97 L263.5,1861.68 L264.2,1867.26 L264.9,1871.71 L265.6,1875.11 L266.3,1877.62 L267,1879.39 L267.7,1880.6 L268.4,1881.39 L269.1,1881.89 L269.8,1882.2 L270.5,1882.38 L271.2,1882.48 L271.9,1882.54 L272.6,1882.57 L273.3,1882.58 L274,1882.58 L274.7,1882.58 L275.4,1882.56 L276.1,1882.52 L276.8,1882.45 L277.5,1882.33 L278.2,1882.13 L278.9,1881.8 L279.6,1881.29 L280.3,1880.51 L281,1879.39 L281.7,1877.82 L282.4,1875.71 L283.1,1872.98 L283.8,1869.59 L284.5,1865.57 L285.2,1861.02 L285.9,1856.11 L286.6,1851.12 L287.3,1846.38 L288,1842.24 L288.7,1839.06 L289.4,1837.11 L290.1,1836.58 L290.8,1837.53 L291.5,1839.85 L292.2,1843.34 L292.9,1847.69 L293.6,1852.54 L294.3,1857.53 L295,1862.36 L295.7,1866.78 L296.4,1870.62 L297.1,1873.82 L297.8,1876.37 L298.5,1878.32 L299.2,1879.75 L299.9,1880.76 L300.6,1881.45 L301.3,1881.91 L302,1882.2 L302.7,1882.37 L303.4,1882.47 L304.1,1882.53 L304.8,1882.57 L305.5,1882.58 L306.2,1882.59 L306.9,1882.6 L307.6,1882.6 L308.3,1882.6 L309,1882.6 L309.7,1882.6 L310.4,1882.6 L311.1,1882.6 L311.8,1882.6 L312.5,1882.6 L313.2,1882.6 L313.9,1882.6 L314.6,1882.6 L315.3,1882.6 L316,1882.6 L316.7,1882.6 L317.4,1882.6 L318.1,1882.6 L318.8,1882.6 L319.5,1882.6 L320.2,1882.6 L320.9,1882.6 L321.6,1882.6 L322.3,1882.6 L323,1882.6 L323.7,1882.6 L324.4,1882.6 L325.1,1882.6 L325.8,1882.6 L326.5,1882.6 L327.2,1882.6 L327.9,1882.6 L328.6,1882.6 L329.3,1882.6 L330,1882.6 L330.7,1882.6 L331.4,1882.6 L332.1,1882.6 L332.8,1882.6 L333.5,1882.6 L334.2,1882.6 L334.9,1882.6 L335.6,1882.6 L336.3,1882.6 L337,1882.6 L337.7,1882.6 L338.4,1882.6 L339.1,1882.6 L339.8,1882.6 L340.5,1882.6 L341.2,1882.6 L341.9,1882.59 L342.6,1882.59 L343.3,1882.57 L344,1882.54 L344.7,1882.49 L345.4,1882.4 L346.1,1882.23 L346.8,1881.96 L347.5,1881.53 L348.2,1880.86 L348.9,1879.86 L349.6,1878.42 L350.3,1876.43 L351,1873.78 L351.7,1870.39 L352.4,1866.22 L353.1,1861.34 L353.8,1855.87 L354.5,1850.07 L355.2,1844.26 L355.9,1838.84 L356.6,1834.24 L357.3,1830.86 L358,1828.98 L358.7,1828.81 L359.4,1830.33 L360.1,1833.42 L360.8,1837.78 L361.5,1843.02 L362.2,1848.7 L362.9,1854.39 L363.6,1859.69 L364.3,1864.31 L365,1867.98 L365.7,1870.57 L366.4,1871.95 L367.1,1872.08 L367.8,1870.92 L368.5,1868.49 L369.2,1864.83 L369.9,1860.05 L370.6,1854.35 L371.3,1848 L372,1841.4 L372.7,1834.99 L373.4,1829.28 L374.1,1824.76 L374.8,1821.83 L375.5,1820.78 L376.2,1821.69 L376.9,1824.5 L377.6,1828.93 L378.3,1834.59 L379,1841.02 L379.7,1847.73 L380.4,1854.28 L381.1,1860.34 L381.8,1865.65 L382.5,1870.1 L383.2,1873.68 L383.9,1876.43 L384.6,1878.47 L385.3,1879.92 L386,1880.92 L386.7,1881.58 L387.4,1882 L388.1,1882.26 L388.8,1882.41 L389.5,1882.5 L390.2,1882.55 L390.9,1882.57 L391.6,1882.58 L392.3,1882.58 L393,1882.57 L393.7,1882.54 L394.4,1882.48 L395.1,1882.38 L395.8,1882.2 L396.5,1881.89 L397.2,1881.39 L397.9,1880.61 L398.6,1879.42 L399.3,1877.68 L400,1875.24 L400.7,1871.92 L401.4,1867.61 L402.1,1862.23 L402.8,1855.78 L403.5,1848.42 L404.2,1840.42 L404.9,1832.19 L405.6,1824.27 L406.3,1817.25 L407,1811.7 L407.7,1808.12 L408.4,1806.83 L409.1,1807.97 L409.8,1811.42 L410.5,1816.87 L411.2,1823.82 L411.9,1831.7 L412.6,1839.93 L413.3,1847.95 L414,1855.36 L414.7,1861.87 L415.4,1867.32 L416.1,1871.69 L416.8,1875.06 L417.5,1877.56 L418.2,1879.33 L418.9,1880.55 L419.6,1881.35 L420.3,1881.87 L421,1882.18 L421.7,1882.37 L422.4,1882.48 L423.1,1882.54 L423.8,1882.57 L424.5,1882.58 L425.2,1882.59 L425.9,1882.6 L426.6,1882.6 L427.3,1882.6 L428,1882.6 L428.7,1882.6 L429.4,1882.6 L430.1,1882.6 L430.8,1882.6 L431.5,1882.6 L432.2,1882.6 L432.9,1882.6 L433.6,1882.6 L434.3,1882.6 L435,1882.6 L435.7,1882.6 L436.4,1882.6 L437.1,1882.6 L437.8,1882.6 L438.5,1882.6 L439.2,1882.6 L439.9,1882.6 L440.6,1882.6 L441.3,1882.6 L442,1882.6 L442.7,1882.6 L443.4,1882.6 L444.1,1882.6 L444.8,1882.6 L445.5,1882.6 L446.2,1882.6 L446.9,1882.6 L447.6,1882.6 L448.3,1882.6 L449,1882.59 L449.7,1882.59 L450.4,1882.58 L451.1,1882.55 L451.8,1882.51 L452.5,1882.43 L453.2,1882.3 L453.9,1882.07 L454.6,1881.69 L455.3,1881.1 L456,1880.21 L456.7,1878.91 L457.4,1877.08 L458.1,1874.62 L458.8,1871.41 L459.5,1867.41 L460.2,1862.63 L460.9,1857.19 L461.6,1851.28 L462.3,1845.23 L463,1839.42 L463.7,1834.29 L464.4,1830.26 L465.1,1827.7 L465.8,1826.83 L466.5,1827.75 L467.2,1830.36 L467.9,1834.43 L468.6,1839.59 L469.3,1845.41 L470,1851.46 L470.7,1857.36 L471.4,1862.79 L472.1,1867.54 L472.8,1871.52 L473.5,1874.7 L474.2,1877.15 L474.9,1878.96 L475.6,1880.24 L476.3,1881.12 L477,1881.7 L477.7,1882.07 L478.4,1882.3 L479.1,1882.43 L479.8,1882.51 L480.5,1882.54 L481.2,1882.56 L481.9,1882.55 L482.6,1882.51 L483.3,1882.45 L484,1882.33 L484.7,1882.12 L485.4,1881.79 L486.1,1881.26 L486.8,1880.47 L487.5,1879.31 L488.2,1877.68 L488.9,1875.48 L489.6,1872.63 L490.3,1869.07 L491,1864.82 L491.7,1859.99 L492.4,1854.75 L493.1,1849.38 L493.8,1844.23 L494.5,1839.7 L495.2,1836.14 L495.9,1833.89 L496.6,1833.15 L497.3,1833.99 L498,1836.32 L498.7,1839.95 L499.4,1844.53 L500.1,1849.7 L500.8,1855.07 L501.5,1860.29 L502.2,1865.1 L502.9,1869.3 L503.6,1872.82 L504.3,1875.63 L505,1877.79 L505.7,1879.39 L506.4,1880.52 L507.1,1881.3 L507.8,1881.81 L508.5,1882.14 L509.2,1882.34 L509.9,1882.46 L510.6,1882.52 L511.3,1882.56 L512,1882.58 L512.7,1882.59 L513.4,1882.6 L514.1,1882.6 L514.8,1882.6 L515.5,1882.6 L516.2,1882.6 L516.9,1882.6 L517.6,1882.6 L518.3,1882.6 L519,1882.6 L519.7,1882.6 L520.4,1882.6 L521.1,1882.6 L521.8,1882.6 L522.5,1882.6 L523.2,1882.6 L523.9,1882.6 L524.6,1882.6 L525.3,1882.6 L526,1882.6 L526.7,1882.6 L527.4,1882.6 L528.1,1882.6 L528.8,1882.6 L529.5,1882.6 L530.2,1882.6 L530.9,1882.6 L531.6,1882.6 L532.3,1882.6 L533,1882.6 L533.7,1882.6 L534.4,1882.6 L535.1,1882.6 L535.8,1882.6 L536.5,1882.6 L537.2,1882.6 L537.9,1882.6 L538.6,1882.6 L539.3,1882.6 L540,1882.6 L540.7,1882.6 L541.4,1882.6 L542.1,1882.6 L542.8,1882.6 L543.5,1882.6 L544.2,1882.6 L544.9,1882.6 L545.6,1882.6 L546.3,1882.6 L547,1882.6 L547.7,1882.6 L548.4,1882.6 L549.1,1882.6 L549.8,1882.6 L550.5,1882.6 L551.2,1882.6 L551.9,1882.6 L552.6,1882.6 L553.3,1882.6 L554,1882.6 L554.7,1882.6 L555.4,1882.6 L556.1,1882.6 L556.8,1882.6 L557.5,1882.6 L558.2,1882.6 L558.9,1882.6 L559.6,1882.6 L560.3,1882.6 L561,1882.6 L561.7,1882.6 L562.4,1882.6 L563.1,1882.6 L563.8,1882.6 L564.5,1882.6 L565.2,1882.6 L565.9,1882.6 L566.6,1882.6 L567.3,1882.6 L568,1882.6 L568.7,1882.6 L569.4,1882.6 L570.1,1882.6 L570.8,1882.6 L571.5,1882.6 L572.2,1882.6 L572.9,1882.59 L573.6,1882.59 L574.3,1882.57 L575,1882.55 L575.7,1882.5 L576.4,1882.41 L577.1,1882.26 L577.8,1882 L578.5,1881.6 L579.2,1880.96 L579.9,1880.01 L580.6,1878.65 L581.3,1876.75 L582,1874.21 L582.7,1870.96 L583.4,1866.95 L584.1,1862.24 L584.8,1856.94 L585.5,1851.29 L586.2,1845.61 L586.9,1840.28 L587.6,1835.72 L588.3,1832.32 L589,1830.38 L589.7,1830.08 L590.4,1831.45 L591.1,1834.37 L591.8,1838.56 L592.5,1843.67 L593.2,1849.27 L593.9,1854.97 L594.6,1860.42 L595.3,1865.36 L596,1869.63 L596.7,1873.15 L597.4,1875.93 L598.1,1878.04 L598.8,1879.58 L599.5,1880.67 L600.2,1881.4 L600.9,1881.88 L601.6,1882.18 L602.3,1882.36 L603,1882.47 L603.7,1882.53 L604.4,1882.57 L605.1,1882.58 L605.8,1882.59 L606.5,1882.6 L607.2,1882.6 L607.9,1882.6 L608.6,1882.6 L609.3,1882.6 L610,1882.6 L610.7,1882.6 L611.4,1882.6 L612.1,1882.6 L612.8,1882.6 L613.5,1882.6 L614.2,1882.6 L614.9,1882.6 L615.6,1882.6 L616.3,1882.6 L617,1882.6 L617.7,1882.6 L618.4,1882.6 L619.1,1882.6 L619.8,1882.6 L620.5,1882.6 L621.2,1882.6 L621.9,1882.6 L622.6,1882.6 L623.3,1882.6 L624,1882.6 L624.7,1882.6 L625.4,1882.6 L626.1,1882.6 L626.8,1882.6 L627.5,1882.6 L628.2,1882.6 L628.9,1882.6 L629.6,1882.6 L630.3,1882.6 L631,1882.6 L631.7,1882.6 L632.4,1882.6 L633.1,1882.6 L633.8,1882.6 L634.5,1882.6 L635.2,1882.6 L635.9,1882.6 L636.6,1882.6 L637.3,1882.6 L638,1882.6 L638.7,1882.6 L639.4,1882.6 L640.1,1882.6 L640.8,1882.6 L641.5,1882.6 L642.2,1882.6 L642.9,1882.6 L643.6,1882.6 L644.3,1882.6 L645,1882.6 L645.7,1882.6 L646.4,1882.6 L647.1,1882.6 L647.8,1882.6 L648.5,1882.6 L649.2,1882.6" fill="none" stroke="#e0413a" stroke-width="2.2" stroke-linejoin="round"/>
<path d="M245.3,1882.6 L246,1882.6 L246.7,1882.6 L247.4,1882.6 L248.1,1882.6 L248.8,1882.6 L249.5,1882.6 L250.2,1882.6 L250.9,1882.6 L251.6,1882.6 L252.3,1882.6 L253,1882.6 L253.7,1882.6 L254.4,1882.6 L255.1,1882.6 L255.8,1882.6 L256.5,1882.6 L257.2,1882.6 L257.9,1882.6 L258.6,1882.6 L259.3,1882.6 L260,1882.6 L260.7,1882.6 L261.4,1882.6 L262.1,1882.6 L262.8,1882.6 L263.5,1882.6 L264.2,1882.6 L264.9,1882.6 L265.6,1882.6 L266.3,1882.6 L267,1882.6 L267.7,1882.6 L268.4,1882.6 L269.1,1882.6 L269.8,1882.6 L270.5,1882.6 L271.2,1882.6 L271.9,1882.6 L272.6,1882.6 L273.3,1882.6 L274,1882.6 L274.7,1882.6 L275.4,1882.6 L276.1,1882.6 L276.8,1882.6 L277.5,1882.6 L278.2,1882.6 L278.9,1882.6 L279.6,1882.6 L280.3,1882.6 L281,1882.6 L281.7,1882.6 L282.4,1882.6 L283.1,1882.6 L283.8,1882.6 L284.5,1882.6 L285.2,1882.59 L285.9,1882.58 L286.6,1882.56 L287.3,1882.52 L288,1882.44 L288.7,1882.3 L289.4,1882.06 L290.1,1881.65 L290.8,1881 L291.5,1879.98 L292.2,1878.45 L292.9,1876.24 L293.6,1873.15 L294.3,1869.01 L295,1863.68 L295.7,1857.1 L296.4,1849.31 L297.1,1840.51 L297.8,1831.09 L298.5,1821.54 L299.2,1812.53 L299.9,1804.73 L300.6,1798.8 L301.3,1795.28 L302,1794.49 L302.7,1796.51 L303.4,1801.13 L304.1,1807.93 L304.8,1816.31 L305.5,1825.58 L306.2,1835.05 L306.9,1844.14 L307.6,1852.39 L308.3,1859.5 L309,1865.35 L309.7,1869.93 L310.4,1873.37 L311.1,1875.82 L311.8,1877.48 L312.5,1878.54 L313.2,1879.18 L313.9,1879.54 L314.6,1879.72 L315.3,1879.81 L316,1879.87 L316.7,1879.94 L317.4,1880.02 L318.1,1880.14 L318.8,1880.29 L319.5,1880.47 L320.2,1880.67 L320.9,1880.88 L321.6,1881.11 L322.3,1881.32 L323,1881.53 L323.7,1881.72 L324.4,1881.89 L325.1,1882.04 L325.8,1882.17 L326.5,1882.27 L327.2,1882.36 L327.9,1882.42 L328.6,1882.47 L329.3,1882.51 L330,1882.54 L330.7,1882.56 L331.4,1882.57 L332.1,1882.58 L332.8,1882.59 L333.5,1882.59 L334.2,1882.6 L334.9,1882.6 L335.6,1882.6 L336.3,1882.6 L337,1882.6 L337.7,1882.6 L338.4,1882.6 L339.1,1882.6 L339.8,1882.6 L340.5,1882.6 L341.2,1882.6 L341.9,1882.6 L342.6,1882.6 L343.3,1882.6 L344,1882.6 L344.7,1882.6 L345.4,1882.6 L346.1,1882.6 L346.8,1882.6 L347.5,1882.6 L348.2,1882.6 L348.9,1882.6 L349.6,1882.6 L350.3,1882.6 L351,1882.6 L351.7,1882.6 L352.4,1882.6 L353.1,1882.6 L353.8,1882.6 L354.5,1882.6 L355.2,1882.6 L355.9,1882.6 L356.6,1882.6 L357.3,1882.6 L358,1882.6 L358.7,1882.6 L359.4,1882.6 L360.1,1882.6 L360.8,1882.6 L361.5,1882.6 L362.2,1882.6 L362.9,1882.6 L363.6,1882.6 L364.3,1882.6 L365,1882.6 L365.7,1882.6 L366.4,1882.6 L367.1,1882.6 L367.8,1882.6 L368.5,1882.6 L369.2,1882.6 L369.9,1882.6 L370.6,1882.6 L371.3,1882.6 L372,1882.6 L372.7,1882.6 L373.4,1882.6 L374.1,1882.6 L374.8,1882.6 L375.5,1882.6 L376.2,1882.6 L376.9,1882.6 L377.6,1882.6 L378.3,1882.6 L379,1882.6 L379.7,1882.6 L380.4,1882.6 L381.1,1882.6 L381.8,1882.6 L382.5,1882.6 L383.2,1882.6 L383.9,1882.6 L384.6,1882.6 L385.3,1882.6 L386,1882.6 L386.7,1882.6 L387.4,1882.6 L388.1,1882.6 L388.8,1882.6 L389.5,1882.6 L390.2,1882.59 L390.9,1882.59 L391.6,1882.58 L392.3,1882.58 L393,1882.56 L393.7,1882.54 L394.4,1882.51 L395.1,1882.47 L395.8,1882.42 L396.5,1882.34 L397.2,1882.24 L397.9,1882.11 L398.6,1881.95 L399.3,1881.76 L400,1881.52 L400.7,1881.25 L401.4,1880.94 L402.1,1880.6 L402.8,1880.23 L403.5,1879.86 L404.2,1879.48 L404.9,1879.13 L405.6,1878.8 L406.3,1878.53 L407,1878.32 L407.7,1878.19 L408.4,1878.15 L409.1,1878.19 L409.8,1878.31 L410.5,1878.52 L411.2,1878.78 L411.9,1879.1 L412.6,1879.46 L413.3,1879.83 L414,1880.21 L414.7,1880.58 L415.4,1880.92 L416.1,1881.23 L416.8,1881.51 L417.5,1881.74 L418.2,1881.94 L418.9,1882.1 L419.6,1882.23 L420.3,1882.34 L421,1882.41 L421.7,1882.47 L422.4,1882.51 L423.1,1882.54 L423.8,1882.56 L424.5,1882.57 L425.2,1882.58 L425.9,1882.59 L426.6,1882.59 L427.3,1882.6 L428,1882.6 L428.7,1882.6 L429.4,1882.6 L430.1,1882.6 L430.8,1882.6 L431.5,1882.6 L432.2,1882.6 L432.9,1882.6 L433.6,1882.6 L434.3,1882.6 L435,1882.6 L435.7,1882.6 L436.4,1882.6 L437.1,1882.6 L437.8,1882.6 L438.5,1882.6 L439.2,1882.6 L439.9,1882.6 L440.6,1882.6 L441.3,1882.6 L442,1882.6 L442.7,1882.6 L443.4,1882.6 L444.1,1882.6 L444.8,1882.6 L445.5,1882.6 L446.2,1882.6 L446.9,1882.6 L447.6,1882.6 L448.3,1882.6 L449,1882.6 L449.7,1882.6 L450.4,1882.6 L451.1,1882.6 L451.8,1882.6 L452.5,1882.6 L453.2,1882.6 L453.9,1882.6 L454.6,1882.6 L455.3,1882.6 L456,1882.6 L456.7,1882.6 L457.4,1882.6 L458.1,1882.6 L458.8,1882.6 L459.5,1882.6 L460.2,1882.6 L460.9,1882.6 L461.6,1882.6 L462.3,1882.6 L463,1882.59 L463.7,1882.59 L464.4,1882.57 L465.1,1882.54 L465.8,1882.49 L466.5,1882.39 L467.2,1882.23 L467.9,1881.96 L468.6,1881.52 L469.3,1880.85 L470,1879.85 L470.7,1878.41 L471.4,1876.43 L472.1,1873.79 L472.8,1870.43 L473.5,1866.32 L474.2,1861.51 L474.9,1856.15 L475.6,1850.47 L476.3,1844.82 L477,1839.58 L477.7,1835.16 L478.4,1831.95 L479.1,1830.23 L479.8,1830.17 L480.5,1831.78 L481.2,1834.9 L481.9,1839.25 L482.6,1844.45 L483.3,1850.09 L484,1855.77 L484.7,1861.17 L485.4,1866.02 L486.1,1870.18 L486.8,1873.59 L487.5,1876.27 L488.2,1878.3 L488.9,1879.77 L489.6,1880.79 L490.3,1881.48 L491,1881.93 L491.7,1882.21 L492.4,1882.37 L493.1,1882.46 L493.8,1882.5 L494.5,1882.49 L495.2,1882.43 L495.9,1882.3 L496.6,1882.08 L497.3,1881.69 L498,1881.08 L498.7,1880.12 L499.4,1878.7 L500.1,1876.64 L500.8,1873.79 L501.5,1869.98 L502.2,1865.11 L502.9,1859.12 L503.6,1852.08 L504.3,1844.18 L505,1835.78 L505.7,1827.35 L506.4,1819.47 L507.1,1812.76 L507.8,1807.77 L508.5,1804.98 L509.2,1804.63 L509.9,1806.76 L510.6,1811.17 L511.3,1817.46 L512,1825.08 L512.7,1833.42 L513.4,1841.88 L514.1,1849.95 L514.8,1857.26 L515.5,1863.55 L516.2,1868.74 L516.9,1872.83 L517.6,1875.93 L518.3,1878.19 L519,1879.78 L519.7,1880.85 L520.4,1881.55 L521.1,1881.99 L521.8,1882.26 L522.5,1882.41 L523.2,1882.5 L523.9,1882.55 L524.6,1882.58 L525.3,1882.59 L526,1882.59 L526.7,1882.6 L527.4,1882.6 L528.1,1882.6 L528.8,1882.6 L529.5,1882.6 L530.2,1882.6 L530.9,1882.6 L531.6,1882.6 L532.3,1882.6 L533,1882.59 L533.7,1882.58 L534.4,1882.55 L535.1,1882.51 L535.8,1882.43 L536.5,1882.27 L537.2,1882.01 L537.9,1881.57 L538.6,1880.85 L539.3,1879.73 L540,1878.03 L540.7,1875.56 L541.4,1872.1 L542.1,1867.44 L542.8,1861.4 L543.5,1853.89 L544.2,1844.95 L544.9,1834.8 L545.6,1823.84 L546.3,1812.65 L547,1801.97 L547.7,1792.61 L548.4,1785.35 L549.1,1780.83 L549.8,1779.48 L550.5,1781.42 L551.2,1786.47 L551.9,1794.17 L552.6,1803.83 L553.3,1814.66 L554,1825.85 L554.7,1836.71 L555.4,1846.66 L556.1,1855.35 L556.8,1862.59 L557.5,1868.38 L558.2,1872.81 L558.9,1876.07 L559.6,1878.39 L560.3,1879.97 L561,1881.01 L561.7,1881.67 L562.4,1882.07 L563.1,1882.31 L563.8,1882.45 L564.5,1882.52 L565.2,1882.56 L565.9,1882.58 L566.6,1882.59 L567.3,1882.6 L568,1882.6 L568.7,1882.6 L569.4,1882.6 L570.1,1882.6 L570.8,1882.6 L571.5,1882.6 L572.2,1882.6 L572.9,1882.6 L573.6,1882.6 L574.3,1882.6 L575,1882.6 L575.7,1882.6 L576.4,1882.6 L577.1,1882.6 L577.8,1882.6 L578.5,1882.6 L579.2,1882.6 L579.9,1882.6 L580.6,1882.6 L581.3,1882.6 L582,1882.6 L582.7,1882.6 L583.4,1882.6 L584.1,1882.6 L584.8,1882.59 L585.5,1882.59 L586.2,1882.58 L586.9,1882.55 L587.6,1882.51 L588.3,1882.43 L589,1882.28 L589.7,1882.04 L590.4,1881.63 L591.1,1880.98 L591.8,1879.99 L592.5,1878.52 L593.2,1876.43 L593.9,1873.57 L594.6,1869.79 L595.3,1865.01 L596,1859.21 L596.7,1852.49 L597.4,1845.06 L598.1,1837.28 L598.8,1829.62 L599.5,1822.63 L600.2,1816.87 L600.9,1812.84 L601.6,1810.91 L602.3,1811.25 L603,1813.84 L603.7,1818.41 L604.4,1824.54 L605.1,1831.67 L605.8,1839.21 L606.5,1846.57 L607.2,1853.23 L607.9,1858.77 L608.6,1862.86 L609.3,1865.29 L610,1865.9 L610.7,1864.62 L611.4,1861.45 L612.1,1856.43 L612.8,1849.74 L613.5,1841.66 L614.2,1832.62 L614.9,1823.18 L615.6,1814 L616.3,1805.82 L617,1799.35 L617.7,1795.16 L618.4,1793.66 L619.1,1795 L619.8,1799.05 L620.5,1805.44 L621.2,1813.58 L621.9,1822.8 L622.6,1832.4 L623.3,1841.72 L624,1850.25 L624.7,1857.59 L625.4,1863.51 L626.1,1867.89 L626.8,1870.71 L627.5,1871.99 L628.2,1871.75 L628.9,1870.05 L629.6,1866.92 L630.3,1862.45 L631,1856.77 L631.7,1850.09 L632.4,1842.75 L633.1,1835.16 L633.8,1827.86 L634.5,1821.41 L635.2,1816.36 L635.9,1813.15 L636.6,1812.09 L637.3,1813.29 L638,1816.62 L638.7,1821.79 L639.4,1828.32 L640.1,1835.69 L640.8,1843.35 L641.5,1850.8 L642.2,1857.65 L642.9,1863.64 L643.6,1868.65 L644.3,1872.67 L645,1875.75 L645.7,1878.02 L646.4,1879.64 L647.1,1880.75 L647.8,1881.48 L648.5,1881.94 L649.2,1882.22 L649.5,1883.4 L245.3,1883.4 Z" fill="#dcdcdc" fill-opacity="0.85" stroke="none"/>
<path d="M245.3,1882.6 L246,1882.6 L246.7,1882.6 L247.4,1882.6 L248.1,1882.6 L248.8,1882.6 L249.5,1882.6 L250.2,1882.6 L250.9,1882.6 L251.6,1882.6 L252.3,1882.6 L253,1882.6 L253.7,1882.6 L254.4,1882.6 L255.1,1882.6 L255.8,1882.6 L256.5,1882.6 L257.2,1882.6 L257.9,1882.6 L258.6,1882.6 L259.3,1882.6 L260,1882.6 L260.7,1882.6 L261.4,1882.6 L262.1,1882.6 L262.8,1882.6 L263.5,1882.6 L264.2,1882.6 L264.9,1882.6 L265.6,1882.6 L266.3,1882.6 L267,1882.6 L267.7,1882.6 L268.4,1882.6 L269.1,1882.6 L269.8,1882.6 L270.5,1882.6 L271.2,1882.6 L271.9,1882.6 L272.6,1882.6 L273.3,1882.6 L274,1882.6 L274.7,1882.6 L275.4,1882.6 L276.1,1882.6 L276.8,1882.6 L277.5,1882.6 L278.2,1882.6 L278.9,1882.6 L279.6,1882.6 L280.3,1882.6 L281,1882.6 L281.7,1882.6 L282.4,1882.6 L283.1,1882.6 L283.8,1882.6 L284.5,1882.6 L285.2,1882.59 L285.9,1882.58 L286.6,1882.56 L287.3,1882.52 L288,1882.44 L288.7,1882.3 L289.4,1882.06 L290.1,1881.65 L290.8,1881 L291.5,1879.98 L292.2,1878.45 L292.9,1876.24 L293.6,1873.15 L294.3,1869.01 L295,1863.68 L295.7,1857.1 L296.4,1849.31 L297.1,1840.51 L297.8,1831.09 L298.5,1821.54 L299.2,1812.53 L299.9,1804.73 L300.6,1798.8 L301.3,1795.28 L302,1794.49 L302.7,1796.51 L303.4,1801.13 L304.1,1807.93 L304.8,1816.31 L305.5,1825.58 L306.2,1835.05 L306.9,1844.14 L307.6,1852.39 L308.3,1859.5 L309,1865.35 L309.7,1869.93 L310.4,1873.37 L311.1,1875.82 L311.8,1877.48 L312.5,1878.54 L313.2,1879.18 L313.9,1879.54 L314.6,1879.72 L315.3,1879.81 L316,1879.87 L316.7,1879.94 L317.4,1880.02 L318.1,1880.14 L318.8,1880.29 L319.5,1880.47 L320.2,1880.67 L320.9,1880.88 L321.6,1881.11 L322.3,1881.32 L323,1881.53 L323.7,1881.72 L324.4,1881.89 L325.1,1882.04 L325.8,1882.17 L326.5,1882.27 L327.2,1882.36 L327.9,1882.42 L328.6,1882.47 L329.3,1882.51 L330,1882.54 L330.7,1882.56 L331.4,1882.57 L332.1,1882.58 L332.8,1882.59 L333.5,1882.59 L334.2,1882.6 L334.9,1882.6 L335.6,1882.6 L336.3,1882.6 L337,1882.6 L337.7,1882.6 L338.4,1882.6 L339.1,1882.6 L339.8,1882.6 L340.5,1882.6 L341.2,1882.6 L341.9,1882.6 L342.6,1882.6 L343.3,1882.6 L344,1882.6 L344.7,1882.6 L345.4,1882.6 L346.1,1882.6 L346.8,1882.6 L347.5,1882.6 L348.2,1882.6 L348.9,1882.6 L349.6,1882.6 L350.3,1882.6 L351,1882.6 L351.7,1882.6 L352.4,1882.6 L353.1,1882.6 L353.8,1882.6 L354.5,1882.6 L355.2,1882.6 L355.9,1882.6 L356.6,1882.6 L357.3,1882.6 L358,1882.6 L358.7,1882.6 L359.4,1882.6 L360.1,1882.6 L360.8,1882.6 L361.5,1882.6 L362.2,1882.6 L362.9,1882.6 L363.6,1882.6 L364.3,1882.6 L365,1882.6 L365.7,1882.6 L366.4,1882.6 L367.1,1882.6 L367.8,1882.6 L368.5,1882.6 L369.2,1882.6 L369.9,1882.6 L370.6,1882.6 L371.3,1882.6 L372,1882.6 L372.7,1882.6 L373.4,1882.6 L374.1,1882.6 L374.8,1882.6 L375.5,1882.6 L376.2,1882.6 L376.9,1882.6 L377.6,1882.6 L378.3,1882.6 L379,1882.6 L379.7,1882.6 L380.4,1882.6 L381.1,1882.6 L381.8,1882.6 L382.5,1882.6 L383.2,1882.6 L383.9,1882.6 L384.6,1882.6 L385.3,1882.6 L386,1882.6 L386.7,1882.6 L387.4,1882.6 L388.1,1882.6 L388.8,1882.6 L389.5,1882.6 L390.2,1882.59 L390.9,1882.59 L391.6,1882.58 L392.3,1882.58 L393,1882.56 L393.7,1882.54 L394.4,1882.51 L395.1,1882.47 L395.8,1882.42 L396.5,1882.34 L397.2,1882.24 L397.9,1882.11 L398.6,1881.95 L399.3,1881.76 L400,1881.52 L400.7,1881.25 L401.4,1880.94 L402.1,1880.6 L402.8,1880.23 L403.5,1879.86 L404.2,1879.48 L404.9,1879.13 L405.6,1878.8 L406.3,1878.53 L407,1878.32 L407.7,1878.19 L408.4,1878.15 L409.1,1878.19 L409.8,1878.31 L410.5,1878.52 L411.2,1878.78 L411.9,1879.1 L412.6,1879.46 L413.3,1879.83 L414,1880.21 L414.7,1880.58 L415.4,1880.92 L416.1,1881.23 L416.8,1881.51 L417.5,1881.74 L418.2,1881.94 L418.9,1882.1 L419.6,1882.23 L420.3,1882.34 L421,1882.41 L421.7,1882.47 L422.4,1882.51 L423.1,1882.54 L423.8,1882.56 L424.5,1882.57 L425.2,1882.58 L425.9,1882.59 L426.6,1882.59 L427.3,1882.6 L428,1882.6 L428.7,1882.6 L429.4,1882.6 L430.1,1882.6 L430.8,1882.6 L431.5,1882.6 L432.2,1882.6 L432.9,1882.6 L433.6,1882.6 L434.3,1882.6 L435,1882.6 L435.7,1882.6 L436.4,1882.6 L437.1,1882.6 L437.8,1882.6 L438.5,1882.6 L439.2,1882.6 L439.9,1882.6 L440.6,1882.6 L441.3,1882.6 L442,1882.6 L442.7,1882.6 L443.4,1882.6 L444.1,1882.6 L444.8,1882.6 L445.5,1882.6 L446.2,1882.6 L446.9,1882.6 L447.6,1882.6 L448.3,1882.6 L449,1882.6 L449.7,1882.6 L450.4,1882.6 L451.1,1882.6 L451.8,1882.6 L452.5,1882.6 L453.2,1882.6 L453.9,1882.6 L454.6,1882.6 L455.3,1882.6 L456,1882.6 L456.7,1882.6 L457.4,1882.6 L458.1,1882.6 L458.8,1882.6 L459.5,1882.6 L460.2,1882.6 L460.9,1882.6 L461.6,1882.6 L462.3,1882.6 L463,1882.59 L463.7,1882.59 L464.4,1882.57 L465.1,1882.54 L465.8,1882.49 L466.5,1882.39 L467.2,1882.23 L467.9,1881.96 L468.6,1881.52 L469.3,1880.85 L470,1879.85 L470.7,1878.41 L471.4,1876.43 L472.1,1873.79 L472.8,1870.43 L473.5,1866.32 L474.2,1861.51 L474.9,1856.15 L475.6,1850.47 L476.3,1844.82 L477,1839.58 L477.7,1835.16 L478.4,1831.95 L479.1,1830.23 L479.8,1830.17 L480.5,1831.78 L481.2,1834.9 L481.9,1839.25 L482.6,1844.45 L483.3,1850.09 L484,1855.77 L484.7,1861.17 L485.4,1866.02 L486.1,1870.18 L486.8,1873.59 L487.5,1876.27 L488.2,1878.3 L488.9,1879.77 L489.6,1880.79 L490.3,1881.48 L491,1881.93 L491.7,1882.21 L492.4,1882.37 L493.1,1882.46 L493.8,1882.5 L494.5,1882.49 L495.2,1882.43 L495.9,1882.3 L496.6,1882.08 L497.3,1881.69 L498,1881.08 L498.7,1880.12 L499.4,1878.7 L500.1,1876.64 L500.8,1873.79 L501.5,1869.98 L502.2,1865.11 L502.9,1859.12 L503.6,1852.08 L504.3,1844.18 L505,1835.78 L505.7,1827.35 L506.4,1819.47 L507.1,1812.76 L507.8,1807.77 L508.5,1804.98 L509.2,1804.63 L509.9,1806.76 L510.6,1811.17 L511.3,1817.46 L512,1825.08 L512.7,1833.42 L513.4,1841.88 L514.1,1849.95 L514.8,1857.26 L515.5,1863.55 L516.2,1868.74 L516.9,1872.83 L517.6,1875.93 L518.3,1878.19 L519,1879.78 L519.7,1880.85 L520.4,1881.55 L521.1,1881.99 L521.8,1882.26 L522.5,1882.41 L523.2,1882.5 L523.9,1882.55 L524.6,1882.58 L525.3,1882.59 L526,1882.59 L526.7,1882.6 L527.4,1882.6 L528.1,1882.6 L528.8,1882.6 L529.5,1882.6 L530.2,1882.6 L530.9,1882.6 L531.6,1882.6 L532.3,1882.6 L533,1882.59 L533.7,1882.58 L534.4,1882.55 L535.1,1882.51 L535.8,1882.43 L536.5,1882.27 L537.2,1882.01 L537.9,1881.57 L538.6,1880.85 L539.3,1879.73 L540,1878.03 L540.7,1875.56 L541.4,1872.1 L542.1,1867.44 L542.8,1861.4 L543.5,1853.89 L544.2,1844.95 L544.9,1834.8 L545.6,1823.84 L546.3,1812.65 L547,1801.97 L547.7,1792.61 L548.4,1785.35 L549.1,1780.83 L549.8,1779.48 L550.5,1781.42 L551.2,1786.47 L551.9,1794.17 L552.6,1803.83 L553.3,1814.66 L554,1825.85 L554.7,1836.71 L555.4,1846.66 L556.1,1855.35 L556.8,1862.59 L557.5,1868.38 L558.2,1872.81 L558.9,1876.07 L559.6,1878.39 L560.3,1879.97 L561,1881.01 L561.7,1881.67 L562.4,1882.07 L563.1,1882.31 L563.8,1882.45 L564.5,1882.52 L565.2,1882.56 L565.9,1882.58 L566.6,1882.59 L567.3,1882.6 L568,1882.6 L568.7,1882.6 L569.4,1882.6 L570.1,1882.6 L570.8,1882.6 L571.5,1882.6 L572.2,1882.6 L572.9,1882.6 L573.6,1882.6 L574.3,1882.6 L575,1882.6 L575.7,1882.6 L576.4,1882.6 L577.1,1882.6 L577.8,1882.6 L578.5,1882.6 L579.2,1882.6 L579.9,1882.6 L580.6,1882.6 L581.3,1882.6 L582,1882.6 L582.7,1882.6 L583.4,1882.6 L584.1,1882.6 L584.8,1882.59 L585.5,1882.59 L586.2,1882.58 L586.9,1882.55 L587.6,1882.51 L588.3,1882.43 L589,1882.28 L589.7,1882.04 L590.4,1881.63 L591.1,1880.98 L591.8,1879.99 L592.5,1878.52 L593.2,1876.43 L593.9,1873.57 L594.6,1869.79 L595.3,1865.01 L596,1859.21 L596.7,1852.49 L597.4,1845.06 L598.1,1837.28 L598.8,1829.62 L599.5,1822.63 L600.2,1816.87 L600.9,1812.84 L601.6,1810.91 L602.3,1811.25 L603,1813.84 L603.7,1818.41 L604.4,1824.54 L605.1,1831.67 L605.8,1839.21 L606.5,1846.57 L607.2,1853.23 L607.9,1858.77 L608.6,1862.86 L609.3,1865.29 L610,1865.9 L610.7,1864.62 L611.4,1861.45 L612.1,1856.43 L612.8,1849.74 L613.5,1841.66 L614.2,1832.62 L614.9,1823.18 L615.6,1814 L616.3,1805.82 L617,1799.35 L617.7,1795.16 L618.4,1793.66 L619.1,1795 L619.8,1799.05 L620.5,1805.44 L621.2,1813.58 L621.9,1822.8 L622.6,1832.4 L623.3,1841.72 L624,1850.25 L624.7,1857.59 L625.4,1863.51 L626.1,1867.89 L626.8,1870.71 L627.5,1871.99 L628.2,1871.75 L628.9,1870.05 L629.6,1866.92 L630.3,1862.45 L631,1856.77 L631.7,1850.09 L632.4,1842.75 L633.1,1835.16 L633.8,1827.86 L634.5,1821.41 L635.2,1816.36 L635.9,1813.15 L636.6,1812.09 L637.3,1813.29 L638,1816.62 L638.7,1821.79 L639.4,1828.32 L640.1,1835.69 L640.8,1843.35 L641.5,1850.8 L642.2,1857.65 L642.9,1863.64 L643.6,1868.65 L644.3,1872.67 L645,1875.75 L645.7,1878.02 L646.4,1879.64 L647.1,1880.75 L647.8,1881.48 L648.5,1881.94 L649.2,1882.22" fill="none" stroke="#111111" stroke-width="2.2" stroke-linejoin="round"/>
<line x1="245" y1="1884.5" x2="649.5" y2="1884.5" stroke="#4a6ad8" stroke-width="1.6" stroke-linecap="butt"/>
<path d="M239,2102.7 L239.7,2102.7 L240.4,2102.7 L241.1,2102.7 L241.8,2102.7 L242.5,2102.7 L243.2,2102.7 L243.9,2102.7 L244.6,2102.7 L245.3,2102.7 L246,2102.7 L246.7,2102.7 L247.4,2102.7 L248.1,2102.7 L248.8,2102.7 L249.5,2102.7 L250.2,2102.7 L250.9,2102.69 L251.6,2102.69 L252.3,2102.67 L253,2102.65 L253.7,2102.6 L254.4,2102.51 L255.1,2102.37 L255.8,2102.13 L256.5,2101.76 L257.2,2101.19 L257.9,2100.36 L258.6,2099.18 L259.3,2097.57 L260,2095.48 L260.7,2092.84 L261.4,2089.67 L262.1,2086.03 L262.8,2082.05 L263.5,2077.93 L264.2,2073.93 L264.9,2070.34 L265.6,2067.45 L266.3,2065.53 L267,2064.74 L267.7,2065.17 L268.4,2066.76 L269.1,2069.38 L269.8,2072.79 L270.5,2076.7 L271.2,2080.82 L271.9,2084.87 L272.6,2088.63 L273.3,2091.94 L274,2094.74 L274.7,2097 L275.4,2098.74 L276.1,2100.04 L276.8,2100.97 L277.5,2101.61 L278.2,2102.04 L278.9,2102.31 L279.6,2102.48 L280.3,2102.58 L281,2102.63 L281.7,2102.67 L282.4,2102.68 L283.1,2102.69 L283.8,2102.7 L284.5,2102.7 L285.2,2102.7 L285.9,2102.7 L286.6,2102.7 L287.3,2102.7 L288,2102.7 L288.7,2102.7 L289.4,2102.7 L290.1,2102.7 L290.8,2102.7 L291.5,2102.7 L292.2,2102.7 L292.9,2102.7 L293.6,2102.7 L294.3,2102.7 L295,2102.7 L295.7,2102.7 L296.4,2102.7 L297.1,2102.7 L297.8,2102.7 L298.5,2102.7 L299.2,2102.69 L299.9,2102.69 L300.6,2102.67 L301.3,2102.64 L302,2102.59 L302.7,2102.49 L303.4,2102.31 L304.1,2102.01 L304.8,2101.5 L305.5,2100.7 L306.2,2099.46 L306.9,2097.63 L307.6,2095 L308.3,2091.39 L309,2086.6 L309.7,2080.52 L310.4,2073.11 L311.1,2064.47 L311.8,2054.87 L312.5,2044.77 L313.2,2034.75 L313.9,2025.52 L314.6,2017.82 L315.3,2012.32 L316,2009.51 L316.7,2009.65 L317.4,2012.74 L318.1,2018.49 L318.8,2026.37 L319.5,2035.7 L320.2,2045.75 L320.9,2055.83 L321.6,2065.33 L322.3,2073.83 L323,2081.06 L323.7,2086.91 L324.4,2091.4 L325.1,2094.62 L325.8,2096.7 L326.5,2097.74 L327.2,2097.83 L327.9,2097.02 L328.6,2095.29 L329.3,2092.63 L330,2088.99 L330.7,2084.38 L331.4,2078.86 L332.1,2072.61 L332.8,2065.88 L333.5,2059.07 L334.2,2052.64 L334.9,2047.07 L335.6,2042.84 L336.3,2040.33 L337,2039.78 L337.7,2041.23 L338.4,2044.56 L339.1,2049.44 L339.8,2055.47 L340.5,2062.14 L341.2,2068.97 L341.9,2075.54 L342.6,2081.52 L343.3,2086.71 L344,2091.01 L344.7,2094.43 L345.4,2097.03 L346.1,2098.94 L346.8,2100.28 L347.5,2101.2 L348.2,2101.79 L348.9,2102.17 L349.6,2102.4 L350.3,2102.54 L351,2102.61 L351.7,2102.66 L352.4,2102.68 L353.1,2102.69 L353.8,2102.7 L354.5,2102.7 L355.2,2102.7 L355.9,2102.7 L356.6,2102.7 L357.3,2102.7 L358,2102.7 L358.7,2102.7 L359.4,2102.7 L360.1,2102.7 L360.8,2102.7 L361.5,2102.7 L362.2,2102.7 L362.9,2102.7 L363.6,2102.7 L364.3,2102.7 L365,2102.7 L365.7,2102.7 L366.4,2102.7 L367.1,2102.7 L367.8,2102.7 L368.5,2102.7 L369.2,2102.7 L369.9,2102.7 L370.6,2102.7 L371.3,2102.7 L372,2102.7 L372.7,2102.7 L373.4,2102.7 L374.1,2102.7 L374.8,2102.7 L375.5,2102.7 L376.2,2102.7 L376.9,2102.7 L377.6,2102.7 L378.3,2102.7 L379,2102.7 L379.7,2102.7 L380.4,2102.7 L381.1,2102.7 L381.8,2102.7 L382.5,2102.7 L383.2,2102.7 L383.9,2102.7 L384.6,2102.7 L385.3,2102.7 L386,2102.7 L386.7,2102.7 L387.4,2102.7 L388.1,2102.7 L388.8,2102.7 L389.5,2102.7 L390.2,2102.7 L390.9,2102.7 L391.6,2102.7 L392.3,2102.7 L393,2102.7 L393.7,2102.7 L394.4,2102.7 L395.1,2102.7 L395.8,2102.7 L396.5,2102.7 L397.2,2102.7 L397.9,2102.7 L398.6,2102.7 L399.3,2102.7 L400,2102.7 L400.7,2102.7 L401.4,2102.7 L402.1,2102.7 L402.8,2102.7 L403.5,2102.7 L404.2,2102.7 L404.9,2102.7 L405.6,2102.7 L406.3,2102.7 L407,2102.7 L407.7,2102.7 L408.4,2102.7 L409.1,2102.7 L409.8,2102.7 L410.5,2102.7 L411.2,2102.7 L411.9,2102.7 L412.6,2102.7 L413.3,2102.7 L414,2102.7 L414.7,2102.7 L415.4,2102.7 L416.1,2102.7 L416.8,2102.7 L417.5,2102.7 L418.2,2102.7 L418.9,2102.7 L419.6,2102.7 L420.3,2102.7 L421,2102.7 L421.7,2102.7 L422.4,2102.7 L423.1,2102.7 L423.8,2102.7 L424.5,2102.7 L425.2,2102.7 L425.9,2102.7 L426.6,2102.7 L427.3,2102.7 L428,2102.7 L428.7,2102.7 L429.4,2102.7 L430.1,2102.7 L430.8,2102.7 L431.5,2102.7 L432.2,2102.69 L432.9,2102.69 L433.6,2102.69 L434.3,2102.68 L435,2102.66 L435.7,2102.64 L436.4,2102.62 L437.1,2102.58 L437.8,2102.52 L438.5,2102.45 L439.2,2102.35 L439.9,2102.22 L440.6,2102.07 L441.3,2101.87 L442,2101.64 L442.7,2101.36 L443.4,2101.05 L444.1,2100.71 L444.8,2100.34 L445.5,2099.95 L446.2,2099.57 L446.9,2099.2 L447.6,2098.86 L448.3,2098.58 L449,2098.35 L449.7,2098.21 L450.4,2098.14 L451.1,2098.17 L451.8,2098.28 L452.5,2098.47 L453.2,2098.73 L453.9,2099.03 L454.6,2099.37 L455.3,2099.72 L456,2100.07 L456.7,2100.39 L457.4,2100.67 L458.1,2100.9 L458.8,2101.06 L459.5,2101.16 L460.2,2101.18 L460.9,2101.14 L461.6,2101.03 L462.3,2100.86 L463,2100.64 L463.7,2100.39 L464.4,2100.11 L465.1,2099.84 L465.8,2099.57 L466.5,2099.33 L467.2,2099.14 L467.9,2099.01 L468.6,2098.94 L469.3,2098.94 L470,2099.02 L470.7,2099.16 L471.4,2099.36 L472.1,2099.61 L472.8,2099.9 L473.5,2100.21 L474.2,2100.53 L474.9,2100.85 L475.6,2101.15 L476.3,2101.42 L477,2101.67 L477.7,2101.89 L478.4,2102.07 L479.1,2102.22 L479.8,2102.34 L480.5,2102.44 L481.2,2102.51 L481.9,2102.57 L482.6,2102.61 L483.3,2102.64 L484,2102.66 L484.7,2102.67 L485.4,2102.67 L486.1,2102.67 L486.8,2102.67 L487.5,2102.65 L488.2,2102.63 L488.9,2102.6 L489.6,2102.55 L490.3,2102.48 L491,2102.39 L491.7,2102.28 L492.4,2102.12 L493.1,2101.92 L493.8,2101.68 L494.5,2101.39 L495.2,2101.05 L495.9,2100.65 L496.6,2100.22 L497.3,2099.74 L498,2099.25 L498.7,2098.75 L499.4,2098.26 L500.1,2097.81 L500.8,2097.41 L501.5,2097.09 L502.2,2096.85 L502.9,2096.71 L503.6,2096.68 L504.3,2096.73 L505,2096.87 L505.7,2097.07 L506.4,2097.31 L507.1,2097.57 L507.8,2097.82 L508.5,2098.04 L509.2,2098.22 L509.9,2098.34 L510.6,2098.39 L511.3,2098.39 L512,2098.33 L512.7,2098.25 L513.4,2098.14 L514.1,2098.04 L514.8,2097.96 L515.5,2097.93 L516.2,2097.95 L516.9,2098.04 L517.6,2098.2 L518.3,2098.43 L519,2098.71 L519.7,2099.04 L520.4,2099.39 L521.1,2099.74 L521.8,2100.07 L522.5,2100.33 L523.2,2100.49 L523.9,2100.49 L524.6,2100.26 L525.3,2099.7 L526,2098.71 L526.7,2097.15 L527.4,2094.89 L528.1,2091.8 L528.8,2087.79 L529.5,2082.84 L530.2,2076.99 L530.9,2070.43 L531.6,2063.45 L532.3,2056.45 L533,2049.92 L533.7,2044.37 L534.4,2040.27 L535.1,2038 L535.8,2037.78 L536.5,2039.62 L537.2,2043.35 L537.9,2048.62 L538.6,2055 L539.3,2061.95 L540,2068.99 L540.7,2075.7 L541.4,2081.76 L542.1,2086.98 L542.8,2091.27 L543.5,2094.65 L544.2,2097.21 L544.9,2099.08 L545.6,2100.38 L546.3,2101.27 L547,2101.84 L547.7,2102.2 L548.4,2102.42 L549.1,2102.55 L549.8,2102.62 L550.5,2102.66 L551.2,2102.68 L551.9,2102.69 L552.6,2102.7 L553.3,2102.7 L554,2102.7 L554.7,2102.7 L555.4,2102.7 L556.1,2102.7 L556.8,2102.7 L557.5,2102.69 L558.2,2102.69 L558.9,2102.67 L559.6,2102.64 L560.3,2102.58 L561,2102.48 L561.7,2102.31 L562.4,2102.01 L563.1,2101.53 L563.8,2100.78 L564.5,2099.65 L565.2,2098.01 L565.9,2095.71 L566.6,2092.61 L567.3,2088.61 L568,2083.65 L568.7,2077.75 L569.4,2071.06 L570.1,2063.85 L570.8,2056.5 L571.5,2049.52 L572.2,2043.41 L572.9,2038.71 L573.6,2035.81 L574.3,2035.01 L575,2036.36 L575.7,2039.75 L576.4,2044.86 L577.1,2051.24 L577.8,2058.37 L578.5,2065.72 L579.2,2072.83 L579.9,2079.34 L580.6,2085.01 L581.3,2089.73 L582,2093.49 L582.7,2096.37 L583.4,2098.48 L584.1,2099.98 L584.8,2101 L585.5,2101.67 L586.2,2102.1 L586.9,2102.36 L587.6,2102.51 L588.3,2102.6 L589,2102.65 L589.7,2102.67 L590.4,2102.69 L591.1,2102.69 L591.8,2102.7 L592.5,2102.7 L593.2,2102.7 L593.9,2102.7 L594.6,2102.7 L595.3,2102.7 L596,2102.7 L596.7,2102.7 L597.4,2102.7 L598.1,2102.7 L598.8,2102.7 L599.5,2102.7 L600.2,2102.7 L600.9,2102.7 L601.6,2102.7 L602.3,2102.7 L603,2102.7 L603.7,2102.7 L604.4,2102.7 L605.1,2102.7 L605.8,2102.7 L606.5,2102.7 L607.2,2102.7 L607.9,2102.7 L608.6,2102.7 L609.3,2102.7 L610,2102.7 L610.7,2102.7 L611.4,2102.7 L612.1,2102.7 L612.8,2102.7 L613.5,2102.7 L614.2,2102.7 L614.9,2102.7 L615.6,2102.7 L616.3,2102.7 L617,2102.7 L617.7,2102.7 L618.4,2102.7 L619.1,2102.7 L619.8,2102.7 L620.5,2102.7 L621.2,2102.7 L621.9,2102.7 L622.6,2102.7 L623.3,2102.7 L624,2102.7 L624.7,2102.7 L625.4,2102.7 L626.1,2102.7 L626.8,2102.7 L627.5,2102.7 L628.2,2102.7 L628.9,2102.7 L629.6,2102.7 L630.3,2102.7 L631,2102.7 L631.7,2102.7 L632.4,2102.7 L633.1,2102.7 L633.8,2102.7 L634.5,2102.7 L635.2,2102.7 L635.9,2102.7 L636.6,2102.7 L637.3,2102.7 L638,2102.7 L638.7,2102.7 L639.4,2102.7 L640.1,2102.7 L640.8,2102.7 L641.5,2102.7 L642.2,2102.7 L642.9,2102.7 L643.6,2102.7 L644.3,2102.7 L645,2102.7 L645.7,2102.7 L646.4,2102.7 L647.1,2102.7 L647.8,2102.7 L648.5,2102.7 L649.2,2102.7 L649.9,2102.7 L650.6,2102.7 L651,2103.5 L239,2103.5 Z" fill="#e6f6e4" fill-opacity="0.85" stroke="none"/>
<path d="M239,2102.7 L239.7,2102.7 L240.4,2102.7 L241.1,2102.7 L241.8,2102.7 L242.5,2102.7 L243.2,2102.7 L243.9,2102.7 L244.6,2102.7 L245.3,2102.7 L246,2102.7 L246.7,2102.7 L247.4,2102.7 L248.1,2102.7 L248.8,2102.7 L249.5,2102.7 L250.2,2102.7 L250.9,2102.69 L251.6,2102.69 L252.3,2102.67 L253,2102.65 L253.7,2102.6 L254.4,2102.51 L255.1,2102.37 L255.8,2102.13 L256.5,2101.76 L257.2,2101.19 L257.9,2100.36 L258.6,2099.18 L259.3,2097.57 L260,2095.48 L260.7,2092.84 L261.4,2089.67 L262.1,2086.03 L262.8,2082.05 L263.5,2077.93 L264.2,2073.93 L264.9,2070.34 L265.6,2067.45 L266.3,2065.53 L267,2064.74 L267.7,2065.17 L268.4,2066.76 L269.1,2069.38 L269.8,2072.79 L270.5,2076.7 L271.2,2080.82 L271.9,2084.87 L272.6,2088.63 L273.3,2091.94 L274,2094.74 L274.7,2097 L275.4,2098.74 L276.1,2100.04 L276.8,2100.97 L277.5,2101.61 L278.2,2102.04 L278.9,2102.31 L279.6,2102.48 L280.3,2102.58 L281,2102.63 L281.7,2102.67 L282.4,2102.68 L283.1,2102.69 L283.8,2102.7 L284.5,2102.7 L285.2,2102.7 L285.9,2102.7 L286.6,2102.7 L287.3,2102.7 L288,2102.7 L288.7,2102.7 L289.4,2102.7 L290.1,2102.7 L290.8,2102.7 L291.5,2102.7 L292.2,2102.7 L292.9,2102.7 L293.6,2102.7 L294.3,2102.7 L295,2102.7 L295.7,2102.7 L296.4,2102.7 L297.1,2102.7 L297.8,2102.7 L298.5,2102.7 L299.2,2102.69 L299.9,2102.69 L300.6,2102.67 L301.3,2102.64 L302,2102.59 L302.7,2102.49 L303.4,2102.31 L304.1,2102.01 L304.8,2101.5 L305.5,2100.7 L306.2,2099.46 L306.9,2097.63 L307.6,2095 L308.3,2091.39 L309,2086.6 L309.7,2080.52 L310.4,2073.11 L311.1,2064.47 L311.8,2054.87 L312.5,2044.77 L313.2,2034.75 L313.9,2025.52 L314.6,2017.82 L315.3,2012.32 L316,2009.51 L316.7,2009.65 L317.4,2012.74 L318.1,2018.49 L318.8,2026.37 L319.5,2035.7 L320.2,2045.75 L320.9,2055.83 L321.6,2065.33 L322.3,2073.83 L323,2081.06 L323.7,2086.91 L324.4,2091.4 L325.1,2094.62 L325.8,2096.7 L326.5,2097.74 L327.2,2097.83 L327.9,2097.02 L328.6,2095.29 L329.3,2092.63 L330,2088.99 L330.7,2084.38 L331.4,2078.86 L332.1,2072.61 L332.8,2065.88 L333.5,2059.07 L334.2,2052.64 L334.9,2047.07 L335.6,2042.84 L336.3,2040.33 L337,2039.78 L337.7,2041.23 L338.4,2044.56 L339.1,2049.44 L339.8,2055.47 L340.5,2062.14 L341.2,2068.97 L341.9,2075.54 L342.6,2081.52 L343.3,2086.71 L344,2091.01 L344.7,2094.43 L345.4,2097.03 L346.1,2098.94 L346.8,2100.28 L347.5,2101.2 L348.2,2101.79 L348.9,2102.17 L349.6,2102.4 L350.3,2102.54 L351,2102.61 L351.7,2102.66 L352.4,2102.68 L353.1,2102.69 L353.8,2102.7 L354.5,2102.7 L355.2,2102.7 L355.9,2102.7 L356.6,2102.7 L357.3,2102.7 L358,2102.7 L358.7,2102.7 L359.4,2102.7 L360.1,2102.7 L360.8,2102.7 L361.5,2102.7 L362.2,2102.7 L362.9,2102.7 L363.6,2102.7 L364.3,2102.7 L365,2102.7 L365.7,2102.7 L366.4,2102.7 L367.1,2102.7 L367.8,2102.7 L368.5,2102.7 L369.2,2102.7 L369.9,2102.7 L370.6,2102.7 L371.3,2102.7 L372,2102.7 L372.7,2102.7 L373.4,2102.7 L374.1,2102.7 L374.8,2102.7 L375.5,2102.7 L376.2,2102.7 L376.9,2102.7 L377.6,2102.7 L378.3,2102.7 L379,2102.7 L379.7,2102.7 L380.4,2102.7 L381.1,2102.7 L381.8,2102.7 L382.5,2102.7 L383.2,2102.7 L383.9,2102.7 L384.6,2102.7 L385.3,2102.7 L386,2102.7 L386.7,2102.7 L387.4,2102.7 L388.1,2102.7 L388.8,2102.7 L389.5,2102.7 L390.2,2102.7 L390.9,2102.7 L391.6,2102.7 L392.3,2102.7 L393,2102.7 L393.7,2102.7 L394.4,2102.7 L395.1,2102.7 L395.8,2102.7 L396.5,2102.7 L397.2,2102.7 L397.9,2102.7 L398.6,2102.7 L399.3,2102.7 L400,2102.7 L400.7,2102.7 L401.4,2102.7 L402.1,2102.7 L402.8,2102.7 L403.5,2102.7 L404.2,2102.7 L404.9,2102.7 L405.6,2102.7 L406.3,2102.7 L407,2102.7 L407.7,2102.7 L408.4,2102.7 L409.1,2102.7 L409.8,2102.7 L410.5,2102.7 L411.2,2102.7 L411.9,2102.7 L412.6,2102.7 L413.3,2102.7 L414,2102.7 L414.7,2102.7 L415.4,2102.7 L416.1,2102.7 L416.8,2102.7 L417.5,2102.7 L418.2,2102.7 L418.9,2102.7 L419.6,2102.7 L420.3,2102.7 L421,2102.7 L421.7,2102.7 L422.4,2102.7 L423.1,2102.7 L423.8,2102.7 L424.5,2102.7 L425.2,2102.7 L425.9,2102.7 L426.6,2102.7 L427.3,2102.7 L428,2102.7 L428.7,2102.7 L429.4,2102.7 L430.1,2102.7 L430.8,2102.7 L431.5,2102.7 L432.2,2102.69 L432.9,2102.69 L433.6,2102.69 L434.3,2102.68 L435,2102.66 L435.7,2102.64 L436.4,2102.62 L437.1,2102.58 L437.8,2102.52 L438.5,2102.45 L439.2,2102.35 L439.9,2102.22 L440.6,2102.07 L441.3,2101.87 L442,2101.64 L442.7,2101.36 L443.4,2101.05 L444.1,2100.71 L444.8,2100.34 L445.5,2099.95 L446.2,2099.57 L446.9,2099.2 L447.6,2098.86 L448.3,2098.58 L449,2098.35 L449.7,2098.21 L450.4,2098.14 L451.1,2098.17 L451.8,2098.28 L452.5,2098.47 L453.2,2098.73 L453.9,2099.03 L454.6,2099.37 L455.3,2099.72 L456,2100.07 L456.7,2100.39 L457.4,2100.67 L458.1,2100.9 L458.8,2101.06 L459.5,2101.16 L460.2,2101.18 L460.9,2101.14 L461.6,2101.03 L462.3,2100.86 L463,2100.64 L463.7,2100.39 L464.4,2100.11 L465.1,2099.84 L465.8,2099.57 L466.5,2099.33 L467.2,2099.14 L467.9,2099.01 L468.6,2098.94 L469.3,2098.94 L470,2099.02 L470.7,2099.16 L471.4,2099.36 L472.1,2099.61 L472.8,2099.9 L473.5,2100.21 L474.2,2100.53 L474.9,2100.85 L475.6,2101.15 L476.3,2101.42 L477,2101.67 L477.7,2101.89 L478.4,2102.07 L479.1,2102.22 L479.8,2102.34 L480.5,2102.44 L481.2,2102.51 L481.9,2102.57 L482.6,2102.61 L483.3,2102.64 L484,2102.66 L484.7,2102.67 L485.4,2102.67 L486.1,2102.67 L486.8,2102.67 L487.5,2102.65 L488.2,2102.63 L488.9,2102.6 L489.6,2102.55 L490.3,2102.48 L491,2102.39 L491.7,2102.28 L492.4,2102.12 L493.1,2101.92 L493.8,2101.68 L494.5,2101.39 L495.2,2101.05 L495.9,2100.65 L496.6,2100.22 L497.3,2099.74 L498,2099.25 L498.7,2098.75 L499.4,2098.26 L500.1,2097.81 L500.8,2097.41 L501.5,2097.09 L502.2,2096.85 L502.9,2096.71 L503.6,2096.68 L504.3,2096.73 L505,2096.87 L505.7,2097.07 L506.4,2097.31 L507.1,2097.57 L507.8,2097.82 L508.5,2098.04 L509.2,2098.22 L509.9,2098.34 L510.6,2098.39 L511.3,2098.39 L512,2098.33 L512.7,2098.25 L513.4,2098.14 L514.1,2098.04 L514.8,2097.96 L515.5,2097.93 L516.2,2097.95 L516.9,2098.04 L517.6,2098.2 L518.3,2098.43 L519,2098.71 L519.7,2099.04 L520.4,2099.39 L521.1,2099.74 L521.8,2100.07 L522.5,2100.33 L523.2,2100.49 L523.9,2100.49 L524.6,2100.26 L525.3,2099.7 L526,2098.71 L526.7,2097.15 L527.4,2094.89 L528.1,2091.8 L528.8,2087.79 L529.5,2082.84 L530.2,2076.99 L530.9,2070.43 L531.6,2063.45 L532.3,2056.45 L533,2049.92 L533.7,2044.37 L534.4,2040.27 L535.1,2038 L535.8,2037.78 L536.5,2039.62 L537.2,2043.35 L537.9,2048.62 L538.6,2055 L539.3,2061.95 L540,2068.99 L540.7,2075.7 L541.4,2081.76 L542.1,2086.98 L542.8,2091.27 L543.5,2094.65 L544.2,2097.21 L544.9,2099.08 L545.6,2100.38 L546.3,2101.27 L547,2101.84 L547.7,2102.2 L548.4,2102.42 L549.1,2102.55 L549.8,2102.62 L550.5,2102.66 L551.2,2102.68 L551.9,2102.69 L552.6,2102.7 L553.3,2102.7 L554,2102.7 L554.7,2102.7 L555.4,2102.7 L556.1,2102.7 L556.8,2102.7 L557.5,2102.69 L558.2,2102.69 L558.9,2102.67 L559.6,2102.64 L560.3,2102.58 L561,2102.48 L561.7,2102.31 L562.4,2102.01 L563.1,2101.53 L563.8,2100.78 L564.5,2099.65 L565.2,2098.01 L565.9,2095.71 L566.6,2092.61 L567.3,2088.61 L568,2083.65 L568.7,2077.75 L569.4,2071.06 L570.1,2063.85 L570.8,2056.5 L571.5,2049.52 L572.2,2043.41 L572.9,2038.71 L573.6,2035.81 L574.3,2035.01 L575,2036.36 L575.7,2039.75 L576.4,2044.86 L577.1,2051.24 L577.8,2058.37 L578.5,2065.72 L579.2,2072.83 L579.9,2079.34 L580.6,2085.01 L581.3,2089.73 L582,2093.49 L582.7,2096.37 L583.4,2098.48 L584.1,2099.98 L584.8,2101 L585.5,2101.67 L586.2,2102.1 L586.9,2102.36 L587.6,2102.51 L588.3,2102.6 L589,2102.65 L589.7,2102.67 L590.4,2102.69 L591.1,2102.69 L591.8,2102.7 L592.5,2102.7 L593.2,2102.7 L593.9,2102.7 L594.6,2102.7 L595.3,2102.7 L596,2102.7 L596.7,2102.7 L597.4,2102.7 L598.1,2102.7 L598.8,2102.7 L599.5,2102.7 L600.2,2102.7 L600.9,2102.7 L601.6,2102.7 L602.3,2102.7 L603,2102.7 L603.7,2102.7 L604.4,2102.7 L605.1,2102.7 L605.8,2102.7 L606.5,2102.7 L607.2,2102.7 L607.9,2102.7 L608.6,2102.7 L609.3,2102.7 L610,2102.7 L610.7,2102.7 L611.4,2102.7 L612.1,2102.7 L612.8,2102.7 L613.5,2102.7 L614.2,2102.7 L614.9,2102.7 L615.6,2102.7 L616.3,2102.7 L617,2102.7 L617.7,2102.7 L618.4,2102.7 L619.1,2102.7 L619.8,2102.7 L620.5,2102.7 L621.2,2102.7 L621.9,2102.7 L622.6,2102.7 L623.3,2102.7 L624,2102.7 L624.7,2102.7 L625.4,2102.7 L626.1,2102.7 L626.8,2102.7 L627.5,2102.7 L628.2,2102.7 L628.9,2102.7 L629.6,2102.7 L630.3,2102.7 L631,2102.7 L631.7,2102.7 L632.4,2102.7 L633.1,2102.7 L633.8,2102.7 L634.5,2102.7 L635.2,2102.7 L635.9,2102.7 L636.6,2102.7 L637.3,2102.7 L638,2102.7 L638.7,2102.7 L639.4,2102.7 L640.1,2102.7 L640.8,2102.7 L641.5,2102.7 L642.2,2102.7 L642.9,2102.7 L643.6,2102.7 L644.3,2102.7 L645,2102.7 L645.7,2102.7 L646.4,2102.7 L647.1,2102.7 L647.8,2102.7 L648.5,2102.7 L649.2,2102.7 L649.9,2102.7 L650.6,2102.7" fill="none" stroke="#3fcf3a" stroke-width="2.2" stroke-linejoin="round"/>
<path d="M239,2102.7 L239.7,2102.7 L240.4,2102.7 L241.1,2102.7 L241.8,2102.7 L242.5,2102.7 L243.2,2102.7 L243.9,2102.7 L244.6,2102.7 L245.3,2102.7 L246,2102.7 L246.7,2102.7 L247.4,2102.7 L248.1,2102.7 L248.8,2102.7 L249.5,2102.7 L250.2,2102.7 L250.9,2102.7 L251.6,2102.7 L252.3,2102.7 L253,2102.7 L253.7,2102.7 L254.4,2102.7 L255.1,2102.7 L255.8,2102.7 L256.5,2102.7 L257.2,2102.7 L257.9,2102.7 L258.6,2102.7 L259.3,2102.7 L260,2102.7 L260.7,2102.7 L261.4,2102.7 L262.1,2102.7 L262.8,2102.7 L263.5,2102.7 L264.2,2102.7 L264.9,2102.7 L265.6,2102.7 L266.3,2102.7 L267,2102.7 L267.7,2102.7 L268.4,2102.7 L269.1,2102.7 L269.8,2102.7 L270.5,2102.7 L271.2,2102.7 L271.9,2102.7 L272.6,2102.7 L273.3,2102.7 L274,2102.7 L274.7,2102.7 L275.4,2102.7 L276.1,2102.7 L276.8,2102.7 L277.5,2102.7 L278.2,2102.7 L278.9,2102.7 L279.6,2102.7 L280.3,2102.7 L281,2102.7 L281.7,2102.7 L282.4,2102.7 L283.1,2102.7 L283.8,2102.7 L284.5,2102.7 L285.2,2102.7 L285.9,2102.7 L286.6,2102.7 L287.3,2102.7 L288,2102.7 L288.7,2102.7 L289.4,2102.7 L290.1,2102.7 L290.8,2102.7 L291.5,2102.7 L292.2,2102.7 L292.9,2102.7 L293.6,2102.7 L294.3,2102.7 L295,2102.7 L295.7,2102.7 L296.4,2102.7 L297.1,2102.7 L297.8,2102.7 L298.5,2102.7 L299.2,2102.7 L299.9,2102.7 L300.6,2102.7 L301.3,2102.7 L302,2102.7 L302.7,2102.7 L303.4,2102.7 L304.1,2102.7 L304.8,2102.7 L305.5,2102.7 L306.2,2102.7 L306.9,2102.7 L307.6,2102.7 L308.3,2102.7 L309,2102.7 L309.7,2102.7 L310.4,2102.7 L311.1,2102.7 L311.8,2102.7 L312.5,2102.7 L313.2,2102.7 L313.9,2102.7 L314.6,2102.7 L315.3,2102.7 L316,2102.7 L316.7,2102.7 L317.4,2102.7 L318.1,2102.7 L318.8,2102.7 L319.5,2102.7 L320.2,2102.7 L320.9,2102.7 L321.6,2102.7 L322.3,2102.7 L323,2102.7 L323.7,2102.7 L324.4,2102.7 L325.1,2102.7 L325.8,2102.7 L326.5,2102.7 L327.2,2102.7 L327.9,2102.7 L328.6,2102.7 L329.3,2102.7 L330,2102.7 L330.7,2102.7 L331.4,2102.7 L332.1,2102.7 L332.8,2102.7 L333.5,2102.7 L334.2,2102.7 L334.9,2102.7 L335.6,2102.7 L336.3,2102.7 L337,2102.7 L337.7,2102.7 L338.4,2102.7 L339.1,2102.7 L339.8,2102.7 L340.5,2102.7 L341.2,2102.7 L341.9,2102.7 L342.6,2102.7 L343.3,2102.7 L344,2102.7 L344.7,2102.7 L345.4,2102.7 L346.1,2102.7 L346.8,2102.7 L347.5,2102.7 L348.2,2102.7 L348.9,2102.7 L349.6,2102.7 L350.3,2102.7 L351,2102.7 L351.7,2102.7 L352.4,2102.7 L353.1,2102.7 L353.8,2102.7 L354.5,2102.7 L355.2,2102.7 L355.9,2102.7 L356.6,2102.7 L357.3,2102.7 L358,2102.7 L358.7,2102.7 L359.4,2102.7 L360.1,2102.7 L360.8,2102.7 L361.5,2102.7 L362.2,2102.7 L362.9,2102.7 L363.6,2102.7 L364.3,2102.7 L365,2102.7 L365.7,2102.7 L366.4,2102.7 L367.1,2102.7 L367.8,2102.7 L368.5,2102.7 L369.2,2102.7 L369.9,2102.7 L370.6,2102.7 L371.3,2102.7 L372,2102.7 L372.7,2102.7 L373.4,2102.7 L374.1,2102.7 L374.8,2102.7 L375.5,2102.7 L376.2,2102.7 L376.9,2102.7 L377.6,2102.7 L378.3,2102.7 L379,2102.7 L379.7,2102.7 L380.4,2102.7 L381.1,2102.7 L381.8,2102.7 L382.5,2102.7 L383.2,2102.7 L383.9,2102.7 L384.6,2102.7 L385.3,2102.7 L386,2102.7 L386.7,2102.7 L387.4,2102.7 L388.1,2102.7 L388.8,2102.7 L389.5,2102.7 L390.2,2102.7 L390.9,2102.7 L391.6,2102.7 L392.3,2102.7 L393,2102.7 L393.7,2102.7 L394.4,2102.7 L395.1,2102.7 L395.8,2102.7 L396.5,2102.7 L397.2,2102.7 L397.9,2102.7 L398.6,2102.7 L399.3,2102.7 L400,2102.7 L400.7,2102.7 L401.4,2102.7 L402.1,2102.7 L402.8,2102.7 L403.5,2102.7 L404.2,2102.7 L404.9,2102.7 L405.6,2102.7 L406.3,2102.7 L407,2102.7 L407.7,2102.7 L408.4,2102.7 L409.1,2102.7 L409.8,2102.7 L410.5,2102.7 L411.2,2102.7 L411.9,2102.7 L412.6,2102.7 L413.3,2102.7 L414,2102.7 L414.7,2102.7 L415.4,2102.7 L416.1,2102.7 L416.8,2102.7 L417.5,2102.7 L418.2,2102.7 L418.9,2102.7 L419.6,2102.7 L420.3,2102.7 L421,2102.7 L421.7,2102.7 L422.4,2102.7 L423.1,2102.7 L423.8,2102.7 L424.5,2102.7 L425.2,2102.7 L425.9,2102.7 L426.6,2102.7 L427.3,2102.7 L428,2102.7 L428.7,2102.7 L429.4,2102.7 L430.1,2102.7 L430.8,2102.7 L431.5,2102.7 L432.2,2102.7 L432.9,2102.7 L433.6,2102.7 L434.3,2102.7 L435,2102.7 L435.7,2102.7 L436.4,2102.7 L437.1,2102.7 L437.8,2102.7 L438.5,2102.7 L439.2,2102.7 L439.9,2102.7 L440.6,2102.7 L441.3,2102.7 L442,2102.7 L442.7,2102.7 L443.4,2102.7 L444.1,2102.7 L444.8,2102.7 L445.5,2102.7 L446.2,2102.7 L446.9,2102.7 L447.6,2102.7 L448.3,2102.7 L449,2102.7 L449.7,2102.7 L450.4,2102.7 L451.1,2102.7 L451.8,2102.7 L452.5,2102.7 L453.2,2102.7 L453.9,2102.7 L454.6,2102.7 L455.3,2102.7 L456,2102.7 L456.7,2102.7 L457.4,2102.7 L458.1,2102.7 L458.8,2102.7 L459.5,2102.7 L460.2,2102.7 L460.9,2102.7 L461.6,2102.7 L462.3,2102.7 L463,2102.7 L463.7,2102.7 L464.4,2102.7 L465.1,2102.7 L465.8,2102.7 L466.5,2102.7 L467.2,2102.7 L467.9,2102.7 L468.6,2102.7 L469.3,2102.7 L470,2102.7 L470.7,2102.7 L471.4,2102.7 L472.1,2102.7 L472.8,2102.7 L473.5,2102.7 L474.2,2102.7 L474.9,2102.7 L475.6,2102.7 L476.3,2102.7 L477,2102.7 L477.7,2102.7 L478.4,2102.7 L479.1,2102.7 L479.8,2102.7 L480.5,2102.7 L481.2,2102.7 L481.9,2102.7 L482.6,2102.7 L483.3,2102.7 L484,2102.7 L484.7,2102.7 L485.4,2102.7 L486.1,2102.7 L486.8,2102.7 L487.5,2102.7 L488.2,2102.7 L488.9,2102.7 L489.6,2102.7 L490.3,2102.7 L491,2102.7 L491.7,2102.7 L492.4,2102.7 L493.1,2102.7 L493.8,2102.7 L494.5,2102.7 L495.2,2102.7 L495.9,2102.7 L496.6,2102.7 L497.3,2102.7 L498,2102.7 L498.7,2102.7 L499.4,2102.7 L500.1,2102.7 L500.8,2102.7 L501.5,2102.7 L502.2,2102.7 L502.9,2102.7 L503.6,2102.7 L504.3,2102.7 L505,2102.7 L505.7,2102.7 L506.4,2102.7 L507.1,2102.7 L507.8,2102.7 L508.5,2102.7 L509.2,2102.7 L509.9,2102.7 L510.6,2102.7 L511.3,2102.7 L512,2102.7 L512.7,2102.7 L513.4,2102.7 L514.1,2102.7 L514.8,2102.7 L515.5,2102.7 L516.2,2102.7 L516.9,2102.7 L517.6,2102.7 L518.3,2102.7 L519,2102.7 L519.7,2102.7 L520.4,2102.7 L521.1,2102.7 L521.8,2102.7 L522.5,2102.7 L523.2,2102.7 L523.9,2102.7 L524.6,2102.7 L525.3,2102.7 L526,2102.7 L526.7,2102.7 L527.4,2102.7 L528.1,2102.7 L528.8,2102.7 L529.5,2102.7 L530.2,2102.7 L530.9,2102.7 L531.6,2102.7 L532.3,2102.7 L533,2102.7 L533.7,2102.7 L534.4,2102.7 L535.1,2102.7 L535.8,2102.7 L536.5,2102.7 L537.2,2102.7 L537.9,2102.7 L538.6,2102.7 L539.3,2102.7 L540,2102.7 L540.7,2102.7 L541.4,2102.7 L542.1,2102.7 L542.8,2102.7 L543.5,2102.7 L544.2,2102.7 L544.9,2102.7 L545.6,2102.7 L546.3,2102.7 L547,2102.7 L547.7,2102.7 L548.4,2102.7 L549.1,2102.7 L549.8,2102.7 L550.5,2102.7 L551.2,2102.7 L551.9,2102.7 L552.6,2102.7 L553.3,2102.7 L554,2102.7 L554.7,2102.7 L555.4,2102.7 L556.1,2102.7 L556.8,2102.7 L557.5,2102.7 L558.2,2102.7 L558.9,2102.7 L559.6,2102.7 L560.3,2102.7 L561,2102.7 L561.7,2102.7 L562.4,2102.7 L563.1,2102.7 L563.8,2102.7 L564.5,2102.7 L565.2,2102.7 L565.9,2102.7 L566.6,2102.7 L567.3,2102.7 L568,2102.7 L568.7,2102.7 L569.4,2102.7 L570.1,2102.7 L570.8,2102.7 L571.5,2102.7 L572.2,2102.7 L572.9,2102.7 L573.6,2102.7 L574.3,2102.7 L575,2102.7 L575.7,2102.7 L576.4,2102.7 L577.1,2102.7 L577.8,2102.7 L578.5,2102.7 L579.2,2102.7 L579.9,2102.7 L580.6,2102.7 L581.3,2102.7 L582,2102.7 L582.7,2102.7 L583.4,2102.7 L584.1,2102.7 L584.8,2102.7 L585.5,2102.7 L586.2,2102.7 L586.9,2102.7 L587.6,2102.7 L588.3,2102.7 L589,2102.7 L589.7,2102.7 L590.4,2102.7 L591.1,2102.7 L591.8,2102.7 L592.5,2102.7 L593.2,2102.7 L593.9,2102.7 L594.6,2102.7 L595.3,2102.7 L596,2102.7 L596.7,2102.7 L597.4,2102.7 L598.1,2102.7 L598.8,2102.7 L599.5,2102.7 L600.2,2102.7 L600.9,2102.7 L601.6,2102.7 L602.3,2102.7 L603,2102.7 L603.7,2102.7 L604.4,2102.7 L605.1,2102.7 L605.8,2102.7 L606.5,2102.7 L607.2,2102.7 L607.9,2102.7 L608.6,2102.7 L609.3,2102.7 L610,2102.7 L610.7,2102.7 L611.4,2102.7 L612.1,2102.7 L612.8,2102.7 L613.5,2102.7 L614.2,2102.7 L614.9,2102.7 L615.6,2102.7 L616.3,2102.7 L617,2102.7 L617.7,2102.7 L618.4,2102.7 L619.1,2102.7 L619.8,2102.7 L620.5,2102.7 L621.2,2102.7 L621.9,2102.7 L622.6,2102.7 L623.3,2102.7 L624,2102.7 L624.7,2102.7 L625.4,2102.7 L626.1,2102.7 L626.8,2102.7 L627.5,2102.7 L628.2,2102.7 L628.9,2102.7 L629.6,2102.7 L630.3,2102.7 L631,2102.7 L631.7,2102.7 L632.4,2102.7 L633.1,2102.7 L633.8,2102.7 L634.5,2102.7 L635.2,2102.7 L635.9,2102.7 L636.6,2102.69 L637.3,2102.69 L638,2102.67 L638.7,2102.65 L639.4,2102.62 L640.1,2102.55 L640.8,2102.45 L641.5,2102.29 L642.2,2102.05 L642.9,2101.71 L643.6,2101.22 L644.3,2100.58 L645,2099.75 L645.7,2098.72 L646.4,2097.5 L647.1,2096.13 L647.8,2094.66 L648.5,2093.17 L649.2,2091.76 L649.9,2090.54 L650.6,2089.62 L651,2103.5 L239,2103.5 Z" fill="#dfe5f7" fill-opacity="0.85" stroke="none"/>
<path d="M239,2102.7 L239.7,2102.7 L240.4,2102.7 L241.1,2102.7 L241.8,2102.7 L242.5,2102.7 L243.2,2102.7 L243.9,2102.7 L244.6,2102.7 L245.3,2102.7 L246,2102.7 L246.7,2102.7 L247.4,2102.7 L248.1,2102.7 L248.8,2102.7 L249.5,2102.7 L250.2,2102.7 L250.9,2102.7 L251.6,2102.7 L252.3,2102.7 L253,2102.7 L253.7,2102.7 L254.4,2102.7 L255.1,2102.7 L255.8,2102.7 L256.5,2102.7 L257.2,2102.7 L257.9,2102.7 L258.6,2102.7 L259.3,2102.7 L260,2102.7 L260.7,2102.7 L261.4,2102.7 L262.1,2102.7 L262.8,2102.7 L263.5,2102.7 L264.2,2102.7 L264.9,2102.7 L265.6,2102.7 L266.3,2102.7 L267,2102.7 L267.7,2102.7 L268.4,2102.7 L269.1,2102.7 L269.8,2102.7 L270.5,2102.7 L271.2,2102.7 L271.9,2102.7 L272.6,2102.7 L273.3,2102.7 L274,2102.7 L274.7,2102.7 L275.4,2102.7 L276.1,2102.7 L276.8,2102.7 L277.5,2102.7 L278.2,2102.7 L278.9,2102.7 L279.6,2102.7 L280.3,2102.7 L281,2102.7 L281.7,2102.7 L282.4,2102.7 L283.1,2102.7 L283.8,2102.7 L284.5,2102.7 L285.2,2102.7 L285.9,2102.7 L286.6,2102.7 L287.3,2102.7 L288,2102.7 L288.7,2102.7 L289.4,2102.7 L290.1,2102.7 L290.8,2102.7 L291.5,2102.7 L292.2,2102.7 L292.9,2102.7 L293.6,2102.7 L294.3,2102.7 L295,2102.7 L295.7,2102.7 L296.4,2102.7 L297.1,2102.7 L297.8,2102.7 L298.5,2102.7 L299.2,2102.7 L299.9,2102.7 L300.6,2102.7 L301.3,2102.7 L302,2102.7 L302.7,2102.7 L303.4,2102.7 L304.1,2102.7 L304.8,2102.7 L305.5,2102.7 L306.2,2102.7 L306.9,2102.7 L307.6,2102.7 L308.3,2102.7 L309,2102.7 L309.7,2102.7 L310.4,2102.7 L311.1,2102.7 L311.8,2102.7 L312.5,2102.7 L313.2,2102.7 L313.9,2102.7 L314.6,2102.7 L315.3,2102.7 L316,2102.7 L316.7,2102.7 L317.4,2102.7 L318.1,2102.7 L318.8,2102.7 L319.5,2102.7 L320.2,2102.7 L320.9,2102.7 L321.6,2102.7 L322.3,2102.7 L323,2102.7 L323.7,2102.7 L324.4,2102.7 L325.1,2102.7 L325.8,2102.7 L326.5,2102.7 L327.2,2102.7 L327.9,2102.7 L328.6,2102.7 L329.3,2102.7 L330,2102.7 L330.7,2102.7 L331.4,2102.7 L332.1,2102.7 L332.8,2102.7 L333.5,2102.7 L334.2,2102.7 L334.9,2102.7 L335.6,2102.7 L336.3,2102.7 L337,2102.7 L337.7,2102.7 L338.4,2102.7 L339.1,2102.7 L339.8,2102.7 L340.5,2102.7 L341.2,2102.7 L341.9,2102.7 L342.6,2102.7 L343.3,2102.7 L344,2102.7 L344.7,2102.7 L345.4,2102.7 L346.1,2102.7 L346.8,2102.7 L347.5,2102.7 L348.2,2102.7 L348.9,2102.7 L349.6,2102.7 L350.3,2102.7 L351,2102.7 L351.7,2102.7 L352.4,2102.7 L353.1,2102.7 L353.8,2102.7 L354.5,2102.7 L355.2,2102.7 L355.9,2102.7 L356.6,2102.7 L357.3,2102.7 L358,2102.7 L358.7,2102.7 L359.4,2102.7 L360.1,2102.7 L360.8,2102.7 L361.5,2102.7 L362.2,2102.7 L362.9,2102.7 L363.6,2102.7 L364.3,2102.7 L365,2102.7 L365.7,2102.7 L366.4,2102.7 L367.1,2102.7 L367.8,2102.7 L368.5,2102.7 L369.2,2102.7 L369.9,2102.7 L370.6,2102.7 L371.3,2102.7 L372,2102.7 L372.7,2102.7 L373.4,2102.7 L374.1,2102.7 L374.8,2102.7 L375.5,2102.7 L376.2,2102.7 L376.9,2102.7 L377.6,2102.7 L378.3,2102.7 L379,2102.7 L379.7,2102.7 L380.4,2102.7 L381.1,2102.7 L381.8,2102.7 L382.5,2102.7 L383.2,2102.7 L383.9,2102.7 L384.6,2102.7 L385.3,2102.7 L386,2102.7 L386.7,2102.7 L387.4,2102.7 L388.1,2102.7 L388.8,2102.7 L389.5,2102.7 L390.2,2102.7 L390.9,2102.7 L391.6,2102.7 L392.3,2102.7 L393,2102.7 L393.7,2102.7 L394.4,2102.7 L395.1,2102.7 L395.8,2102.7 L396.5,2102.7 L397.2,2102.7 L397.9,2102.7 L398.6,2102.7 L399.3,2102.7 L400,2102.7 L400.7,2102.7 L401.4,2102.7 L402.1,2102.7 L402.8,2102.7 L403.5,2102.7 L404.2,2102.7 L404.9,2102.7 L405.6,2102.7 L406.3,2102.7 L407,2102.7 L407.7,2102.7 L408.4,2102.7 L409.1,2102.7 L409.8,2102.7 L410.5,2102.7 L411.2,2102.7 L411.9,2102.7 L412.6,2102.7 L413.3,2102.7 L414,2102.7 L414.7,2102.7 L415.4,2102.7 L416.1,2102.7 L416.8,2102.7 L417.5,2102.7 L418.2,2102.7 L418.9,2102.7 L419.6,2102.7 L420.3,2102.7 L421,2102.7 L421.7,2102.7 L422.4,2102.7 L423.1,2102.7 L423.8,2102.7 L424.5,2102.7 L425.2,2102.7 L425.9,2102.7 L426.6,2102.7 L427.3,2102.7 L428,2102.7 L428.7,2102.7 L429.4,2102.7 L430.1,2102.7 L430.8,2102.7 L431.5,2102.7 L432.2,2102.7 L432.9,2102.7 L433.6,2102.7 L434.3,2102.7 L435,2102.7 L435.7,2102.7 L436.4,2102.7 L437.1,2102.7 L437.8,2102.7 L438.5,2102.7 L439.2,2102.7 L439.9,2102.7 L440.6,2102.7 L441.3,2102.7 L442,2102.7 L442.7,2102.7 L443.4,2102.7 L444.1,2102.7 L444.8,2102.7 L445.5,2102.7 L446.2,2102.7 L446.9,2102.7 L447.6,2102.7 L448.3,2102.7 L449,2102.7 L449.7,2102.7 L450.4,2102.7 L451.1,2102.7 L451.8,2102.7 L452.5,2102.7 L453.2,2102.7 L453.9,2102.7 L454.6,2102.7 L455.3,2102.7 L456,2102.7 L456.7,2102.7 L457.4,2102.7 L458.1,2102.7 L458.8,2102.7 L459.5,2102.7 L460.2,2102.7 L460.9,2102.7 L461.6,2102.7 L462.3,2102.7 L463,2102.7 L463.7,2102.7 L464.4,2102.7 L465.1,2102.7 L465.8,2102.7 L466.5,2102.7 L467.2,2102.7 L467.9,2102.7 L468.6,2102.7 L469.3,2102.7 L470,2102.7 L470.7,2102.7 L471.4,2102.7 L472.1,2102.7 L472.8,2102.7 L473.5,2102.7 L474.2,2102.7 L474.9,2102.7 L475.6,2102.7 L476.3,2102.7 L477,2102.7 L477.7,2102.7 L478.4,2102.7 L479.1,2102.7 L479.8,2102.7 L480.5,2102.7 L481.2,2102.7 L481.9,2102.7 L482.6,2102.7 L483.3,2102.7 L484,2102.7 L484.7,2102.7 L485.4,2102.7 L486.1,2102.7 L486.8,2102.7 L487.5,2102.7 L488.2,2102.7 L488.9,2102.7 L489.6,2102.7 L490.3,2102.7 L491,2102.7 L491.7,2102.7 L492.4,2102.7 L493.1,2102.7 L493.8,2102.7 L494.5,2102.7 L495.2,2102.7 L495.9,2102.7 L496.6,2102.7 L497.3,2102.7 L498,2102.7 L498.7,2102.7 L499.4,2102.7 L500.1,2102.7 L500.8,2102.7 L501.5,2102.7 L502.2,2102.7 L502.9,2102.7 L503.6,2102.7 L504.3,2102.7 L505,2102.7 L505.7,2102.7 L506.4,2102.7 L507.1,2102.7 L507.8,2102.7 L508.5,2102.7 L509.2,2102.7 L509.9,2102.7 L510.6,2102.7 L511.3,2102.7 L512,2102.7 L512.7,2102.7 L513.4,2102.7 L514.1,2102.7 L514.8,2102.7 L515.5,2102.7 L516.2,2102.7 L516.9,2102.7 L517.6,2102.7 L518.3,2102.7 L519,2102.7 L519.7,2102.7 L520.4,2102.7 L521.1,2102.7 L521.8,2102.7 L522.5,2102.7 L523.2,2102.7 L523.9,2102.7 L524.6,2102.7 L525.3,2102.7 L526,2102.7 L526.7,2102.7 L527.4,2102.7 L528.1,2102.7 L528.8,2102.7 L529.5,2102.7 L530.2,2102.7 L530.9,2102.7 L531.6,2102.7 L532.3,2102.7 L533,2102.7 L533.7,2102.7 L534.4,2102.7 L535.1,2102.7 L535.8,2102.7 L536.5,2102.7 L537.2,2102.7 L537.9,2102.7 L538.6,2102.7 L539.3,2102.7 L540,2102.7 L540.7,2102.7 L541.4,2102.7 L542.1,2102.7 L542.8,2102.7 L543.5,2102.7 L544.2,2102.7 L544.9,2102.7 L545.6,2102.7 L546.3,2102.7 L547,2102.7 L547.7,2102.7 L548.4,2102.7 L549.1,2102.7 L549.8,2102.7 L550.5,2102.7 L551.2,2102.7 L551.9,2102.7 L552.6,2102.7 L553.3,2102.7 L554,2102.7 L554.7,2102.7 L555.4,2102.7 L556.1,2102.7 L556.8,2102.7 L557.5,2102.7 L558.2,2102.7 L558.9,2102.7 L559.6,2102.7 L560.3,2102.7 L561,2102.7 L561.7,2102.7 L562.4,2102.7 L563.1,2102.7 L563.8,2102.7 L564.5,2102.7 L565.2,2102.7 L565.9,2102.7 L566.6,2102.7 L567.3,2102.7 L568,2102.7 L568.7,2102.7 L569.4,2102.7 L570.1,2102.7 L570.8,2102.7 L571.5,2102.7 L572.2,2102.7 L572.9,2102.7 L573.6,2102.7 L574.3,2102.7 L575,2102.7 L575.7,2102.7 L576.4,2102.7 L577.1,2102.7 L577.8,2102.7 L578.5,2102.7 L579.2,2102.7 L579.9,2102.7 L580.6,2102.7 L581.3,2102.7 L582,2102.7 L582.7,2102.7 L583.4,2102.7 L584.1,2102.7 L584.8,2102.7 L585.5,2102.7 L586.2,2102.7 L586.9,2102.7 L587.6,2102.7 L588.3,2102.7 L589,2102.7 L589.7,2102.7 L590.4,2102.7 L591.1,2102.7 L591.8,2102.7 L592.5,2102.7 L593.2,2102.7 L593.9,2102.7 L594.6,2102.7 L595.3,2102.7 L596,2102.7 L596.7,2102.7 L597.4,2102.7 L598.1,2102.7 L598.8,2102.7 L599.5,2102.7 L600.2,2102.7 L600.9,2102.7 L601.6,2102.7 L602.3,2102.7 L603,2102.7 L603.7,2102.7 L604.4,2102.7 L605.1,2102.7 L605.8,2102.7 L606.5,2102.7 L607.2,2102.7 L607.9,2102.7 L608.6,2102.7 L609.3,2102.7 L610,2102.7 L610.7,2102.7 L611.4,2102.7 L612.1,2102.7 L612.8,2102.7 L613.5,2102.7 L614.2,2102.7 L614.9,2102.7 L615.6,2102.7 L616.3,2102.7 L617,2102.7 L617.7,2102.7 L618.4,2102.7 L619.1,2102.7 L619.8,2102.7 L620.5,2102.7 L621.2,2102.7 L621.9,2102.7 L622.6,2102.7 L623.3,2102.7 L624,2102.7 L624.7,2102.7 L625.4,2102.7 L626.1,2102.7 L626.8,2102.7 L627.5,2102.7 L628.2,2102.7 L628.9,2102.7 L629.6,2102.7 L630.3,2102.7 L631,2102.7 L631.7,2102.7 L632.4,2102.7 L633.1,2102.7 L633.8,2102.7 L634.5,2102.7 L635.2,2102.7 L635.9,2102.7 L636.6,2102.69 L637.3,2102.69 L638,2102.67 L638.7,2102.65 L639.4,2102.62 L640.1,2102.55 L640.8,2102.45 L641.5,2102.29 L642.2,2102.05 L642.9,2101.71 L643.6,2101.22 L644.3,2100.58 L645,2099.75 L645.7,2098.72 L646.4,2097.5 L647.1,2096.13 L647.8,2094.66 L648.5,2093.17 L649.2,2091.76 L649.9,2090.54 L650.6,2089.62" fill="none" stroke="#3d63d8" stroke-width="2.2" stroke-linejoin="round"/>
<path d="M239,2101.57 L239.7,2100.82 L240.4,2099.65 L241.1,2097.92 L241.8,2095.44 L242.5,2092.02 L243.2,2087.5 L243.9,2081.74 L244.6,2074.72 L245.3,2066.54 L246,2057.44 L246.7,2047.85 L247.4,2038.33 L248.1,2029.55 L248.8,2022.22 L249.5,2016.96 L250.2,2014.25 L250.9,2014.34 L251.6,2017.24 L252.3,2022.66 L253,2030.11 L253.7,2038.96 L254.4,2048.5 L255.1,2058.07 L255.8,2067.12 L256.5,2075.24 L257.2,2082.17 L257.9,2087.84 L258.6,2092.29 L259.3,2095.63 L260,2098.06 L260.7,2099.75 L261.4,2100.88 L262.1,2101.61 L262.8,2102.07 L263.5,2102.35 L264.2,2102.51 L264.9,2102.6 L265.6,2102.65 L266.3,2102.67 L267,2102.69 L267.7,2102.69 L268.4,2102.69 L269.1,2102.68 L269.8,2102.67 L270.5,2102.64 L271.2,2102.58 L271.9,2102.48 L272.6,2102.3 L273.3,2102.02 L274,2101.57 L274.7,2100.87 L275.4,2099.85 L276.1,2098.39 L276.8,2096.39 L277.5,2093.75 L278.2,2090.41 L278.9,2086.36 L279.6,2081.67 L280.3,2076.48 L281,2071.06 L281.7,2065.72 L282.4,2060.85 L283.1,2056.84 L283.8,2054.05 L284.5,2052.71 L285.2,2052.97 L285.9,2054.8 L286.6,2058.02 L287.3,2062.35 L288,2067.41 L288.7,2072.82 L289.4,2078.2 L290.1,2083.25 L290.8,2087.74 L291.5,2091.57 L292.2,2094.67 L292.9,2097.1 L293.6,2098.91 L294.3,2100.22 L295,2101.12 L295.7,2101.73 L296.4,2102.11 L297.1,2102.35 L297.8,2102.48 L298.5,2102.54 L299.2,2102.56 L299.9,2102.54 L300.6,2102.5 L301.3,2102.42 L302,2102.31 L302.7,2102.17 L303.4,2101.99 L304.1,2101.77 L304.8,2101.49 L305.5,2101.16 L306.2,2100.79 L306.9,2100.36 L307.6,2099.9 L308.3,2099.41 L309,2098.92 L309.7,2098.43 L310.4,2097.97 L311.1,2097.57 L311.8,2097.23 L312.5,2096.99 L313.2,2096.86 L313.9,2096.84 L314.6,2096.93 L315.3,2097.13 L316,2097.43 L316.7,2097.81 L317.4,2098.25 L318.1,2098.73 L318.8,2099.22 L319.5,2099.72 L320.2,2100.19 L320.9,2100.63 L321.6,2101.02 L322.3,2101.37 L323,2101.67 L323.7,2101.91 L324.4,2102.11 L325.1,2102.27 L325.8,2102.39 L326.5,2102.48 L327.2,2102.55 L327.9,2102.6 L328.6,2102.63 L329.3,2102.66 L330,2102.67 L330.7,2102.68 L331.4,2102.69 L332.1,2102.69 L332.8,2102.7 L333.5,2102.7 L334.2,2102.7 L334.9,2102.7 L335.6,2102.7 L336.3,2102.7 L337,2102.7 L337.7,2102.7 L338.4,2102.7 L339.1,2102.7 L339.8,2102.69 L340.5,2102.68 L341.2,2102.66 L341.9,2102.62 L342.6,2102.55 L343.3,2102.42 L344,2102.22 L344.7,2101.88 L345.4,2101.36 L346.1,2100.57 L346.8,2099.42 L347.5,2097.83 L348.2,2095.68 L348.9,2092.9 L349.6,2089.46 L350.3,2085.37 L351,2080.75 L351.7,2075.77 L352.4,2070.72 L353.1,2065.92 L353.8,2061.73 L354.5,2058.52 L355.2,2056.57 L355.9,2056.06 L356.6,2057.04 L357.3,2059.41 L358,2062.96 L358.7,2067.37 L359.4,2072.28 L360.1,2077.32 L360.8,2082.17 L361.5,2086.57 L362.2,2090.33 L362.9,2093.34 L363.6,2095.56 L364.3,2096.98 L365,2097.59 L365.7,2097.4 L366.4,2096.4 L367.1,2094.56 L367.8,2091.89 L368.5,2088.38 L369.2,2084.1 L369.9,2079.18 L370.6,2073.83 L371.3,2068.36 L372,2063.13 L372.7,2058.54 L373.4,2054.98 L374.1,2052.76 L374.8,2052.1 L375.5,2053.05 L376.2,2055.53 L376.9,2059.31 L377.6,2064.05 L378.3,2069.36 L379,2074.86 L379.7,2080.18 L380.4,2085.07 L381.1,2089.33 L381.8,2092.88 L382.5,2095.72 L383.2,2097.9 L383.9,2099.5 L384.6,2100.63 L385.3,2101.41 L386,2101.92 L386.7,2102.24 L387.4,2102.44 L388.1,2102.56 L388.8,2102.62 L389.5,2102.66 L390.2,2102.68 L390.9,2102.69 L391.6,2102.7 L392.3,2102.7 L393,2102.7 L393.7,2102.7 L394.4,2102.69 L395.1,2102.69 L395.8,2102.68 L396.5,2102.65 L397.2,2102.61 L397.9,2102.53 L398.6,2102.4 L399.3,2102.17 L400,2101.81 L400.7,2101.25 L401.4,2100.4 L402.1,2099.16 L402.8,2097.45 L403.5,2095.14 L404.2,2092.17 L404.9,2088.5 L405.6,2084.15 L406.3,2079.24 L407,2073.97 L407.7,2068.64 L408.4,2063.59 L409.1,2059.22 L409.8,2055.89 L410.5,2053.9 L411.2,2053.45 L411.9,2054.56 L412.6,2057.14 L413.3,2060.95 L414,2065.65 L414.7,2070.87 L415.4,2076.22 L416.1,2081.37 L416.8,2086.06 L417.5,2090.13 L418.2,2093.51 L418.9,2096.19 L419.6,2098.24 L420.3,2099.74 L421,2100.79 L421.7,2101.51 L422.4,2101.98 L423.1,2102.28 L423.8,2102.46 L424.5,2102.57 L425.2,2102.63 L425.9,2102.66 L426.6,2102.68 L427.3,2102.69 L428,2102.7 L428.7,2102.7 L429.4,2102.7 L430.1,2102.7 L430.8,2102.7 L431.5,2102.7 L432.2,2102.7 L432.9,2102.69 L433.6,2102.68 L434.3,2102.67 L435,2102.63 L435.7,2102.58 L436.4,2102.47 L437.1,2102.3 L437.8,2102.01 L438.5,2101.55 L439.2,2100.84 L439.9,2099.8 L440.6,2098.32 L441.3,2096.3 L442,2093.63 L442.7,2090.27 L443.4,2086.19 L444.1,2081.48 L444.8,2076.28 L445.5,2070.85 L446.2,2065.52 L446.9,2060.68 L447.6,2056.71 L448.3,2053.97 L449,2052.69 L449.7,2053.01 L450.4,2054.89 L451.1,2058.16 L451.8,2062.51 L452.5,2067.58 L453.2,2072.97 L453.9,2078.29 L454.6,2083.23 L455.3,2087.54 L456,2091.08 L456.7,2093.74 L457.4,2095.49 L458.1,2096.31 L458.8,2096.2 L459.5,2095.16 L460.2,2093.18 L460.9,2090.26 L461.6,2086.44 L462.3,2081.82 L463,2076.56 L463.7,2070.94 L464.4,2065.28 L465.1,2059.99 L465.8,2055.49 L466.5,2052.16 L467.2,2050.31 L467.9,2050.11 L468.6,2051.59 L469.3,2054.6 L470,2058.87 L470.7,2064.02 L471.4,2069.65 L472.1,2075.36 L472.8,2080.8 L473.5,2085.71 L474.2,2089.94 L474.9,2093.42 L475.6,2096.16 L476.3,2098.24 L477,2099.76 L477.7,2100.82 L478.4,2101.53 L479.1,2102 L479.8,2102.29 L480.5,2102.47 L481.2,2102.58 L481.9,2102.63 L482.6,2102.66 L483.3,2102.68 L484,2102.68 L484.7,2102.67 L485.4,2102.65 L486.1,2102.61 L486.8,2102.53 L487.5,2102.39 L488.2,2102.17 L488.9,2101.8 L489.6,2101.22 L490.3,2100.34 L491,2099.08 L491.7,2097.31 L492.4,2094.92 L493.1,2091.84 L493.8,2088.03 L494.5,2083.49 L495.2,2078.35 L495.9,2072.82 L496.6,2067.19 L497.3,2061.84 L498,2057.18 L498.7,2053.58 L499.4,2051.39 L500.1,2050.8 L500.8,2051.86 L501.5,2054.48 L502.2,2058.42 L502.9,2063.32 L503.6,2068.79 L504.3,2074.43 L505,2079.87 L505.7,2084.86 L506.4,2089.19 L507.1,2092.8 L507.8,2095.67 L508.5,2097.87 L509.2,2099.49 L509.9,2100.63 L510.6,2101.41 L511.3,2101.92 L512,2102.24 L512.7,2102.44 L513.4,2102.56 L514.1,2102.62 L514.8,2102.66 L515.5,2102.68 L516.2,2102.69 L516.9,2102.7 L517.6,2102.7 L518.3,2102.7 L519,2102.7 L519.7,2102.7 L520.4,2102.7 L521.1,2102.7 L521.8,2102.7 L522.5,2102.7 L523.2,2102.7 L523.9,2102.7 L524.6,2102.7 L525.3,2102.7 L526,2102.7 L526.7,2102.7 L527.4,2102.7 L528.1,2102.7 L528.8,2102.7 L529.5,2102.7 L530.2,2102.7 L530.9,2102.7 L531.6,2102.7 L532.3,2102.7 L533,2102.7 L533.7,2102.7 L534.4,2102.7 L535.1,2102.7 L535.8,2102.7 L536.5,2102.7 L537.2,2102.7 L537.9,2102.7 L538.6,2102.7 L539.3,2102.7 L540,2102.7 L540.7,2102.7 L541.4,2102.7 L542.1,2102.7 L542.8,2102.7 L543.5,2102.7 L544.2,2102.7 L544.9,2102.7 L545.6,2102.7 L546.3,2102.7 L547,2102.7 L547.7,2102.7 L548.4,2102.7 L549.1,2102.7 L549.8,2102.7 L550.5,2102.7 L551.2,2102.7 L551.9,2102.7 L552.6,2102.7 L553.3,2102.7 L554,2102.7 L554.7,2102.7 L555.4,2102.7 L556.1,2102.7 L556.8,2102.7 L557.5,2102.7 L558.2,2102.7 L558.9,2102.7 L559.6,2102.7 L560.3,2102.7 L561,2102.7 L561.7,2102.7 L562.4,2102.7 L563.1,2102.7 L563.8,2102.7 L564.5,2102.7 L565.2,2102.7 L565.9,2102.7 L566.6,2102.7 L567.3,2102.7 L568,2102.7 L568.7,2102.7 L569.4,2102.7 L570.1,2102.7 L570.8,2102.7 L571.5,2102.7 L572.2,2102.7 L572.9,2102.7 L573.6,2102.7 L574.3,2102.7 L575,2102.7 L575.7,2102.7 L576.4,2102.7 L577.1,2102.7 L577.8,2102.69 L578.5,2102.68 L579.2,2102.66 L579.9,2102.62 L580.6,2102.55 L581.3,2102.43 L582,2102.22 L582.7,2101.89 L583.4,2101.36 L584.1,2100.56 L584.8,2099.38 L585.5,2097.73 L586.2,2095.48 L586.9,2092.55 L587.6,2088.89 L588.3,2084.5 L589,2079.48 L589.7,2074.01 L590.4,2068.37 L591.1,2062.93 L591.8,2058.08 L592.5,2054.23 L593.2,2051.72 L593.9,2050.78 L594.6,2051.5 L595.3,2053.81 L596,2057.49 L596.7,2062.23 L597.4,2067.61 L598.1,2073.25 L598.8,2078.76 L599.5,2083.86 L600.2,2088.34 L600.9,2092.1 L601.6,2095.13 L602.3,2097.46 L603,2099.19 L603.7,2100.42 L604.4,2101.27 L605.1,2101.83 L605.8,2102.19 L606.5,2102.41 L607.2,2102.54 L607.9,2102.61 L608.6,2102.66 L609.3,2102.68 L610,2102.69 L610.7,2102.69 L611.4,2102.7 L612.1,2102.7 L612.8,2102.7 L613.5,2102.7 L614.2,2102.7 L614.9,2102.7 L615.6,2102.7 L616.3,2102.7 L617,2102.7 L617.7,2102.7 L618.4,2102.7 L619.1,2102.7 L619.8,2102.7 L620.5,2102.7 L621.2,2102.7 L621.9,2102.7 L622.6,2102.7 L623.3,2102.7 L624,2102.7 L624.7,2102.7 L625.4,2102.7 L626.1,2102.7 L626.8,2102.7 L627.5,2102.7 L628.2,2102.7 L628.9,2102.7 L629.6,2102.7 L630.3,2102.7 L631,2102.7 L631.7,2102.7 L632.4,2102.7 L633.1,2102.7 L633.8,2102.7 L634.5,2102.7 L635.2,2102.7 L635.9,2102.7 L636.6,2102.7 L637.3,2102.7 L638,2102.7 L638.7,2102.7 L639.4,2102.7 L640.1,2102.7 L640.8,2102.7 L641.5,2102.7 L642.2,2102.7 L642.9,2102.7 L643.6,2102.7 L644.3,2102.7 L645,2102.7 L645.7,2102.7 L646.4,2102.7 L647.1,2102.7 L647.8,2102.7 L648.5,2102.7 L649.2,2102.7 L649.9,2102.7 L650.6,2102.7 L651,2103.5 L239,2103.5 Z" fill="#f6dede" fill-opacity="0.85" stroke="none"/>
<path d="M239,2101.57 L239.7,2100.82 L240.4,2099.65 L241.1,2097.92 L241.8,2095.44 L242.5,2092.02 L243.2,2087.5 L243.9,2081.74 L244.6,2074.72 L245.3,2066.54 L246,2057.44 L246.7,2047.85 L247.4,2038.33 L248.1,2029.55 L248.8,2022.22 L249.5,2016.96 L250.2,2014.25 L250.9,2014.34 L251.6,2017.24 L252.3,2022.66 L253,2030.11 L253.7,2038.96 L254.4,2048.5 L255.1,2058.07 L255.8,2067.12 L256.5,2075.24 L257.2,2082.17 L257.9,2087.84 L258.6,2092.29 L259.3,2095.63 L260,2098.06 L260.7,2099.75 L261.4,2100.88 L262.1,2101.61 L262.8,2102.07 L263.5,2102.35 L264.2,2102.51 L264.9,2102.6 L265.6,2102.65 L266.3,2102.67 L267,2102.69 L267.7,2102.69 L268.4,2102.69 L269.1,2102.68 L269.8,2102.67 L270.5,2102.64 L271.2,2102.58 L271.9,2102.48 L272.6,2102.3 L273.3,2102.02 L274,2101.57 L274.7,2100.87 L275.4,2099.85 L276.1,2098.39 L276.8,2096.39 L277.5,2093.75 L278.2,2090.41 L278.9,2086.36 L279.6,2081.67 L280.3,2076.48 L281,2071.06 L281.7,2065.72 L282.4,2060.85 L283.1,2056.84 L283.8,2054.05 L284.5,2052.71 L285.2,2052.97 L285.9,2054.8 L286.6,2058.02 L287.3,2062.35 L288,2067.41 L288.7,2072.82 L289.4,2078.2 L290.1,2083.25 L290.8,2087.74 L291.5,2091.57 L292.2,2094.67 L292.9,2097.1 L293.6,2098.91 L294.3,2100.22 L295,2101.12 L295.7,2101.73 L296.4,2102.11 L297.1,2102.35 L297.8,2102.48 L298.5,2102.54 L299.2,2102.56 L299.9,2102.54 L300.6,2102.5 L301.3,2102.42 L302,2102.31 L302.7,2102.17 L303.4,2101.99 L304.1,2101.77 L304.8,2101.49 L305.5,2101.16 L306.2,2100.79 L306.9,2100.36 L307.6,2099.9 L308.3,2099.41 L309,2098.92 L309.7,2098.43 L310.4,2097.97 L311.1,2097.57 L311.8,2097.23 L312.5,2096.99 L313.2,2096.86 L313.9,2096.84 L314.6,2096.93 L315.3,2097.13 L316,2097.43 L316.7,2097.81 L317.4,2098.25 L318.1,2098.73 L318.8,2099.22 L319.5,2099.72 L320.2,2100.19 L320.9,2100.63 L321.6,2101.02 L322.3,2101.37 L323,2101.67 L323.7,2101.91 L324.4,2102.11 L325.1,2102.27 L325.8,2102.39 L326.5,2102.48 L327.2,2102.55 L327.9,2102.6 L328.6,2102.63 L329.3,2102.66 L330,2102.67 L330.7,2102.68 L331.4,2102.69 L332.1,2102.69 L332.8,2102.7 L333.5,2102.7 L334.2,2102.7 L334.9,2102.7 L335.6,2102.7 L336.3,2102.7 L337,2102.7 L337.7,2102.7 L338.4,2102.7 L339.1,2102.7 L339.8,2102.69 L340.5,2102.68 L341.2,2102.66 L341.9,2102.62 L342.6,2102.55 L343.3,2102.42 L344,2102.22 L344.7,2101.88 L345.4,2101.36 L346.1,2100.57 L346.8,2099.42 L347.5,2097.83 L348.2,2095.68 L348.9,2092.9 L349.6,2089.46 L350.3,2085.37 L351,2080.75 L351.7,2075.77 L352.4,2070.72 L353.1,2065.92 L353.8,2061.73 L354.5,2058.52 L355.2,2056.57 L355.9,2056.06 L356.6,2057.04 L357.3,2059.41 L358,2062.96 L358.7,2067.37 L359.4,2072.28 L360.1,2077.32 L360.8,2082.17 L361.5,2086.57 L362.2,2090.33 L362.9,2093.34 L363.6,2095.56 L364.3,2096.98 L365,2097.59 L365.7,2097.4 L366.4,2096.4 L367.1,2094.56 L367.8,2091.89 L368.5,2088.38 L369.2,2084.1 L369.9,2079.18 L370.6,2073.83 L371.3,2068.36 L372,2063.13 L372.7,2058.54 L373.4,2054.98 L374.1,2052.76 L374.8,2052.1 L375.5,2053.05 L376.2,2055.53 L376.9,2059.31 L377.6,2064.05 L378.3,2069.36 L379,2074.86 L379.7,2080.18 L380.4,2085.07 L381.1,2089.33 L381.8,2092.88 L382.5,2095.72 L383.2,2097.9 L383.9,2099.5 L384.6,2100.63 L385.3,2101.41 L386,2101.92 L386.7,2102.24 L387.4,2102.44 L388.1,2102.56 L388.8,2102.62 L389.5,2102.66 L390.2,2102.68 L390.9,2102.69 L391.6,2102.7 L392.3,2102.7 L393,2102.7 L393.7,2102.7 L394.4,2102.69 L395.1,2102.69 L395.8,2102.68 L396.5,2102.65 L397.2,2102.61 L397.9,2102.53 L398.6,2102.4 L399.3,2102.17 L400,2101.81 L400.7,2101.25 L401.4,2100.4 L402.1,2099.16 L402.8,2097.45 L403.5,2095.14 L404.2,2092.17 L404.9,2088.5 L405.6,2084.15 L406.3,2079.24 L407,2073.97 L407.7,2068.64 L408.4,2063.59 L409.1,2059.22 L409.8,2055.89 L410.5,2053.9 L411.2,2053.45 L411.9,2054.56 L412.6,2057.14 L413.3,2060.95 L414,2065.65 L414.7,2070.87 L415.4,2076.22 L416.1,2081.37 L416.8,2086.06 L417.5,2090.13 L418.2,2093.51 L418.9,2096.19 L419.6,2098.24 L420.3,2099.74 L421,2100.79 L421.7,2101.51 L422.4,2101.98 L423.1,2102.28 L423.8,2102.46 L424.5,2102.57 L425.2,2102.63 L425.9,2102.66 L426.6,2102.68 L427.3,2102.69 L428,2102.7 L428.7,2102.7 L429.4,2102.7 L430.1,2102.7 L430.8,2102.7 L431.5,2102.7 L432.2,2102.7 L432.9,2102.69 L433.6,2102.68 L434.3,2102.67 L435,2102.63 L435.7,2102.58 L436.4,2102.47 L437.1,2102.3 L437.8,2102.01 L438.5,2101.55 L439.2,2100.84 L439.9,2099.8 L440.6,2098.32 L441.3,2096.3 L442,2093.63 L442.7,2090.27 L443.4,2086.19 L444.1,2081.48 L444.8,2076.28 L445.5,2070.85 L446.2,2065.52 L446.9,2060.68 L447.6,2056.71 L448.3,2053.97 L449,2052.69 L449.7,2053.01 L450.4,2054.89 L451.1,2058.16 L451.8,2062.51 L452.5,2067.58 L453.2,2072.97 L453.9,2078.29 L454.6,2083.23 L455.3,2087.54 L456,2091.08 L456.7,2093.74 L457.4,2095.49 L458.1,2096.31 L458.8,2096.2 L459.5,2095.16 L460.2,2093.18 L460.9,2090.26 L461.6,2086.44 L462.3,2081.82 L463,2076.56 L463.7,2070.94 L464.4,2065.28 L465.1,2059.99 L465.8,2055.49 L466.5,2052.16 L467.2,2050.31 L467.9,2050.11 L468.6,2051.59 L469.3,2054.6 L470,2058.87 L470.7,2064.02 L471.4,2069.65 L472.1,2075.36 L472.8,2080.8 L473.5,2085.71 L474.2,2089.94 L474.9,2093.42 L475.6,2096.16 L476.3,2098.24 L477,2099.76 L477.7,2100.82 L478.4,2101.53 L479.1,2102 L479.8,2102.29 L480.5,2102.47 L481.2,2102.58 L481.9,2102.63 L482.6,2102.66 L483.3,2102.68 L484,2102.68 L484.7,2102.67 L485.4,2102.65 L486.1,2102.61 L486.8,2102.53 L487.5,2102.39 L488.2,2102.17 L488.9,2101.8 L489.6,2101.22 L490.3,2100.34 L491,2099.08 L491.7,2097.31 L492.4,2094.92 L493.1,2091.84 L493.8,2088.03 L494.5,2083.49 L495.2,2078.35 L495.9,2072.82 L496.6,2067.19 L497.3,2061.84 L498,2057.18 L498.7,2053.58 L499.4,2051.39 L500.1,2050.8 L500.8,2051.86 L501.5,2054.48 L502.2,2058.42 L502.9,2063.32 L503.6,2068.79 L504.3,2074.43 L505,2079.87 L505.7,2084.86 L506.4,2089.19 L507.1,2092.8 L507.8,2095.67 L508.5,2097.87 L509.2,2099.49 L509.9,2100.63 L510.6,2101.41 L511.3,2101.92 L512,2102.24 L512.7,2102.44 L513.4,2102.56 L514.1,2102.62 L514.8,2102.66 L515.5,2102.68 L516.2,2102.69 L516.9,2102.7 L517.6,2102.7 L518.3,2102.7 L519,2102.7 L519.7,2102.7 L520.4,2102.7 L521.1,2102.7 L521.8,2102.7 L522.5,2102.7 L523.2,2102.7 L523.9,2102.7 L524.6,2102.7 L525.3,2102.7 L526,2102.7 L526.7,2102.7 L527.4,2102.7 L528.1,2102.7 L528.8,2102.7 L529.5,2102.7 L530.2,2102.7 L530.9,2102.7 L531.6,2102.7 L532.3,2102.7 L533,2102.7 L533.7,2102.7 L534.4,2102.7 L535.1,2102.7 L535.8,2102.7 L536.5,2102.7 L537.2,2102.7 L537.9,2102.7 L538.6,2102.7 L539.3,2102.7 L540,2102.7 L540.7,2102.7 L541.4,2102.7 L542.1,2102.7 L542.8,2102.7 L543.5,2102.7 L544.2,2102.7 L544.9,2102.7 L545.6,2102.7 L546.3,2102.7 L547,2102.7 L547.7,2102.7 L548.4,2102.7 L549.1,2102.7 L549.8,2102.7 L550.5,2102.7 L551.2,2102.7 L551.9,2102.7 L552.6,2102.7 L553.3,2102.7 L554,2102.7 L554.7,2102.7 L555.4,2102.7 L556.1,2102.7 L556.8,2102.7 L557.5,2102.7 L558.2,2102.7 L558.9,2102.7 L559.6,2102.7 L560.3,2102.7 L561,2102.7 L561.7,2102.7 L562.4,2102.7 L563.1,2102.7 L563.8,2102.7 L564.5,2102.7 L565.2,2102.7 L565.9,2102.7 L566.6,2102.7 L567.3,2102.7 L568,2102.7 L568.7,2102.7 L569.4,2102.7 L570.1,2102.7 L570.8,2102.7 L571.5,2102.7 L572.2,2102.7 L572.9,2102.7 L573.6,2102.7 L574.3,2102.7 L575,2102.7 L575.7,2102.7 L576.4,2102.7 L577.1,2102.7 L577.8,2102.69 L578.5,2102.68 L579.2,2102.66 L579.9,2102.62 L580.6,2102.55 L581.3,2102.43 L582,2102.22 L582.7,2101.89 L583.4,2101.36 L584.1,2100.56 L584.8,2099.38 L585.5,2097.73 L586.2,2095.48 L586.9,2092.55 L587.6,2088.89 L588.3,2084.5 L589,2079.48 L589.7,2074.01 L590.4,2068.37 L591.1,2062.93 L591.8,2058.08 L592.5,2054.23 L593.2,2051.72 L593.9,2050.78 L594.6,2051.5 L595.3,2053.81 L596,2057.49 L596.7,2062.23 L597.4,2067.61 L598.1,2073.25 L598.8,2078.76 L599.5,2083.86 L600.2,2088.34 L600.9,2092.1 L601.6,2095.13 L602.3,2097.46 L603,2099.19 L603.7,2100.42 L604.4,2101.27 L605.1,2101.83 L605.8,2102.19 L606.5,2102.41 L607.2,2102.54 L607.9,2102.61 L608.6,2102.66 L609.3,2102.68 L610,2102.69 L610.7,2102.69 L611.4,2102.7 L612.1,2102.7 L612.8,2102.7 L613.5,2102.7 L614.2,2102.7 L614.9,2102.7 L615.6,2102.7 L616.3,2102.7 L617,2102.7 L617.7,2102.7 L618.4,2102.7 L619.1,2102.7 L619.8,2102.7 L620.5,2102.7 L621.2,2102.7 L621.9,2102.7 L622.6,2102.7 L623.3,2102.7 L624,2102.7 L624.7,2102.7 L625.4,2102.7 L626.1,2102.7 L626.8,2102.7 L627.5,2102.7 L628.2,2102.7 L628.9,2102.7 L629.6,2102.7 L630.3,2102.7 L631,2102.7 L631.7,2102.7 L632.4,2102.7 L633.1,2102.7 L633.8,2102.7 L634.5,2102.7 L635.2,2102.7 L635.9,2102.7 L636.6,2102.7 L637.3,2102.7 L638,2102.7 L638.7,2102.7 L639.4,2102.7 L640.1,2102.7 L640.8,2102.7 L641.5,2102.7 L642.2,2102.7 L642.9,2102.7 L643.6,2102.7 L644.3,2102.7 L645,2102.7 L645.7,2102.7 L646.4,2102.7 L647.1,2102.7 L647.8,2102.7 L648.5,2102.7 L649.2,2102.7 L649.9,2102.7 L650.6,2102.7" fill="none" stroke="#e0413a" stroke-width="2.2" stroke-linejoin="round"/>
<path d="M239,2102.7 L239.7,2102.7 L240.4,2102.7 L241.1,2102.7 L241.8,2102.7 L242.5,2102.7 L243.2,2102.7 L243.9,2102.7 L244.6,2102.7 L245.3,2102.7 L246,2102.7 L246.7,2102.7 L247.4,2102.7 L248.1,2102.7 L248.8,2102.7 L249.5,2102.7 L250.2,2102.7 L250.9,2102.7 L251.6,2102.7 L252.3,2102.7 L253,2102.7 L253.7,2102.7 L254.4,2102.7 L255.1,2102.7 L255.8,2102.7 L256.5,2102.7 L257.2,2102.7 L257.9,2102.7 L258.6,2102.7 L259.3,2102.7 L260,2102.7 L260.7,2102.7 L261.4,2102.7 L262.1,2102.7 L262.8,2102.7 L263.5,2102.7 L264.2,2102.7 L264.9,2102.7 L265.6,2102.7 L266.3,2102.7 L267,2102.7 L267.7,2102.7 L268.4,2102.7 L269.1,2102.7 L269.8,2102.7 L270.5,2102.7 L271.2,2102.7 L271.9,2102.7 L272.6,2102.7 L273.3,2102.7 L274,2102.7 L274.7,2102.7 L275.4,2102.7 L276.1,2102.7 L276.8,2102.7 L277.5,2102.7 L278.2,2102.7 L278.9,2102.7 L279.6,2102.69 L280.3,2102.69 L281,2102.67 L281.7,2102.64 L282.4,2102.59 L283.1,2102.49 L283.8,2102.32 L284.5,2102.02 L285.2,2101.54 L285.9,2100.76 L286.6,2099.59 L287.3,2097.85 L288,2095.39 L288.7,2092.02 L289.4,2087.6 L290.1,2082.02 L290.8,2075.28 L291.5,2067.5 L292.2,2058.94 L292.9,2050.03 L293.6,2041.31 L294.3,2033.41 L295,2026.98 L295.7,2022.58 L296.4,2020.6 L297.1,2021.25 L297.8,2024.45 L298.5,2029.91 L299.2,2037.13 L299.9,2045.51 L300.6,2054.4 L301.3,2063.2 L302,2071.42 L302.7,2078.72 L303.4,2084.89 L304.1,2089.9 L304.8,2093.79 L305.5,2096.69 L306.2,2098.78 L306.9,2100.22 L307.6,2101.18 L308.3,2101.8 L309,2102.18 L309.7,2102.41 L310.4,2102.55 L311.1,2102.62 L311.8,2102.66 L312.5,2102.68 L313.2,2102.69 L313.9,2102.7 L314.6,2102.7 L315.3,2102.7 L316,2102.7 L316.7,2102.7 L317.4,2102.7 L318.1,2102.7 L318.8,2102.7 L319.5,2102.7 L320.2,2102.7 L320.9,2102.7 L321.6,2102.7 L322.3,2102.7 L323,2102.7 L323.7,2102.7 L324.4,2102.7 L325.1,2102.7 L325.8,2102.7 L326.5,2102.7 L327.2,2102.7 L327.9,2102.7 L328.6,2102.7 L329.3,2102.7 L330,2102.7 L330.7,2102.7 L331.4,2102.7 L332.1,2102.7 L332.8,2102.7 L333.5,2102.7 L334.2,2102.7 L334.9,2102.7 L335.6,2102.7 L336.3,2102.7 L337,2102.7 L337.7,2102.7 L338.4,2102.7 L339.1,2102.7 L339.8,2102.7 L340.5,2102.7 L341.2,2102.7 L341.9,2102.7 L342.6,2102.7 L343.3,2102.7 L344,2102.7 L344.7,2102.7 L345.4,2102.7 L346.1,2102.7 L346.8,2102.7 L347.5,2102.7 L348.2,2102.7 L348.9,2102.7 L349.6,2102.7 L350.3,2102.7 L351,2102.7 L351.7,2102.7 L352.4,2102.7 L353.1,2102.7 L353.8,2102.7 L354.5,2102.7 L355.2,2102.7 L355.9,2102.7 L356.6,2102.7 L357.3,2102.7 L358,2102.7 L358.7,2102.7 L359.4,2102.7 L360.1,2102.7 L360.8,2102.7 L361.5,2102.7 L362.2,2102.7 L362.9,2102.7 L363.6,2102.7 L364.3,2102.7 L365,2102.7 L365.7,2102.7 L366.4,2102.7 L367.1,2102.7 L367.8,2102.7 L368.5,2102.7 L369.2,2102.7 L369.9,2102.7 L370.6,2102.7 L371.3,2102.7 L372,2102.7 L372.7,2102.7 L373.4,2102.7 L374.1,2102.69 L374.8,2102.69 L375.5,2102.67 L376.2,2102.64 L376.9,2102.59 L377.6,2102.5 L378.3,2102.34 L379,2102.07 L379.7,2101.64 L380.4,2100.96 L381.1,2099.94 L381.8,2098.46 L382.5,2096.4 L383.2,2093.62 L383.9,2090.02 L384.6,2085.57 L385.3,2080.29 L386,2074.31 L386.7,2067.88 L387.4,2061.34 L388.1,2055.13 L388.8,2049.72 L389.5,2045.57 L390.2,2043.04 L390.9,2042.38 L391.6,2043.65 L392.3,2046.72 L393,2051.31 L393.7,2057.02 L394.4,2063.39 L395.1,2069.94 L395.8,2076.26 L396.5,2082.04 L397.2,2087.07 L397.9,2091.25 L398.6,2094.58 L399.3,2097.12 L400,2098.99 L400.7,2100.31 L401.4,2101.21 L402.1,2101.8 L402.8,2102.17 L403.5,2102.4 L404.2,2102.54 L404.9,2102.61 L405.6,2102.66 L406.3,2102.68 L407,2102.69 L407.7,2102.69 L408.4,2102.7 L409.1,2102.69 L409.8,2102.69 L410.5,2102.68 L411.2,2102.65 L411.9,2102.61 L412.6,2102.53 L413.3,2102.38 L414,2102.14 L414.7,2101.74 L415.4,2101.11 L416.1,2100.14 L416.8,2098.72 L417.5,2096.7 L418.2,2093.95 L418.9,2090.35 L419.6,2085.81 L420.3,2080.33 L421,2074.01 L421.7,2067.08 L422.4,2059.88 L423.1,2052.85 L423.8,2046.51 L424.5,2041.36 L425.2,2037.87 L425.9,2036.36 L426.6,2036.96 L427.3,2039.62 L428,2044.09 L428.7,2049.97 L429.4,2056.76 L430.1,2063.95 L430.8,2071.05 L431.5,2077.67 L432.2,2083.53 L432.9,2088.48 L433.6,2092.49 L434.3,2095.6 L435,2097.92 L435.7,2099.59 L436.4,2100.73 L437.1,2101.5 L437.8,2101.99 L438.5,2102.29 L439.2,2102.47 L439.9,2102.58 L440.6,2102.64 L441.3,2102.67 L442,2102.68 L442.7,2102.69 L443.4,2102.7 L444.1,2102.7 L444.8,2102.7 L445.5,2102.7 L446.2,2102.7 L446.9,2102.7 L447.6,2102.7 L448.3,2102.7 L449,2102.7 L449.7,2102.7 L450.4,2102.7 L451.1,2102.7 L451.8,2102.7 L452.5,2102.7 L453.2,2102.7 L453.9,2102.7 L454.6,2102.7 L455.3,2102.7 L456,2102.7 L456.7,2102.7 L457.4,2102.7 L458.1,2102.7 L458.8,2102.7 L459.5,2102.7 L460.2,2102.7 L460.9,2102.7 L461.6,2102.7 L462.3,2102.7 L463,2102.7 L463.7,2102.69 L464.4,2102.68 L465.1,2102.66 L465.8,2102.62 L466.5,2102.56 L467.2,2102.44 L467.9,2102.24 L468.6,2101.9 L469.3,2101.37 L470,2100.56 L470.7,2099.37 L471.4,2097.67 L472.1,2095.35 L472.8,2092.3 L473.5,2088.44 L474.2,2083.78 L474.9,2078.38 L475.6,2072.44 L476.3,2066.24 L477,2060.16 L477.7,2054.64 L478.4,2050.13 L479.1,2047.02 L479.8,2045.59 L480.5,2045.98 L481.2,2048.16 L481.9,2051.91 L482.6,2056.91 L483.3,2062.72 L484,2068.91 L484.7,2075.04 L485.4,2080.77 L486.1,2085.87 L486.8,2090.19 L487.5,2093.7 L488.2,2096.43 L488.9,2098.47 L489.6,2099.94 L490.3,2100.95 L491,2101.63 L491.7,2102.06 L492.4,2102.34 L493.1,2102.5 L493.8,2102.59 L494.5,2102.64 L495.2,2102.67 L495.9,2102.68 L496.6,2102.69 L497.3,2102.69 L498,2102.69 L498.7,2102.68 L499.4,2102.65 L500.1,2102.61 L500.8,2102.52 L501.5,2102.37 L502.2,2102.1 L502.9,2101.67 L503.6,2100.97 L504.3,2099.89 L505,2098.29 L505.7,2095.99 L506.4,2092.81 L507.1,2088.59 L507.8,2083.21 L508.5,2076.62 L509.2,2068.92 L509.9,2060.32 L510.6,2051.23 L511.3,2042.17 L512,2033.77 L512.7,2026.69 L513.4,2021.54 L514.1,2018.8 L514.8,2018.71 L515.5,2021.28 L516.2,2026.28 L516.9,2033.24 L517.6,2041.57 L518.3,2050.61 L519,2059.72 L519.7,2068.36 L520.4,2076.13 L521.1,2082.8 L521.8,2088.26 L522.5,2092.56 L523.2,2095.8 L523.9,2098.16 L524.6,2099.8 L525.3,2100.91 L526,2101.63 L526.7,2102.08 L527.4,2102.35 L528.1,2102.51 L528.8,2102.6 L529.5,2102.65 L530.2,2102.68 L530.9,2102.69 L531.6,2102.69 L532.3,2102.7 L533,2102.7 L533.7,2102.7 L534.4,2102.7 L535.1,2102.7 L535.8,2102.7 L536.5,2102.7 L537.2,2102.7 L537.9,2102.7 L538.6,2102.69 L539.3,2102.68 L540,2102.65 L540.7,2102.61 L541.4,2102.53 L542.1,2102.38 L542.8,2102.12 L543.5,2101.69 L544.2,2100.99 L544.9,2099.91 L545.6,2098.27 L546.3,2095.9 L547,2092.6 L547.7,2088.16 L548.4,2082.43 L549.1,2075.35 L549.8,2066.96 L550.5,2057.47 L551.2,2047.29 L551.9,2036.96 L552.6,2027.19 L553.3,2018.7 L554,2012.23 L554.7,2008.35 L555.4,2007.42 L556.1,2009.53 L556.8,2014.48 L557.5,2021.82 L558.2,2030.9 L558.9,2040.98 L559.6,2051.32 L560.3,2061.29 L561,2070.38 L561.7,2078.28 L562.4,2084.83 L563.1,2090.04 L563.8,2094.01 L564.5,2096.93 L565.2,2098.99 L565.9,2100.39 L566.6,2101.31 L567.3,2101.89 L568,2102.24 L568.7,2102.45 L569.4,2102.57 L570.1,2102.63 L570.8,2102.67 L571.5,2102.68 L572.2,2102.69 L572.9,2102.7 L573.6,2102.7 L574.3,2102.7 L575,2102.7 L575.7,2102.7 L576.4,2102.7 L577.1,2102.7 L577.8,2102.7 L578.5,2102.7 L579.2,2102.7 L579.9,2102.7 L580.6,2102.7 L581.3,2102.7 L582,2102.7 L582.7,2102.7 L583.4,2102.7 L584.1,2102.7 L584.8,2102.7 L585.5,2102.7 L586.2,2102.7 L586.9,2102.7 L587.6,2102.7 L588.3,2102.7 L589,2102.69 L589.7,2102.69 L590.4,2102.67 L591.1,2102.64 L591.8,2102.59 L592.5,2102.5 L593.2,2102.34 L593.9,2102.06 L594.6,2101.62 L595.3,2100.92 L596,2099.86 L596.7,2098.31 L597.4,2096.13 L598.1,2093.19 L598.8,2089.37 L599.5,2084.61 L600.2,2078.93 L600.9,2072.44 L601.6,2065.41 L602.3,2058.21 L603,2051.29 L603.7,2045.18 L604.4,2040.38 L605.1,2037.32 L605.8,2036.28 L606.5,2037.35 L607.2,2040.42 L607.9,2045.18 L608.6,2051.17 L609.3,2057.86 L610,2064.65 L610.7,2071.01 L611.4,2076.44 L612.1,2080.58 L612.8,2083.13 L613.5,2083.9 L614.2,2082.79 L614.9,2079.82 L615.6,2075.09 L616.3,2068.8 L617,2061.31 L617.7,2053.08 L618.4,2044.71 L619.1,2036.86 L619.8,2030.19 L620.5,2025.32 L621.2,2022.71 L621.9,2022.62 L622.6,2025.06 L623.3,2029.8 L624,2036.42 L624.7,2044.34 L625.4,2052.92 L626.1,2061.55 L626.8,2069.68 L627.5,2076.92 L628.2,2082.98 L628.9,2087.7 L629.6,2091.04 L630.3,2092.98 L631,2093.54 L631.7,2092.76 L632.4,2090.65 L633.1,2087.25 L633.8,2082.6 L634.5,2076.83 L635.2,2070.15 L635.9,2062.88 L636.6,2055.45 L637.3,2048.36 L638,2042.17 L638.7,2037.4 L639.4,2034.48 L640.1,2033.7 L640.8,2035.11 L641.5,2038.59 L642.2,2043.83 L642.9,2050.35 L643.6,2057.62 L644.3,2065.11 L645,2072.35 L645.7,2078.98 L646.4,2084.74 L647.1,2089.54 L647.8,2093.36 L648.5,2096.28 L649.2,2098.43 L649.9,2099.95 L650.6,2100.98 L651,2103.5 L239,2103.5 Z" fill="#dcdcdc" fill-opacity="0.85" stroke="none"/>
<path d="M239,2102.7 L239.7,2102.7 L240.4,2102.7 L241.1,2102.7 L241.8,2102.7 L242.5,2102.7 L243.2,2102.7 L243.9,2102.7 L244.6,2102.7 L245.3,2102.7 L246,2102.7 L246.7,2102.7 L247.4,2102.7 L248.1,2102.7 L248.8,2102.7 L249.5,2102.7 L250.2,2102.7 L250.9,2102.7 L251.6,2102.7 L252.3,2102.7 L253,2102.7 L253.7,2102.7 L254.4,2102.7 L255.1,2102.7 L255.8,2102.7 L256.5,2102.7 L257.2,2102.7 L257.9,2102.7 L258.6,2102.7 L259.3,2102.7 L260,2102.7 L260.7,2102.7 L261.4,2102.7 L262.1,2102.7 L262.8,2102.7 L263.5,2102.7 L264.2,2102.7 L264.9,2102.7 L265.6,2102.7 L266.3,2102.7 L267,2102.7 L267.7,2102.7 L268.4,2102.7 L269.1,2102.7 L269.8,2102.7 L270.5,2102.7 L271.2,2102.7 L271.9,2102.7 L272.6,2102.7 L273.3,2102.7 L274,2102.7 L274.7,2102.7 L275.4,2102.7 L276.1,2102.7 L276.8,2102.7 L277.5,2102.7 L278.2,2102.7 L278.9,2102.7 L279.6,2102.69 L280.3,2102.69 L281,2102.67 L281.7,2102.64 L282.4,2102.59 L283.1,2102.49 L283.8,2102.32 L284.5,2102.02 L285.2,2101.54 L285.9,2100.76 L286.6,2099.59 L287.3,2097.85 L288,2095.39 L288.7,2092.02 L289.4,2087.6 L290.1,2082.02 L290.8,2075.28 L291.5,2067.5 L292.2,2058.94 L292.9,2050.03 L293.6,2041.31 L294.3,2033.41 L295,2026.98 L295.7,2022.58 L296.4,2020.6 L297.1,2021.25 L297.8,2024.45 L298.5,2029.91 L299.2,2037.13 L299.9,2045.51 L300.6,2054.4 L301.3,2063.2 L302,2071.42 L302.7,2078.72 L303.4,2084.89 L304.1,2089.9 L304.8,2093.79 L305.5,2096.69 L306.2,2098.78 L306.9,2100.22 L307.6,2101.18 L308.3,2101.8 L309,2102.18 L309.7,2102.41 L310.4,2102.55 L311.1,2102.62 L311.8,2102.66 L312.5,2102.68 L313.2,2102.69 L313.9,2102.7 L314.6,2102.7 L315.3,2102.7 L316,2102.7 L316.7,2102.7 L317.4,2102.7 L318.1,2102.7 L318.8,2102.7 L319.5,2102.7 L320.2,2102.7 L320.9,2102.7 L321.6,2102.7 L322.3,2102.7 L323,2102.7 L323.7,2102.7 L324.4,2102.7 L325.1,2102.7 L325.8,2102.7 L326.5,2102.7 L327.2,2102.7 L327.9,2102.7 L328.6,2102.7 L329.3,2102.7 L330,2102.7 L330.7,2102.7 L331.4,2102.7 L332.1,2102.7 L332.8,2102.7 L333.5,2102.7 L334.2,2102.7 L334.9,2102.7 L335.6,2102.7 L336.3,2102.7 L337,2102.7 L337.7,2102.7 L338.4,2102.7 L339.1,2102.7 L339.8,2102.7 L340.5,2102.7 L341.2,2102.7 L341.9,2102.7 L342.6,2102.7 L343.3,2102.7 L344,2102.7 L344.7,2102.7 L345.4,2102.7 L346.1,2102.7 L346.8,2102.7 L347.5,2102.7 L348.2,2102.7 L348.9,2102.7 L349.6,2102.7 L350.3,2102.7 L351,2102.7 L351.7,2102.7 L352.4,2102.7 L353.1,2102.7 L353.8,2102.7 L354.5,2102.7 L355.2,2102.7 L355.9,2102.7 L356.6,2102.7 L357.3,2102.7 L358,2102.7 L358.7,2102.7 L359.4,2102.7 L360.1,2102.7 L360.8,2102.7 L361.5,2102.7 L362.2,2102.7 L362.9,2102.7 L363.6,2102.7 L364.3,2102.7 L365,2102.7 L365.7,2102.7 L366.4,2102.7 L367.1,2102.7 L367.8,2102.7 L368.5,2102.7 L369.2,2102.7 L369.9,2102.7 L370.6,2102.7 L371.3,2102.7 L372,2102.7 L372.7,2102.7 L373.4,2102.7 L374.1,2102.69 L374.8,2102.69 L375.5,2102.67 L376.2,2102.64 L376.9,2102.59 L377.6,2102.5 L378.3,2102.34 L379,2102.07 L379.7,2101.64 L380.4,2100.96 L381.1,2099.94 L381.8,2098.46 L382.5,2096.4 L383.2,2093.62 L383.9,2090.02 L384.6,2085.57 L385.3,2080.29 L386,2074.31 L386.7,2067.88 L387.4,2061.34 L388.1,2055.13 L388.8,2049.72 L389.5,2045.57 L390.2,2043.04 L390.9,2042.38 L391.6,2043.65 L392.3,2046.72 L393,2051.31 L393.7,2057.02 L394.4,2063.39 L395.1,2069.94 L395.8,2076.26 L396.5,2082.04 L397.2,2087.07 L397.9,2091.25 L398.6,2094.58 L399.3,2097.12 L400,2098.99 L400.7,2100.31 L401.4,2101.21 L402.1,2101.8 L402.8,2102.17 L403.5,2102.4 L404.2,2102.54 L404.9,2102.61 L405.6,2102.66 L406.3,2102.68 L407,2102.69 L407.7,2102.69 L408.4,2102.7 L409.1,2102.69 L409.8,2102.69 L410.5,2102.68 L411.2,2102.65 L411.9,2102.61 L412.6,2102.53 L413.3,2102.38 L414,2102.14 L414.7,2101.74 L415.4,2101.11 L416.1,2100.14 L416.8,2098.72 L417.5,2096.7 L418.2,2093.95 L418.9,2090.35 L419.6,2085.81 L420.3,2080.33 L421,2074.01 L421.7,2067.08 L422.4,2059.88 L423.1,2052.85 L423.8,2046.51 L424.5,2041.36 L425.2,2037.87 L425.9,2036.36 L426.6,2036.96 L427.3,2039.62 L428,2044.09 L428.7,2049.97 L429.4,2056.76 L430.1,2063.95 L430.8,2071.05 L431.5,2077.67 L432.2,2083.53 L432.9,2088.48 L433.6,2092.49 L434.3,2095.6 L435,2097.92 L435.7,2099.59 L436.4,2100.73 L437.1,2101.5 L437.8,2101.99 L438.5,2102.29 L439.2,2102.47 L439.9,2102.58 L440.6,2102.64 L441.3,2102.67 L442,2102.68 L442.7,2102.69 L443.4,2102.7 L444.1,2102.7 L444.8,2102.7 L445.5,2102.7 L446.2,2102.7 L446.9,2102.7 L447.6,2102.7 L448.3,2102.7 L449,2102.7 L449.7,2102.7 L450.4,2102.7 L451.1,2102.7 L451.8,2102.7 L452.5,2102.7 L453.2,2102.7 L453.9,2102.7 L454.6,2102.7 L455.3,2102.7 L456,2102.7 L456.7,2102.7 L457.4,2102.7 L458.1,2102.7 L458.8,2102.7 L459.5,2102.7 L460.2,2102.7 L460.9,2102.7 L461.6,2102.7 L462.3,2102.7 L463,2102.7 L463.7,2102.69 L464.4,2102.68 L465.1,2102.66 L465.8,2102.62 L466.5,2102.56 L467.2,2102.44 L467.9,2102.24 L468.6,2101.9 L469.3,2101.37 L470,2100.56 L470.7,2099.37 L471.4,2097.67 L472.1,2095.35 L472.8,2092.3 L473.5,2088.44 L474.2,2083.78 L474.9,2078.38 L475.6,2072.44 L476.3,2066.24 L477,2060.16 L477.7,2054.64 L478.4,2050.13 L479.1,2047.02 L479.8,2045.59 L480.5,2045.98 L481.2,2048.16 L481.9,2051.91 L482.6,2056.91 L483.3,2062.72 L484,2068.91 L484.7,2075.04 L485.4,2080.77 L486.1,2085.87 L486.8,2090.19 L487.5,2093.7 L488.2,2096.43 L488.9,2098.47 L489.6,2099.94 L490.3,2100.95 L491,2101.63 L491.7,2102.06 L492.4,2102.34 L493.1,2102.5 L493.8,2102.59 L494.5,2102.64 L495.2,2102.67 L495.9,2102.68 L496.6,2102.69 L497.3,2102.69 L498,2102.69 L498.7,2102.68 L499.4,2102.65 L500.1,2102.61 L500.8,2102.52 L501.5,2102.37 L502.2,2102.1 L502.9,2101.67 L503.6,2100.97 L504.3,2099.89 L505,2098.29 L505.7,2095.99 L506.4,2092.81 L507.1,2088.59 L507.8,2083.21 L508.5,2076.62 L509.2,2068.92 L509.9,2060.32 L510.6,2051.23 L511.3,2042.17 L512,2033.77 L512.7,2026.69 L513.4,2021.54 L514.1,2018.8 L514.8,2018.71 L515.5,2021.28 L516.2,2026.28 L516.9,2033.24 L517.6,2041.57 L518.3,2050.61 L519,2059.72 L519.7,2068.36 L520.4,2076.13 L521.1,2082.8 L521.8,2088.26 L522.5,2092.56 L523.2,2095.8 L523.9,2098.16 L524.6,2099.8 L525.3,2100.91 L526,2101.63 L526.7,2102.08 L527.4,2102.35 L528.1,2102.51 L528.8,2102.6 L529.5,2102.65 L530.2,2102.68 L530.9,2102.69 L531.6,2102.69 L532.3,2102.7 L533,2102.7 L533.7,2102.7 L534.4,2102.7 L535.1,2102.7 L535.8,2102.7 L536.5,2102.7 L537.2,2102.7 L537.9,2102.7 L538.6,2102.69 L539.3,2102.68 L540,2102.65 L540.7,2102.61 L541.4,2102.53 L542.1,2102.38 L542.8,2102.12 L543.5,2101.69 L544.2,2100.99 L544.9,2099.91 L545.6,2098.27 L546.3,2095.9 L547,2092.6 L547.7,2088.16 L548.4,2082.43 L549.1,2075.35 L549.8,2066.96 L550.5,2057.47 L551.2,2047.29 L551.9,2036.96 L552.6,2027.19 L553.3,2018.7 L554,2012.23 L554.7,2008.35 L555.4,2007.42 L556.1,2009.53 L556.8,2014.48 L557.5,2021.82 L558.2,2030.9 L558.9,2040.98 L559.6,2051.32 L560.3,2061.29 L561,2070.38 L561.7,2078.28 L562.4,2084.83 L563.1,2090.04 L563.8,2094.01 L564.5,2096.93 L565.2,2098.99 L565.9,2100.39 L566.6,2101.31 L567.3,2101.89 L568,2102.24 L568.7,2102.45 L569.4,2102.57 L570.1,2102.63 L570.8,2102.67 L571.5,2102.68 L572.2,2102.69 L572.9,2102.7 L573.6,2102.7 L574.3,2102.7 L575,2102.7 L575.7,2102.7 L576.4,2102.7 L577.1,2102.7 L577.8,2102.7 L578.5,2102.7 L579.2,2102.7 L579.9,2102.7 L580.6,2102.7 L581.3,2102.7 L582,2102.7 L582.7,2102.7 L583.4,2102.7 L584.1,2102.7 L584.8,2102.7 L585.5,2102.7 L586.2,2102.7 L586.9,2102.7 L587.6,2102.7 L588.3,2102.7 L589,2102.69 L589.7,2102.69 L590.4,2102.67 L591.1,2102.64 L591.8,2102.59 L592.5,2102.5 L593.2,2102.34 L593.9,2102.06 L594.6,2101.62 L595.3,2100.92 L596,2099.86 L596.7,2098.31 L597.4,2096.13 L598.1,2093.19 L598.8,2089.37 L599.5,2084.61 L600.2,2078.93 L600.9,2072.44 L601.6,2065.41 L602.3,2058.21 L603,2051.29 L603.7,2045.18 L604.4,2040.38 L605.1,2037.32 L605.8,2036.28 L606.5,2037.35 L607.2,2040.42 L607.9,2045.18 L608.6,2051.17 L609.3,2057.86 L610,2064.65 L610.7,2071.01 L611.4,2076.44 L612.1,2080.58 L612.8,2083.13 L613.5,2083.9 L614.2,2082.79 L614.9,2079.82 L615.6,2075.09 L616.3,2068.8 L617,2061.31 L617.7,2053.08 L618.4,2044.71 L619.1,2036.86 L619.8,2030.19 L620.5,2025.32 L621.2,2022.71 L621.9,2022.62 L622.6,2025.06 L623.3,2029.8 L624,2036.42 L624.7,2044.34 L625.4,2052.92 L626.1,2061.55 L626.8,2069.68 L627.5,2076.92 L628.2,2082.98 L628.9,2087.7 L629.6,2091.04 L630.3,2092.98 L631,2093.54 L631.7,2092.76 L632.4,2090.65 L633.1,2087.25 L633.8,2082.6 L634.5,2076.83 L635.2,2070.15 L635.9,2062.88 L636.6,2055.45 L637.3,2048.36 L638,2042.17 L638.7,2037.4 L639.4,2034.48 L640.1,2033.7 L640.8,2035.11 L641.5,2038.59 L642.2,2043.83 L642.9,2050.35 L643.6,2057.62 L644.3,2065.11 L645,2072.35 L645.7,2078.98 L646.4,2084.74 L647.1,2089.54 L647.8,2093.36 L648.5,2096.28 L649.2,2098.43 L649.9,2099.95 L650.6,2100.98" fill="none" stroke="#111111" stroke-width="2.2" stroke-linejoin="round"/>
<line x1="239" y1="2104.6" x2="651" y2="2104.6" stroke="#4a6ad8" stroke-width="1.6" stroke-linecap="butt"/>
<rect x="381.5" y="1694" width="76.2" height="418" fill="none" stroke="#000" stroke-width="4"/>
<text x="78.8" y="1792.7" font-size="32.6">Untreated</text>
<text x="78.8" y="1823.3" font-size="32.6">WT/WT</text>
<text x="78.8" y="2009" font-size="32.6">Knock-in</text>
<text x="78.8" y="2039.6" font-size="32.6">Clone</text>
<text x="78.8" y="2069.5" font-size="33.4"><tspan fill="#f2301e">MUT</tspan>/<tspan fill="#f2301e">MUT</tspan></text>
<line x1="224" y1="2183.5" x2="224" y2="2617.7" stroke="#000" stroke-width="3.8" stroke-linecap="butt"/>
<line x1="206" y1="2615.8" x2="224" y2="2615.8" stroke="#000" stroke-width="3.8" stroke-linecap="butt"/>
<text x="201" y="2626.8" font-size="33" text-anchor="end">1000</text>
<line x1="206" y1="2472.37" x2="224" y2="2472.37" stroke="#000" stroke-width="3.8" stroke-linecap="butt"/>
<text x="201" y="2483.37" font-size="33" text-anchor="end">10000</text>
<line x1="206" y1="2328.94" x2="224" y2="2328.94" stroke="#000" stroke-width="3.8" stroke-linecap="butt"/>
<text x="201" y="2339.94" font-size="33" text-anchor="end">100000</text>
<line x1="206" y1="2185.51" x2="224" y2="2185.51" stroke="#000" stroke-width="3.8" stroke-linecap="butt"/>
<text x="201" y="2196.51" font-size="33" text-anchor="end">1000000</text>
<line x1="222.1" y1="2615.8" x2="654" y2="2615.8" stroke="#000" stroke-width="3.8" stroke-linecap="butt"/>
<line x1="324.7" y1="2615.8" x2="324.7" y2="2633.6" stroke="#000" stroke-width="3.6" stroke-linecap="butt"/>
<line x1="554" y1="2615.8" x2="554" y2="2633.6" stroke="#000" stroke-width="3.6" stroke-linecap="butt"/>
<text x="320.3" y="2669.8" font-size="32" text-anchor="middle">US</text>
<text x="553.5" y="2669.8" font-size="32" text-anchor="middle">IL4</text>
<text x="70" y="2486.6" font-size="31.3" transform="rotate(-90 70 2486.6)">IgM (pg/mL)</text>
<rect x="256.1" y="2334" width="51" height="280.3" fill="#808080" stroke="#111" stroke-width="2.2"/>
<rect x="342.4" y="2485.7" width="51" height="128.6" fill="#f07778" stroke="#111" stroke-width="2.2"/>
<rect x="486.2" y="2326.8" width="51" height="287.5" fill="#808080" stroke="#111" stroke-width="2.2"/>
<rect x="571.8" y="2432.5" width="51" height="181.8" fill="#f07778" stroke="#111" stroke-width="2.2"/>
<circle cx="261.2" cy="2316.2" r="7.8" fill="#000"/>
<circle cx="302.5" cy="2307.6" r="7.8" fill="#000"/>
<circle cx="281.2" cy="2336.6" r="7.8" fill="#000"/>
<circle cx="281.2" cy="2399.3" r="7.8" fill="#000"/>
<line x1="281.6" y1="2306.4" x2="281.6" y2="2373.7" stroke="#000" stroke-width="3.2" stroke-linecap="butt"/>
<line x1="266.6" y1="2306.4" x2="296.6" y2="2306.4" stroke="#000" stroke-width="3.4" stroke-linecap="butt"/>
<line x1="266.6" y1="2373.7" x2="296.6" y2="2373.7" stroke="#000" stroke-width="3.4" stroke-linecap="butt"/>
<circle cx="348.1" cy="2464.4" r="7.8" fill="#f2301e"/>
<circle cx="368.6" cy="2479.4" r="7.8" fill="#f2301e"/>
<circle cx="387.7" cy="2478" r="7.8" fill="#f2301e"/>
<circle cx="367.3" cy="2515.6" r="7.8" fill="#f2301e"/>
<line x1="367.9" y1="2466.2" x2="367.9" y2="2505" stroke="#000" stroke-width="3.2" stroke-linecap="butt"/>
<line x1="352.9" y1="2466.2" x2="382.9" y2="2466.2" stroke="#000" stroke-width="3.4" stroke-linecap="butt"/>
<line x1="352.9" y1="2505" x2="382.9" y2="2505" stroke="#000" stroke-width="3.4" stroke-linecap="butt"/>
<circle cx="490.8" cy="2305.5" r="7.8" fill="#000"/>
<circle cx="530.5" cy="2314" r="7.8" fill="#000"/>
<circle cx="511.3" cy="2374.5" r="7.8" fill="#000"/>
<line x1="511.7" y1="2299" x2="511.7" y2="2366" stroke="#000" stroke-width="3.2" stroke-linecap="butt"/>
<line x1="496.7" y1="2299" x2="526.7" y2="2299" stroke="#000" stroke-width="3.4" stroke-linecap="butt"/>
<line x1="496.7" y1="2366" x2="526.7" y2="2366" stroke="#000" stroke-width="3.4" stroke-linecap="butt"/>
<circle cx="597.8" cy="2407" r="7.8" fill="#f2301e"/>
<circle cx="616.5" cy="2438.5" r="7.8" fill="#f2301e"/>
<circle cx="577.3" cy="2453.4" r="7.8" fill="#f2301e"/>
<line x1="597.3" y1="2408.6" x2="597.3" y2="2460.2" stroke="#000" stroke-width="3.2" stroke-linecap="butt"/>
<line x1="582.3" y1="2408.6" x2="612.3" y2="2408.6" stroke="#000" stroke-width="3.4" stroke-linecap="butt"/>
<line x1="582.3" y1="2460.2" x2="612.3" y2="2460.2" stroke="#000" stroke-width="3.4" stroke-linecap="butt"/>
<path d="M281.2,2301 V2271.4 H367.3 V2433.3" fill="none" stroke="#000" stroke-width="3.6" stroke-linecap="round"/>
<path d="M511.3,2286 V2266 H597.8 V2371.6" fill="none" stroke="#000" stroke-width="3.6" stroke-linecap="round"/>
<text x="326" y="2274.5" font-size="42" text-anchor="middle" stroke="#000" stroke-width="0.9">*</text>
<text x="554" y="2274" font-size="42" text-anchor="middle" stroke="#000" stroke-width="0.9">*</text>
<text x="361.8" y="2192.6" font-size="32">BJAB cells</text>
<rect x="311.2" y="2209.8" width="50" height="25.7" fill="#808080" stroke="#111" stroke-width="2"/>
<text x="383.5" y="2233" font-size="32">WT</text>
<rect x="471.8" y="2209.8" width="50" height="25.7" fill="#f07778" stroke="#111" stroke-width="2"/>
<text x="540" y="2233" font-size="32">KI</text>
<text x="830.5" y="1607" font-size="33.2">Pathway enrichment in CBL P1, P2 and P3 versus paediatric controls</text>
<text x="736.4" y="1676.5" font-size="32.6">&#8211;log<tspan font-size="21.5" dy="10">10</tspan><tspan dy="-10">(p. adj)</tspan></text>
<circle cx="986.7" cy="1666" r="7.9" fill="none" stroke="#000" stroke-width="2.3"/>
<circle cx="1097.5" cy="1666" r="11.1" fill="none" stroke="#000" stroke-width="2.3"/>
<circle cx="1209.2" cy="1666" r="12.9" fill="none" stroke="#000" stroke-width="2.3"/>
<circle cx="1321" cy="1666" r="14.4" fill="none" stroke="#000" stroke-width="2.3"/>
<circle cx="1447.8" cy="1666" r="16" fill="none" stroke="#000" stroke-width="2.3"/>
<text x="1013.8" y="1679" font-size="31.5">2.5</text>
<text x="1136" y="1679" font-size="31.5">5.0</text>
<text x="1249.5" y="1679" font-size="31.5">7.5</text>
<text x="1359.6" y="1679" font-size="31.5">10.0</text>
<text x="1487.4" y="1679" font-size="31.5">12.5</text>
<text x="1593" y="1671" font-size="31.5">NES</text>
<rect x="1659.6" y="1637" width="202.6" height="40.8" fill="url(#nes)"/>
<rect x="1659.6" y="1637" width="202.6" height="40.8" fill="url(#nesv)"/>
<line x1="1691.5" y1="1637" x2="1691.5" y2="1643" stroke="#fff" stroke-width="1.2" stroke-linecap="butt"/>
<line x1="1691.5" y1="1671.8" x2="1691.5" y2="1677.8" stroke="#fff" stroke-width="1.2" stroke-linecap="butt"/>
<line x1="1740" y1="1637" x2="1740" y2="1643" stroke="#fff" stroke-width="1.2" stroke-linecap="butt"/>
<line x1="1740" y1="1671.8" x2="1740" y2="1677.8" stroke="#fff" stroke-width="1.2" stroke-linecap="butt"/>
<line x1="1783.7" y1="1637" x2="1783.7" y2="1643" stroke="#fff" stroke-width="1.2" stroke-linecap="butt"/>
<line x1="1783.7" y1="1671.8" x2="1783.7" y2="1677.8" stroke="#fff" stroke-width="1.2" stroke-linecap="butt"/>
<line x1="1831" y1="1637" x2="1831" y2="1643" stroke="#fff" stroke-width="1.2" stroke-linecap="butt"/>
<line x1="1831" y1="1671.8" x2="1831" y2="1677.8" stroke="#fff" stroke-width="1.2" stroke-linecap="butt"/>
<text x="1674.5" y="1711.8" font-size="32.5" text-anchor="middle">&#8211;1</text>
<text x="1734.8" y="1711.8" font-size="32.5" text-anchor="middle">0</text>
<text x="1783" y="1711.8" font-size="32.5" text-anchor="middle">1</text>
<text x="1832.6" y="1711.8" font-size="32.5" text-anchor="middle">2</text>
<line x1="917" y1="1765.6" x2="917" y2="1842" stroke="#333" stroke-width="4" stroke-linecap="butt"/>
<line x1="918" y1="1781.3" x2="1869" y2="1781.3" stroke="#c9c9c9" stroke-width="1.8" stroke-linecap="butt"/>
<line x1="903.5" y1="1781.3" x2="917" y2="1781.3" stroke="#333" stroke-width="4" stroke-linecap="butt"/>
<line x1="918" y1="1817.6" x2="1869" y2="1817.6" stroke="#c9c9c9" stroke-width="1.8" stroke-linecap="butt"/>
<line x1="903.5" y1="1817.6" x2="917" y2="1817.6" stroke="#333" stroke-width="4" stroke-linecap="butt"/>
<line x1="915" y1="1840" x2="1869" y2="1840" stroke="#111" stroke-width="4" stroke-linecap="butt"/>
<line x1="947.8" y1="1840" x2="947.8" y2="1852.5" stroke="#333" stroke-width="4" stroke-linecap="butt"/>
<line x1="1012.26" y1="1840" x2="1012.26" y2="1852.5" stroke="#333" stroke-width="4" stroke-linecap="butt"/>
<line x1="1076.72" y1="1840" x2="1076.72" y2="1852.5" stroke="#333" stroke-width="4" stroke-linecap="butt"/>
<line x1="1141.18" y1="1840" x2="1141.18" y2="1852.5" stroke="#333" stroke-width="4" stroke-linecap="butt"/>
<line x1="1205.64" y1="1840" x2="1205.64" y2="1852.5" stroke="#333" stroke-width="4" stroke-linecap="butt"/>
<line x1="1270.1" y1="1840" x2="1270.1" y2="1852.5" stroke="#333" stroke-width="4" stroke-linecap="butt"/>
<line x1="1334.56" y1="1840" x2="1334.56" y2="1852.5" stroke="#333" stroke-width="4" stroke-linecap="butt"/>
<line x1="1399.02" y1="1840" x2="1399.02" y2="1852.5" stroke="#333" stroke-width="4" stroke-linecap="butt"/>
<line x1="1463.48" y1="1840" x2="1463.48" y2="1852.5" stroke="#333" stroke-width="4" stroke-linecap="butt"/>
<line x1="1527.94" y1="1840" x2="1527.94" y2="1852.5" stroke="#333" stroke-width="4" stroke-linecap="butt"/>
<line x1="1592.4" y1="1840" x2="1592.4" y2="1852.5" stroke="#333" stroke-width="4" stroke-linecap="butt"/>
<line x1="1656.86" y1="1840" x2="1656.86" y2="1852.5" stroke="#333" stroke-width="4" stroke-linecap="butt"/>
<line x1="1721.32" y1="1840" x2="1721.32" y2="1852.5" stroke="#333" stroke-width="4" stroke-linecap="butt"/>
<line x1="1785.78" y1="1840" x2="1785.78" y2="1852.5" stroke="#333" stroke-width="4" stroke-linecap="butt"/>
<line x1="1850.24" y1="1840" x2="1850.24" y2="1852.5" stroke="#333" stroke-width="4" stroke-linecap="butt"/>
<circle cx="951" cy="1781.5" r="12.1" fill="#b05a5a" stroke="#000" stroke-width="2.6"/>
<circle cx="1017.2" cy="1781.5" r="11.4" fill="#b05858" stroke="#000" stroke-width="2.6"/>
<circle cx="1077.5" cy="1781.5" r="6" fill="#9c96d6" stroke="#000" stroke-width="2.6"/>
<circle cx="1139" cy="1781.5" r="12.7" fill="#b25a5a" stroke="#000" stroke-width="2.6"/>
<circle cx="1204.9" cy="1781.5" r="10.9" fill="#c07070" stroke="#000" stroke-width="2.6"/>
<circle cx="1269.4" cy="1781.5" r="10.9" fill="#b35a5a" stroke="#000" stroke-width="2.6"/>
<circle cx="1328.7" cy="1781.5" r="5.7" fill="#d09292" stroke="#000" stroke-width="2.6"/>
<circle cx="1385" cy="1781.5" r="8.7" fill="#c98383" stroke="#000" stroke-width="2.6"/>
<circle cx="1450.6" cy="1781.5" r="14.4" fill="#b46666" stroke="#000" stroke-width="2.6"/>
<circle cx="1521" cy="1781.5" r="13.1" fill="#a84646" stroke="#000" stroke-width="2.6"/>
<circle cx="1589" cy="1781.5" r="12.5" fill="#b86a6a" stroke="#000" stroke-width="2.6"/>
<circle cx="1650.7" cy="1781.5" r="7.3" fill="#c27676" stroke="#000" stroke-width="2.6"/>
<circle cx="1721.8" cy="1781.5" r="20.8" fill="#8a2027" stroke="#000" stroke-width="2.6"/>
<circle cx="1794.5" cy="1781.5" r="8.3" fill="#c47b7b" stroke="#000" stroke-width="2.6"/>
<circle cx="1851.5" cy="1781.5" r="6.7" fill="#c98787" stroke="#000" stroke-width="2.6"/>
<text x="962.2" y="1866.5" font-size="33.2" text-anchor="end" transform="rotate(-90 962.2 1866.5)">Apoptosis</text>
<text x="1021.86" y="1866.5" font-size="33.2" text-anchor="end" transform="rotate(-90 1021.86 1866.5)">Early estrogen response</text>
<text x="1085.22" y="1866.5" font-size="33.2" text-anchor="end" transform="rotate(-90 1085.22 1866.5)">Fatty acid metabolism</text>
<text x="1150.98" y="1866.5" font-size="33.2" text-anchor="end" transform="rotate(-90 1150.98 1866.5)">G to M checkpoint</text>
<text x="1215.24" y="1866.5" font-size="33.2" text-anchor="end" transform="rotate(-90 1215.24 1866.5)">IL-2 STAT5 signalling</text>
<text x="1280.9" y="1866.5" font-size="33.2" text-anchor="end" transform="rotate(-90 1280.9 1866.5)">Inflammatory response</text>
<text x="1346.56" y="1866.5" font-size="33.2" text-anchor="end" transform="rotate(-90 1346.56 1866.5)">mTORC1 signalling</text>
<text x="1409.02" y="1866.5" font-size="33.2" text-anchor="end" transform="rotate(-90 1409.02 1866.5)">IFNG response</text>
<text x="1470.98" y="1866.5" font-size="33.2" text-anchor="end" transform="rotate(-90 1470.98 1866.5)">MYC targets V1</text>
<text x="1535.44" y="1866.5" font-size="33.2" text-anchor="end" transform="rotate(-90 1535.44 1866.5)">MYC targets V2</text>
<text x="1604.4" y="1866.5" font-size="33.2" text-anchor="end" transform="rotate(-90 1604.4 1866.5)">p53 pathway</text>
<text x="1668.86" y="1866.5" font-size="33.2" text-anchor="end" transform="rotate(-90 1668.86 1866.5)">TGFB signalling</text>
<text x="1733.32" y="1866.5" font-size="33.2" text-anchor="end" transform="rotate(-90 1733.32 1866.5)">TNF signalling via NFKB</text>
<text x="1797.78" y="1866.5" font-size="33.2" text-anchor="end" transform="rotate(-90 1797.78 1866.5)">Unfolded protein response</text>
<text x="1860.74" y="1866.5" font-size="33.2" text-anchor="end" transform="rotate(-90 1860.74 1866.5)">UV response</text>
<text x="878" y="1772" font-size="33.2" text-anchor="end" transform="rotate(-60 878 1772)">Na&#239;ve B-cells <tspan font-style="italic">ex vivo</tspan></text>
<text x="898" y="1822" font-size="33.2" text-anchor="end" transform="rotate(-60 898 1822)">Na&#239;ve B-cells <tspan font-style="italic">in vitro</tspan> (24h)</text>
<text x="1060.5" y="2282" font-size="32">Ig production by B cells isolated from fresh blood</text>
<circle cx="1085" cy="2319.7" r="5.4" fill="#f2301e"/>
<text x="1096.5" y="2330.2" font-size="32.3">Patients P1, P2, P3, P4, P5, P8</text>
<circle cx="1085" cy="2354.3" r="5.4" fill="#000"/>
<text x="1096.5" y="2363.3" font-size="32.3">Healthy donors</text>
<line x1="1060.9" y1="2362" x2="1060.9" y2="2641.1" stroke="#000" stroke-width="3.4" stroke-linecap="butt"/>
<line x1="1048" y1="2639.4" x2="1060.9" y2="2639.4" stroke="#000" stroke-width="3.4" stroke-linecap="butt"/>
<text x="1029" y="2654" font-size="33" text-anchor="end">10</text>
<text x="1030.3" y="2642.8" font-size="19.5">2</text>
<line x1="1048" y1="2570.6" x2="1060.9" y2="2570.6" stroke="#000" stroke-width="3.4" stroke-linecap="butt"/>
<text x="1029" y="2585.2" font-size="33" text-anchor="end">10</text>
<text x="1030.3" y="2574" font-size="19.5">3</text>
<line x1="1048" y1="2501.8" x2="1060.9" y2="2501.8" stroke="#000" stroke-width="3.4" stroke-linecap="butt"/>
<text x="1029" y="2516.4" font-size="33" text-anchor="end">10</text>
<text x="1030.3" y="2505.2" font-size="19.5">4</text>
<line x1="1048" y1="2433" x2="1060.9" y2="2433" stroke="#000" stroke-width="3.4" stroke-linecap="butt"/>
<text x="1029" y="2447.6" font-size="33" text-anchor="end">10</text>
<text x="1030.3" y="2436.4" font-size="19.5">5</text>
<line x1="1048" y1="2364.2" x2="1060.9" y2="2364.2" stroke="#000" stroke-width="3.4" stroke-linecap="butt"/>
<text x="1029" y="2378.8" font-size="33" text-anchor="end">10</text>
<text x="1030.3" y="2367.6" font-size="19.5">6</text>
<line x1="1059.2" y1="2639.4" x2="1767.2" y2="2639.4" stroke="#000" stroke-width="3.4" stroke-linecap="butt"/>
<line x1="1172.8" y1="2639.4" x2="1172.8" y2="2652" stroke="#000" stroke-width="3.4" stroke-linecap="butt"/>
<line x1="1426.3" y1="2639.4" x2="1426.3" y2="2652" stroke="#000" stroke-width="3.4" stroke-linecap="butt"/>
<line x1="1681" y1="2639.4" x2="1681" y2="2652" stroke="#000" stroke-width="3.4" stroke-linecap="butt"/>
<text x="1186.2" y="2680.6" font-size="32" text-anchor="middle">IgG1</text>
<text x="1442.5" y="2681" font-size="32" text-anchor="middle">IgG3</text>
<text x="1687.7" y="2681" font-size="32" text-anchor="middle">IgM</text>
<text x="977" y="2664" font-size="31.8" transform="rotate(-90 977 2664)">Ig concentration (pg/ml)</text>
<line x1="1295.1" y1="2382" x2="1295.1" y2="2640" stroke="#000" stroke-width="3.4" stroke-linecap="butt" stroke-dasharray="11 6.5"/>
<line x1="1558.9" y1="2363" x2="1558.9" y2="2640" stroke="#000" stroke-width="3.4" stroke-linecap="butt" stroke-dasharray="11 6.5"/>
<line x1="1096" y1="2527.8" x2="1157" y2="2527.8" stroke="#000" stroke-width="5.6" stroke-linecap="butt"/>
<line x1="1189" y1="2503.8" x2="1251.8" y2="2503.8" stroke="#000" stroke-width="5.6" stroke-linecap="butt"/>
<line x1="1348.3" y1="2567.6" x2="1411" y2="2567.6" stroke="#000" stroke-width="5.6" stroke-linecap="butt"/>
<line x1="1443.5" y1="2515.6" x2="1506.2" y2="2515.6" stroke="#000" stroke-width="5.6" stroke-linecap="butt"/>
<line x1="1602.7" y1="2457" x2="1665.3" y2="2457" stroke="#000" stroke-width="5.6" stroke-linecap="butt"/>
<line x1="1698.2" y1="2383.4" x2="1761" y2="2383.4" stroke="#000" stroke-width="5.6" stroke-linecap="butt"/>
<circle cx="1115.6" cy="2500.8" r="5.2" fill="#000"/>
<circle cx="1133.7" cy="2500.8" r="5.2" fill="#000"/>
<circle cx="1098.5" cy="2524.2" r="5.2" fill="#000"/>
<circle cx="1098.5" cy="2536.2" r="5.2" fill="#000"/>
<circle cx="1133.7" cy="2534.1" r="5.2" fill="#000"/>
<circle cx="1151.1" cy="2534.1" r="5.2" fill="#000"/>
<circle cx="1098.5" cy="2558.8" r="5.2" fill="#000"/>
<circle cx="1115.6" cy="2554.3" r="5.2" fill="#000"/>
<circle cx="1133.7" cy="2558.8" r="5.2" fill="#000"/>
<circle cx="1151.1" cy="2558.8" r="5.2" fill="#000"/>
<circle cx="1358.3" cy="2546.3" r="5.2" fill="#000"/>
<circle cx="1379.6" cy="2551" r="5.2" fill="#000"/>
<circle cx="1400.6" cy="2546.3" r="5.2" fill="#000"/>
<circle cx="1358.3" cy="2558.8" r="5.2" fill="#000"/>
<circle cx="1379.6" cy="2569.8" r="5.2" fill="#000"/>
<circle cx="1358.3" cy="2585.5" r="5.2" fill="#000"/>
<circle cx="1379.6" cy="2594.8" r="5.2" fill="#000"/>
<circle cx="1400.6" cy="2594.2" r="5.2" fill="#000"/>
<circle cx="1379.6" cy="2612.1" r="5.2" fill="#000"/>
<circle cx="1379.6" cy="2626.2" r="5.2" fill="#000"/>
<circle cx="1613" cy="2433.5" r="5.2" fill="#000"/>
<circle cx="1634" cy="2429.4" r="5.2" fill="#000"/>
<circle cx="1613" cy="2446" r="5.2" fill="#000"/>
<circle cx="1634" cy="2441.3" r="5.2" fill="#000"/>
<circle cx="1644.3" cy="2464.2" r="5.2" fill="#000"/>
<circle cx="1623.7" cy="2470.5" r="5.2" fill="#000"/>
<circle cx="1613" cy="2502.4" r="5.2" fill="#000"/>
<circle cx="1613" cy="2512.5" r="5.2" fill="#000"/>
<circle cx="1634" cy="2508.7" r="5.2" fill="#000"/>
<circle cx="1655" cy="2511.8" r="5.2" fill="#000"/>
<circle cx="1193.2" cy="2501" r="5.2" fill="#f2301e"/>
<circle cx="1211.3" cy="2497.1" r="5.2" fill="#f2301e"/>
<circle cx="1229.3" cy="2506.2" r="5.2" fill="#f2301e"/>
<circle cx="1247.4" cy="2498.6" r="5.2" fill="#f2301e"/>
<circle cx="1211.3" cy="2514.3" r="5.2" fill="#f2301e"/>
<circle cx="1474.9" cy="2485.2" r="5.2" fill="#f2301e"/>
<circle cx="1474.9" cy="2506.2" r="5.2" fill="#f2301e"/>
<circle cx="1474.9" cy="2538.5" r="5.2" fill="#f2301e"/>
<circle cx="1474.9" cy="2566.7" r="5.2" fill="#f2301e"/>
<circle cx="1474.9" cy="2577.6" r="5.2" fill="#f2301e"/>
<circle cx="1708.6" cy="2377.7" r="5.2" fill="#f2301e"/>
<circle cx="1729.6" cy="2374" r="5.2" fill="#f2301e"/>
<circle cx="1749.9" cy="2381.8" r="5.2" fill="#f2301e"/>
<circle cx="1729.6" cy="2390.3" r="5.2" fill="#f2301e"/>
<circle cx="1729.6" cy="2402.2" r="5.2" fill="#f2301e"/>
<path d="M1124.7,2485 V2402.4 H1220.9 V2483" fill="none" stroke="#000" stroke-width="3.4" stroke-linecap="round"/>
<path d="M1379.6,2530.6 V2402.2 H1474.9 V2469.5" fill="none" stroke="#000" stroke-width="3.4" stroke-linecap="round"/>
<path d="M1634,2414.7 V2356.8 H1730.2 V2364.6" fill="none" stroke="#000" stroke-width="3.4" stroke-linecap="round"/>
<text x="1173" y="2411" font-size="42" text-anchor="middle" stroke="#000" stroke-width="0.9">*</text>
<text x="1429" y="2412" font-size="42" text-anchor="middle" stroke="#000" stroke-width="0.9">*</text>
<text x="1681" y="2362" font-size="42" text-anchor="middle" stroke="#000" stroke-width="0.9">***</text>
</svg>
</body></html>
